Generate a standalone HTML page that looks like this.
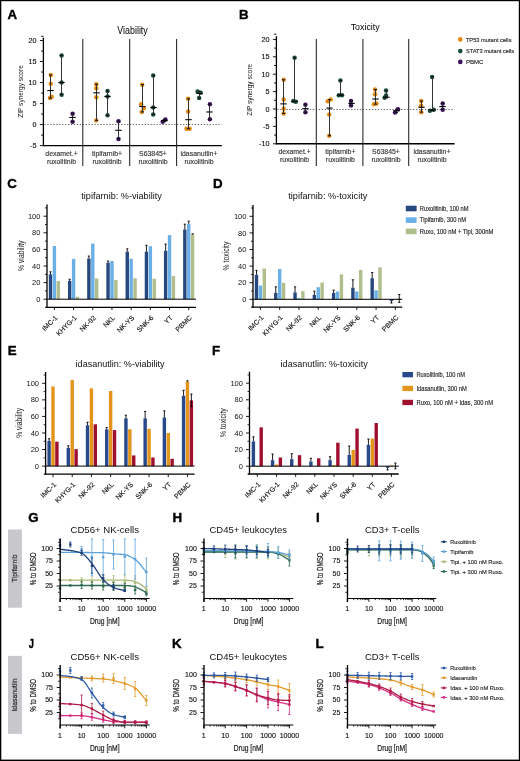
<!DOCTYPE html>
<html><head><meta charset="utf-8"><style>
html,body{margin:0;padding:0;background:#fff;}
svg{display:block;font-family:"Liberation Sans", sans-serif;will-change:transform;}
</style></head><body>
<svg width="520" height="761" viewBox="0 0 520 761">
<rect width="520" height="761" fill="#fff"/>
<rect x="0" y="0" width="520" height="1.2" fill="#000"/>
<rect x="0" y="0" width="1.3" height="761" fill="#000"/>
<rect x="518.8" y="0" width="1.2" height="761" fill="#000"/>
<rect x="0" y="759.6" width="520" height="1.4" fill="#000"/>
<text x="7.5" y="19" font-size="13.3" text-anchor="start" font-weight="bold" fill="#000" stroke="#000" stroke-width="0.4">A</text>
<text x="239.1" y="19" font-size="13.3" text-anchor="start" font-weight="bold" fill="#000" stroke="#000" stroke-width="0.4">B</text>
<text x="7.2" y="188" font-size="13.3" text-anchor="start" font-weight="bold" fill="#000" stroke="#000" stroke-width="0.4">C</text>
<text x="213" y="188.1" font-size="13.3" text-anchor="start" font-weight="bold" fill="#000" stroke="#000" stroke-width="0.4">D</text>
<text x="7.7" y="354.9" font-size="13.3" text-anchor="start" font-weight="bold" fill="#000" stroke="#000" stroke-width="0.4">E</text>
<text x="211.9" y="355.2" font-size="13.3" text-anchor="start" font-weight="bold" fill="#000" stroke="#000" stroke-width="0.4">F</text>
<text x="28.3" y="521.8" font-size="13.3" text-anchor="start" font-weight="bold" fill="#000" stroke="#000" stroke-width="0.4">G</text>
<text x="172.4" y="521.8" font-size="13.3" text-anchor="start" font-weight="bold" fill="#000" stroke="#000" stroke-width="0.4">H</text>
<text x="316" y="521.8" font-size="13.3" text-anchor="start" font-weight="bold" fill="#000" stroke="#000" stroke-width="0.4">I</text>
<text x="28.7" y="647.7" font-size="13.3" text-anchor="start" font-weight="bold" fill="#000" textLength="5.2" lengthAdjust="spacingAndGlyphs" stroke="#000" stroke-width="0.4">J</text>
<text x="171.9" y="647.7" font-size="13.3" text-anchor="start" font-weight="bold" fill="#000" stroke="#000" stroke-width="0.4">K</text>
<text x="315.4" y="647.7" font-size="13.3" text-anchor="start" font-weight="bold" fill="#000" stroke="#000" stroke-width="0.4">L</text>
<line x1="43.4" y1="37.7" x2="43.4" y2="146.32" stroke="#000" stroke-width="1.3" />
<line x1="39.9" y1="145.62" x2="43.4" y2="145.62" stroke="#000" stroke-width="0.9" />
<text x="36.4" y="148.12" font-size="7.2" text-anchor="end" font-weight="normal" fill="#111" stroke="#111" stroke-width="0.13">-5</text>
<line x1="39.9" y1="124.6" x2="43.4" y2="124.6" stroke="#000" stroke-width="0.9" />
<text x="36.4" y="127.1" font-size="7.2" text-anchor="end" font-weight="normal" fill="#111" stroke="#111" stroke-width="0.13">0</text>
<line x1="39.9" y1="103.57" x2="43.4" y2="103.57" stroke="#000" stroke-width="0.9" />
<text x="36.4" y="106.07" font-size="7.2" text-anchor="end" font-weight="normal" fill="#111" stroke="#111" stroke-width="0.13">5</text>
<line x1="39.9" y1="82.55" x2="43.4" y2="82.55" stroke="#000" stroke-width="0.9" />
<text x="36.4" y="85.05" font-size="7.2" text-anchor="end" font-weight="normal" fill="#111" stroke="#111" stroke-width="0.13">10</text>
<line x1="39.9" y1="61.52" x2="43.4" y2="61.52" stroke="#000" stroke-width="0.9" />
<text x="36.4" y="64.02" font-size="7.2" text-anchor="end" font-weight="normal" fill="#111" stroke="#111" stroke-width="0.13">15</text>
<line x1="39.9" y1="40.5" x2="43.4" y2="40.5" stroke="#000" stroke-width="0.9" />
<text x="36.4" y="43" font-size="7.2" text-anchor="end" font-weight="normal" fill="#111" stroke="#111" stroke-width="0.13">20</text>
<line x1="41.2" y1="135.11" x2="43.4" y2="135.11" stroke="#000" stroke-width="1" />
<line x1="41.2" y1="114.09" x2="43.4" y2="114.09" stroke="#000" stroke-width="1" />
<line x1="41.2" y1="93.06" x2="43.4" y2="93.06" stroke="#000" stroke-width="1" />
<line x1="41.2" y1="72.04" x2="43.4" y2="72.04" stroke="#000" stroke-width="1" />
<line x1="41.2" y1="51.01" x2="43.4" y2="51.01" stroke="#000" stroke-width="1" />
<line x1="41.2" y1="36.29" x2="43.4" y2="36.29" stroke="#000" stroke-width="1" />
<line x1="43.4" y1="145.62" x2="221.8" y2="145.62" stroke="#000" stroke-width="1.4" />
<line x1="44.4" y1="124.5" x2="221.8" y2="124.5" stroke="#666" stroke-width="1" stroke-dasharray="1.3 1.65"/>
<line x1="82.8" y1="39.1" x2="82.8" y2="166" stroke="#222" stroke-width="1.05" />
<line x1="129.7" y1="39.1" x2="129.7" y2="166" stroke="#222" stroke-width="1.05" />
<line x1="176.6" y1="39.1" x2="176.6" y2="166" stroke="#222" stroke-width="1.05" />
<text x="117.3" y="33.5" font-size="10.1" text-anchor="start" font-weight="normal" fill="#000" textLength="30.5" lengthAdjust="spacingAndGlyphs" >Viability</text>
<text x="22.6" y="91.5" font-size="7.4" text-anchor="middle" font-weight="normal" fill="#111" textLength="52.5" lengthAdjust="spacingAndGlyphs" transform="rotate(-90 22.6 91.5)" >ZIP synergy score</text>
<text x="61.5" y="155.53" font-size="6.9" text-anchor="middle" font-weight="normal" fill="#333" stroke="#333" stroke-width="0.13">dexamet.+</text>
<text x="61.5" y="163.82" font-size="6.9" text-anchor="middle" font-weight="normal" fill="#333" stroke="#333" stroke-width="0.13">ruxolitinib</text>
<text x="107" y="155.53" font-size="6.9" text-anchor="middle" font-weight="normal" fill="#333" stroke="#333" stroke-width="0.13">tipifarnib+</text>
<text x="107" y="163.82" font-size="6.9" text-anchor="middle" font-weight="normal" fill="#333" stroke="#333" stroke-width="0.13">ruxolitinib</text>
<text x="153" y="155.53" font-size="6.9" text-anchor="middle" font-weight="normal" fill="#333" stroke="#333" stroke-width="0.13">S63845+</text>
<text x="153" y="163.82" font-size="6.9" text-anchor="middle" font-weight="normal" fill="#333" stroke="#333" stroke-width="0.13">ruxolitinib</text>
<text x="199" y="155.53" font-size="6.9" text-anchor="middle" font-weight="normal" fill="#333" stroke="#333" stroke-width="0.13">idasanutlin+</text>
<text x="199" y="163.82" font-size="6.9" text-anchor="middle" font-weight="normal" fill="#333" stroke="#333" stroke-width="0.13">ruxolitinib</text>
<circle cx="50.8" cy="74.98" r="2.25" fill="#E38A0E"/>
<circle cx="50.8" cy="83.81" r="2.25" fill="#E38A0E"/>
<circle cx="51.6" cy="96.85" r="2.25" fill="#E38A0E"/>
<circle cx="50" cy="98.11" r="2.25" fill="#E38A0E"/>
<line x1="50.5" y1="74.98" x2="50.5" y2="98.11" stroke="#333" stroke-width="1.05" />
<line x1="49" y1="74.98" x2="52" y2="74.98" stroke="#111" stroke-width="1" />
<line x1="49" y1="98.11" x2="52" y2="98.11" stroke="#111" stroke-width="1" />
<line x1="47.3" y1="90.54" x2="53.7" y2="90.54" stroke="#000" stroke-width="1.1" />
<circle cx="61.6" cy="55.39" r="2.25" fill="#1B4D37"/>
<circle cx="61.6" cy="82.55" r="2.25" fill="#1B4D37"/>
<circle cx="61.6" cy="94.74" r="2.25" fill="#1B4D37"/>
<line x1="61.5" y1="55.39" x2="61.5" y2="94.74" stroke="#333" stroke-width="1.05" />
<line x1="60" y1="55.39" x2="63" y2="55.39" stroke="#111" stroke-width="1" />
<line x1="60" y1="94.74" x2="63" y2="94.74" stroke="#111" stroke-width="1" />
<line x1="58.3" y1="82.55" x2="64.7" y2="82.55" stroke="#000" stroke-width="1.1" />
<circle cx="72.6" cy="113.67" r="2.25" fill="#3D1160"/>
<circle cx="72.6" cy="121.66" r="2.25" fill="#3D1160"/>
<line x1="72.5" y1="113.67" x2="72.5" y2="121.66" stroke="#333" stroke-width="1.05" />
<line x1="71" y1="113.67" x2="74" y2="113.67" stroke="#111" stroke-width="1" />
<line x1="71" y1="121.66" x2="74" y2="121.66" stroke="#111" stroke-width="1" />
<line x1="69.3" y1="117.45" x2="75.7" y2="117.45" stroke="#000" stroke-width="1.1" />
<circle cx="96.25" cy="84.23" r="2.25" fill="#E38A0E"/>
<circle cx="96.25" cy="88.23" r="2.25" fill="#E38A0E"/>
<circle cx="96.25" cy="97.27" r="2.25" fill="#E38A0E"/>
<circle cx="96.25" cy="120.39" r="2.25" fill="#E38A0E"/>
<line x1="96.5" y1="84.23" x2="96.5" y2="120.39" stroke="#333" stroke-width="1.05" />
<line x1="95" y1="84.23" x2="98" y2="84.23" stroke="#111" stroke-width="1" />
<line x1="95" y1="120.39" x2="98" y2="120.39" stroke="#111" stroke-width="1" />
<line x1="93.3" y1="92.85" x2="99.7" y2="92.85" stroke="#000" stroke-width="1.1" />
<circle cx="107.55" cy="90.96" r="2.25" fill="#1B4D37"/>
<circle cx="107.55" cy="96.43" r="2.25" fill="#1B4D37"/>
<circle cx="107.55" cy="115.35" r="2.25" fill="#1B4D37"/>
<line x1="107.5" y1="90.96" x2="107.5" y2="115.35" stroke="#333" stroke-width="1.05" />
<line x1="106" y1="90.96" x2="109" y2="90.96" stroke="#111" stroke-width="1" />
<line x1="106" y1="115.35" x2="109" y2="115.35" stroke="#111" stroke-width="1" />
<line x1="104.3" y1="96.43" x2="110.7" y2="96.43" stroke="#000" stroke-width="1.1" />
<circle cx="118.5" cy="121.24" r="2.25" fill="#3D1160"/>
<circle cx="118.5" cy="138.9" r="2.25" fill="#3D1160"/>
<line x1="118.5" y1="121.24" x2="118.5" y2="138.9" stroke="#333" stroke-width="1.05" />
<line x1="117" y1="121.24" x2="120" y2="121.24" stroke="#111" stroke-width="1" />
<line x1="117" y1="138.9" x2="120" y2="138.9" stroke="#111" stroke-width="1" />
<line x1="115.3" y1="130.28" x2="121.7" y2="130.28" stroke="#000" stroke-width="1.1" />
<circle cx="142.2" cy="84.65" r="2.25" fill="#E38A0E"/>
<circle cx="141.2" cy="104.21" r="2.25" fill="#E38A0E"/>
<circle cx="143.7" cy="108.2" r="2.25" fill="#E38A0E"/>
<circle cx="141.7" cy="111.98" r="2.25" fill="#E38A0E"/>
<line x1="142.5" y1="84.65" x2="142.5" y2="111.98" stroke="#333" stroke-width="1.05" />
<line x1="141" y1="84.65" x2="144" y2="84.65" stroke="#111" stroke-width="1" />
<line x1="141" y1="111.98" x2="144" y2="111.98" stroke="#111" stroke-width="1" />
<line x1="139.3" y1="106.52" x2="145.7" y2="106.52" stroke="#000" stroke-width="1.1" />
<circle cx="153.2" cy="75.4" r="2.25" fill="#1B4D37"/>
<circle cx="153.2" cy="107.53" r="2.25" fill="#1B4D37"/>
<circle cx="153.2" cy="114.51" r="2.25" fill="#1B4D37"/>
<line x1="153.5" y1="75.4" x2="153.5" y2="114.51" stroke="#333" stroke-width="1.05" />
<line x1="152" y1="75.4" x2="155" y2="75.4" stroke="#111" stroke-width="1" />
<line x1="152" y1="114.51" x2="155" y2="114.51" stroke="#111" stroke-width="1" />
<line x1="150.3" y1="107.53" x2="156.7" y2="107.53" stroke="#000" stroke-width="1.1" />
<circle cx="162.7" cy="121.66" r="2.25" fill="#3D1160"/>
<circle cx="165.4" cy="119.55" r="2.25" fill="#3D1160"/>
<line x1="164.5" y1="119.55" x2="164.5" y2="121.66" stroke="#333" stroke-width="1.05" />
<line x1="163" y1="119.55" x2="166" y2="119.55" stroke="#111" stroke-width="1" />
<line x1="163" y1="121.66" x2="166" y2="121.66" stroke="#111" stroke-width="1" />
<line x1="161.3" y1="120.61" x2="167.7" y2="120.61" stroke="#000" stroke-width="1.1" />
<circle cx="188.1" cy="98.74" r="2.25" fill="#E38A0E"/>
<circle cx="188.1" cy="111.56" r="2.25" fill="#E38A0E"/>
<circle cx="186.6" cy="128.81" r="2.25" fill="#E38A0E"/>
<circle cx="189.6" cy="128.81" r="2.25" fill="#E38A0E"/>
<line x1="188.5" y1="98.74" x2="188.5" y2="128.81" stroke="#333" stroke-width="1.05" />
<line x1="187" y1="98.74" x2="190" y2="98.74" stroke="#111" stroke-width="1" />
<line x1="187" y1="128.81" x2="190" y2="128.81" stroke="#111" stroke-width="1" />
<line x1="185.3" y1="119.68" x2="191.7" y2="119.68" stroke="#000" stroke-width="1.1" />
<circle cx="197.6" cy="91.38" r="2.25" fill="#1B4D37"/>
<circle cx="200.6" cy="92.64" r="2.25" fill="#1B4D37"/>
<circle cx="199.1" cy="98.11" r="2.25" fill="#1B4D37"/>
<line x1="199.5" y1="91.38" x2="199.5" y2="98.11" stroke="#333" stroke-width="1.05" />
<line x1="198" y1="91.38" x2="201" y2="91.38" stroke="#111" stroke-width="1" />
<line x1="198" y1="98.11" x2="201" y2="98.11" stroke="#111" stroke-width="1" />
<line x1="196.3" y1="93.48" x2="202.7" y2="93.48" stroke="#000" stroke-width="1.1" />
<circle cx="209.9" cy="104.21" r="2.25" fill="#3D1160"/>
<circle cx="209.9" cy="119.13" r="2.25" fill="#3D1160"/>
<line x1="209.5" y1="104.21" x2="209.5" y2="119.13" stroke="#333" stroke-width="1.05" />
<line x1="208" y1="104.21" x2="211" y2="104.21" stroke="#111" stroke-width="1" />
<line x1="208" y1="119.13" x2="211" y2="119.13" stroke="#111" stroke-width="1" />
<line x1="206.3" y1="111.98" x2="212.7" y2="111.98" stroke="#000" stroke-width="1.1" />
<line x1="276.4" y1="36.2" x2="276.4" y2="144.5" stroke="#000" stroke-width="1.3" />
<line x1="272.9" y1="143.8" x2="276.4" y2="143.8" stroke="#000" stroke-width="0.9" />
<text x="269.4" y="146.3" font-size="7.2" text-anchor="end" font-weight="normal" fill="#111" stroke="#111" stroke-width="0.13">-10</text>
<line x1="272.9" y1="126.4" x2="276.4" y2="126.4" stroke="#000" stroke-width="0.9" />
<text x="269.4" y="128.9" font-size="7.2" text-anchor="end" font-weight="normal" fill="#111" stroke="#111" stroke-width="0.13">-5</text>
<line x1="272.9" y1="109" x2="276.4" y2="109" stroke="#000" stroke-width="0.9" />
<text x="269.4" y="111.5" font-size="7.2" text-anchor="end" font-weight="normal" fill="#111" stroke="#111" stroke-width="0.13">0</text>
<line x1="272.9" y1="91.6" x2="276.4" y2="91.6" stroke="#000" stroke-width="0.9" />
<text x="269.4" y="94.1" font-size="7.2" text-anchor="end" font-weight="normal" fill="#111" stroke="#111" stroke-width="0.13">5</text>
<line x1="272.9" y1="74.2" x2="276.4" y2="74.2" stroke="#000" stroke-width="0.9" />
<text x="269.4" y="76.7" font-size="7.2" text-anchor="end" font-weight="normal" fill="#111" stroke="#111" stroke-width="0.13">10</text>
<line x1="272.9" y1="56.8" x2="276.4" y2="56.8" stroke="#000" stroke-width="0.9" />
<text x="269.4" y="59.3" font-size="7.2" text-anchor="end" font-weight="normal" fill="#111" stroke="#111" stroke-width="0.13">15</text>
<line x1="272.9" y1="39.4" x2="276.4" y2="39.4" stroke="#000" stroke-width="0.9" />
<text x="269.4" y="41.9" font-size="7.2" text-anchor="end" font-weight="normal" fill="#111" stroke="#111" stroke-width="0.13">20</text>
<line x1="274.2" y1="135.1" x2="276.4" y2="135.1" stroke="#000" stroke-width="1" />
<line x1="274.2" y1="117.7" x2="276.4" y2="117.7" stroke="#000" stroke-width="1" />
<line x1="274.2" y1="100.3" x2="276.4" y2="100.3" stroke="#000" stroke-width="1" />
<line x1="274.2" y1="82.9" x2="276.4" y2="82.9" stroke="#000" stroke-width="1" />
<line x1="274.2" y1="65.5" x2="276.4" y2="65.5" stroke="#000" stroke-width="1" />
<line x1="274.2" y1="48.1" x2="276.4" y2="48.1" stroke="#000" stroke-width="1" />
<line x1="274.2" y1="34.18" x2="276.4" y2="34.18" stroke="#000" stroke-width="1" />
<line x1="276.4" y1="143.8" x2="454.6" y2="143.8" stroke="#000" stroke-width="1.4" />
<line x1="277.4" y1="109.5" x2="454.6" y2="109.5" stroke="#666" stroke-width="1" stroke-dasharray="1.3 1.65"/>
<line x1="316.3" y1="39.1" x2="316.3" y2="166" stroke="#222" stroke-width="1.05" />
<line x1="362.9" y1="39.1" x2="362.9" y2="166" stroke="#222" stroke-width="1.05" />
<line x1="408.7" y1="39.1" x2="408.7" y2="166" stroke="#222" stroke-width="1.05" />
<text x="350.7" y="29.9" font-size="9.4" text-anchor="start" font-weight="normal" fill="#000" textLength="29" lengthAdjust="spacingAndGlyphs" >Toxicity</text>
<text x="252.3" y="89.8" font-size="7.4" text-anchor="middle" font-weight="normal" fill="#111" textLength="52" lengthAdjust="spacingAndGlyphs" transform="rotate(-90 252.3 89.8)" >ZIP synergy score</text>
<text x="294.6" y="153.7" font-size="6.9" text-anchor="middle" font-weight="normal" fill="#333" stroke="#333" stroke-width="0.13">dexamet.+</text>
<text x="294.6" y="162" font-size="6.9" text-anchor="middle" font-weight="normal" fill="#333" stroke="#333" stroke-width="0.13">ruxolitinib</text>
<text x="340.4" y="153.7" font-size="6.9" text-anchor="middle" font-weight="normal" fill="#333" stroke="#333" stroke-width="0.13">tipifarnib+</text>
<text x="340.4" y="162" font-size="6.9" text-anchor="middle" font-weight="normal" fill="#333" stroke="#333" stroke-width="0.13">ruxolitinib</text>
<text x="386" y="153.7" font-size="6.9" text-anchor="middle" font-weight="normal" fill="#333" stroke="#333" stroke-width="0.13">S63845+</text>
<text x="386" y="162" font-size="6.9" text-anchor="middle" font-weight="normal" fill="#333" stroke="#333" stroke-width="0.13">ruxolitinib</text>
<text x="432" y="153.7" font-size="6.9" text-anchor="middle" font-weight="normal" fill="#333" stroke="#333" stroke-width="0.13">idasanutlin+</text>
<text x="432" y="162" font-size="6.9" text-anchor="middle" font-weight="normal" fill="#333" stroke="#333" stroke-width="0.13">ruxolitinib</text>
<circle cx="283.7" cy="79.77" r="2.25" fill="#E38A0E"/>
<circle cx="283.7" cy="99.4" r="2.25" fill="#E38A0E"/>
<circle cx="283.7" cy="108.65" r="2.25" fill="#E38A0E"/>
<circle cx="283.7" cy="113.52" r="2.25" fill="#E38A0E"/>
<line x1="283.5" y1="79.77" x2="283.5" y2="113.52" stroke="#333" stroke-width="1.05" />
<line x1="282" y1="79.77" x2="285" y2="79.77" stroke="#111" stroke-width="1" />
<line x1="282" y1="113.52" x2="285" y2="113.52" stroke="#111" stroke-width="1" />
<line x1="280.3" y1="103.88" x2="286.7" y2="103.88" stroke="#000" stroke-width="1.1" />
<circle cx="294.6" cy="57.84" r="2.25" fill="#1B4D37"/>
<circle cx="293.4" cy="101" r="2.25" fill="#1B4D37"/>
<circle cx="295.8" cy="101.69" r="2.25" fill="#1B4D37"/>
<line x1="294.5" y1="57.84" x2="294.5" y2="101.69" stroke="#333" stroke-width="1.05" />
<line x1="293" y1="57.84" x2="296" y2="57.84" stroke="#111" stroke-width="1" />
<line x1="293" y1="101.69" x2="296" y2="101.69" stroke="#111" stroke-width="1" />
<line x1="291.3" y1="101.34" x2="297.7" y2="101.34" stroke="#000" stroke-width="1.1" />
<circle cx="305.4" cy="104.82" r="2.25" fill="#3D1160"/>
<circle cx="305.4" cy="112.31" r="2.25" fill="#3D1160"/>
<line x1="305.5" y1="104.82" x2="305.5" y2="112.31" stroke="#333" stroke-width="1.05" />
<line x1="304" y1="104.82" x2="307" y2="104.82" stroke="#111" stroke-width="1" />
<line x1="304" y1="112.31" x2="307" y2="112.31" stroke="#111" stroke-width="1" />
<line x1="302.3" y1="108.65" x2="308.7" y2="108.65" stroke="#000" stroke-width="1.1" />
<circle cx="330.7" cy="99.6" r="2.25" fill="#E38A0E"/>
<circle cx="327.7" cy="101.34" r="2.25" fill="#E38A0E"/>
<circle cx="329.2" cy="114.57" r="2.25" fill="#E38A0E"/>
<circle cx="329.2" cy="135.8" r="2.25" fill="#E38A0E"/>
<line x1="329.5" y1="99.6" x2="329.5" y2="135.8" stroke="#333" stroke-width="1.05" />
<line x1="328" y1="99.6" x2="331" y2="99.6" stroke="#111" stroke-width="1" />
<line x1="328" y1="135.8" x2="331" y2="135.8" stroke="#111" stroke-width="1" />
<line x1="326.3" y1="108.1" x2="332.7" y2="108.1" stroke="#000" stroke-width="1.1" />
<circle cx="340.4" cy="80.46" r="2.25" fill="#1B4D37"/>
<circle cx="338.8" cy="95.18" r="2.25" fill="#1B4D37"/>
<circle cx="342" cy="95.18" r="2.25" fill="#1B4D37"/>
<line x1="340.5" y1="80.46" x2="340.5" y2="95.18" stroke="#333" stroke-width="1.05" />
<line x1="339" y1="80.46" x2="342" y2="80.46" stroke="#111" stroke-width="1" />
<line x1="339" y1="95.18" x2="342" y2="95.18" stroke="#111" stroke-width="1" />
<line x1="337.3" y1="95.08" x2="343.7" y2="95.08" stroke="#000" stroke-width="1.1" />
<circle cx="351" cy="101" r="2.25" fill="#3D1160"/>
<circle cx="351" cy="105.42" r="2.25" fill="#3D1160"/>
<line x1="351.5" y1="101" x2="351.5" y2="105.42" stroke="#333" stroke-width="1.05" />
<line x1="350" y1="101" x2="353" y2="101" stroke="#111" stroke-width="1" />
<line x1="350" y1="105.42" x2="353" y2="105.42" stroke="#111" stroke-width="1" />
<line x1="348.3" y1="103.43" x2="354.7" y2="103.43" stroke="#000" stroke-width="1.1" />
<circle cx="375" cy="89.51" r="2.25" fill="#E38A0E"/>
<circle cx="375" cy="94.21" r="2.25" fill="#E38A0E"/>
<circle cx="374" cy="104.13" r="2.25" fill="#E38A0E"/>
<circle cx="376.5" cy="103.43" r="2.25" fill="#E38A0E"/>
<line x1="375.5" y1="89.51" x2="375.5" y2="104.13" stroke="#333" stroke-width="1.05" />
<line x1="374" y1="89.51" x2="377" y2="89.51" stroke="#111" stroke-width="1" />
<line x1="374" y1="104.13" x2="377" y2="104.13" stroke="#111" stroke-width="1" />
<line x1="372.3" y1="99.01" x2="378.7" y2="99.01" stroke="#000" stroke-width="1.1" />
<circle cx="386" cy="90.56" r="2.25" fill="#1B4D37"/>
<circle cx="386" cy="95.6" r="2.25" fill="#1B4D37"/>
<circle cx="384.6" cy="97.86" r="2.25" fill="#1B4D37"/>
<line x1="386.5" y1="90.56" x2="386.5" y2="97.86" stroke="#333" stroke-width="1.05" />
<line x1="385" y1="90.56" x2="388" y2="90.56" stroke="#111" stroke-width="1" />
<line x1="385" y1="97.86" x2="388" y2="97.86" stroke="#111" stroke-width="1" />
<line x1="383.3" y1="97.17" x2="389.7" y2="97.17" stroke="#000" stroke-width="1.1" />
<circle cx="398" cy="109.21" r="2.25" fill="#3D1160"/>
<circle cx="395" cy="112.48" r="2.25" fill="#3D1160"/>
<line x1="396.5" y1="109.21" x2="396.5" y2="112.48" stroke="#333" stroke-width="1.05" />
<line x1="395" y1="109.21" x2="398" y2="109.21" stroke="#111" stroke-width="1" />
<line x1="395" y1="112.48" x2="398" y2="112.48" stroke="#111" stroke-width="1" />
<line x1="393.3" y1="110.74" x2="399.7" y2="110.74" stroke="#000" stroke-width="1.1" />
<circle cx="421.2" cy="101" r="2.25" fill="#E38A0E"/>
<circle cx="421.2" cy="105.87" r="2.25" fill="#E38A0E"/>
<circle cx="421.2" cy="112.13" r="2.25" fill="#E38A0E"/>
<line x1="421.5" y1="101" x2="421.5" y2="112.13" stroke="#333" stroke-width="1.05" />
<line x1="420" y1="101" x2="423" y2="101" stroke="#111" stroke-width="1" />
<line x1="420" y1="112.13" x2="423" y2="112.13" stroke="#111" stroke-width="1" />
<line x1="418.3" y1="107.26" x2="424.7" y2="107.26" stroke="#000" stroke-width="1.1" />
<circle cx="432.1" cy="76.98" r="2.25" fill="#1B4D37"/>
<circle cx="429.9" cy="110.74" r="2.25" fill="#1B4D37"/>
<circle cx="433.7" cy="109.7" r="2.25" fill="#1B4D37"/>
<line x1="432.5" y1="76.98" x2="432.5" y2="110.74" stroke="#333" stroke-width="1.05" />
<line x1="431" y1="76.98" x2="434" y2="76.98" stroke="#111" stroke-width="1" />
<line x1="431" y1="110.74" x2="434" y2="110.74" stroke="#111" stroke-width="1" />
<line x1="429.3" y1="110.04" x2="435.7" y2="110.04" stroke="#000" stroke-width="1.1" />
<circle cx="442.7" cy="103.43" r="2.25" fill="#3D1160"/>
<circle cx="442.7" cy="109.7" r="2.25" fill="#3D1160"/>
<line x1="442.5" y1="103.43" x2="442.5" y2="109.7" stroke="#333" stroke-width="1.05" />
<line x1="441" y1="103.43" x2="444" y2="103.43" stroke="#111" stroke-width="1" />
<line x1="441" y1="109.7" x2="444" y2="109.7" stroke="#111" stroke-width="1" />
<line x1="439.3" y1="106.56" x2="445.7" y2="106.56" stroke="#000" stroke-width="1.1" />
<circle cx="460.3" cy="39.4" r="2.3" fill="#E38A0E"/>
<text x="465.9" y="41.5" font-size="6" text-anchor="start" font-weight="normal" fill="#222" textLength="45.6" lengthAdjust="spacingAndGlyphs" stroke="#222" stroke-width="0.13">TP53 mutant cells</text>
<circle cx="460.3" cy="51.1" r="2.3" fill="#1B4D37"/>
<text x="465.9" y="53.2" font-size="6" text-anchor="start" font-weight="normal" fill="#222" textLength="48.3" lengthAdjust="spacingAndGlyphs" stroke="#222" stroke-width="0.13">STAT3 mutant cells</text>
<circle cx="460.3" cy="61.9" r="2.3" fill="#3D1160"/>
<text x="465.9" y="64" font-size="6" text-anchor="start" font-weight="normal" fill="#222" textLength="17.6" lengthAdjust="spacingAndGlyphs" stroke="#222" stroke-width="0.13">PBMC</text>
<line x1="47" y1="204.6" x2="47" y2="307.9" stroke="#000" stroke-width="1.3" />
<line x1="43.5" y1="299.2" x2="47" y2="299.2" stroke="#000" stroke-width="0.9" />
<text x="40.4" y="301.8" font-size="7.5" text-anchor="end" font-weight="normal" fill="#111" >0</text>
<line x1="43.5" y1="282.6" x2="47" y2="282.6" stroke="#000" stroke-width="0.9" />
<text x="40.4" y="285.2" font-size="7.5" text-anchor="end" font-weight="normal" fill="#111" >20</text>
<line x1="43.5" y1="266" x2="47" y2="266" stroke="#000" stroke-width="0.9" />
<text x="40.4" y="268.6" font-size="7.5" text-anchor="end" font-weight="normal" fill="#111" >40</text>
<line x1="43.5" y1="249.4" x2="47" y2="249.4" stroke="#000" stroke-width="0.9" />
<text x="40.4" y="252" font-size="7.5" text-anchor="end" font-weight="normal" fill="#111" >60</text>
<line x1="43.5" y1="232.8" x2="47" y2="232.8" stroke="#000" stroke-width="0.9" />
<text x="40.4" y="235.4" font-size="7.5" text-anchor="end" font-weight="normal" fill="#111" >80</text>
<line x1="43.5" y1="216.2" x2="47" y2="216.2" stroke="#000" stroke-width="0.9" />
<text x="40.4" y="218.8" font-size="7.5" text-anchor="end" font-weight="normal" fill="#111" >100</text>
<line x1="45" y1="290.9" x2="47" y2="290.9" stroke="#000" stroke-width="0.8" />
<line x1="45" y1="274.3" x2="47" y2="274.3" stroke="#000" stroke-width="0.8" />
<line x1="45" y1="257.7" x2="47" y2="257.7" stroke="#000" stroke-width="0.8" />
<line x1="45" y1="241.1" x2="47" y2="241.1" stroke="#000" stroke-width="0.8" />
<line x1="45" y1="224.5" x2="47" y2="224.5" stroke="#000" stroke-width="0.8" />
<line x1="45" y1="207.9" x2="47" y2="207.9" stroke="#000" stroke-width="0.8" />
<rect x="48.8" y="274.3" width="3.4" height="24.9" fill="#27477F"/>
<rect x="52.7" y="246.08" width="3.4" height="53.12" fill="#6AAFE6"/>
<rect x="56.6" y="280.94" width="3.4" height="18.26" fill="#B0BE8C"/>
<line x1="50.5" y1="274.3" x2="50.5" y2="271.81" stroke="#000" stroke-width="0.9" />
<line x1="49.4" y1="271.81" x2="51.6" y2="271.81" stroke="#000" stroke-width="0.9" />
<rect x="67.99" y="280.94" width="3.4" height="18.26" fill="#27477F"/>
<rect x="71.89" y="258.94" width="3.4" height="40.25" fill="#6AAFE6"/>
<rect x="75.79" y="296.71" width="3.4" height="2.49" fill="#B0BE8C"/>
<line x1="69.69" y1="280.94" x2="69.69" y2="279.28" stroke="#000" stroke-width="0.9" />
<line x1="68.59" y1="279.28" x2="70.79" y2="279.28" stroke="#000" stroke-width="0.9" />
<rect x="87.18" y="258.53" width="3.4" height="40.67" fill="#27477F"/>
<rect x="91.08" y="243.59" width="3.4" height="55.61" fill="#6AAFE6"/>
<rect x="94.98" y="278.45" width="3.4" height="20.75" fill="#B0BE8C"/>
<line x1="88.88" y1="258.53" x2="88.88" y2="256.04" stroke="#000" stroke-width="0.9" />
<line x1="87.78" y1="256.04" x2="89.98" y2="256.04" stroke="#000" stroke-width="0.9" />
<rect x="106.37" y="262.68" width="3.4" height="36.52" fill="#27477F"/>
<rect x="110.27" y="261.02" width="3.4" height="38.18" fill="#6AAFE6"/>
<rect x="114.17" y="280.11" width="3.4" height="19.09" fill="#B0BE8C"/>
<line x1="108.07" y1="262.68" x2="108.07" y2="261.02" stroke="#000" stroke-width="0.9" />
<line x1="106.97" y1="261.02" x2="109.17" y2="261.02" stroke="#000" stroke-width="0.9" />
<rect x="125.56" y="251.64" width="3.4" height="47.56" fill="#27477F"/>
<rect x="129.46" y="258.78" width="3.4" height="40.42" fill="#6AAFE6"/>
<rect x="133.36" y="278.2" width="3.4" height="21" fill="#B0BE8C"/>
<line x1="127.26" y1="251.64" x2="127.26" y2="248.82" stroke="#000" stroke-width="0.9" />
<line x1="126.16" y1="248.82" x2="128.36" y2="248.82" stroke="#000" stroke-width="0.9" />
<rect x="144.75" y="251.64" width="3.4" height="47.56" fill="#27477F"/>
<rect x="148.65" y="246.25" width="3.4" height="52.95" fill="#6AAFE6"/>
<rect x="152.55" y="278.7" width="3.4" height="20.5" fill="#B0BE8C"/>
<line x1="146.45" y1="251.64" x2="146.45" y2="245.25" stroke="#000" stroke-width="0.9" />
<line x1="145.35" y1="245.25" x2="147.55" y2="245.25" stroke="#000" stroke-width="0.9" />
<rect x="163.94" y="250.73" width="3.4" height="48.47" fill="#27477F"/>
<rect x="167.84" y="235.12" width="3.4" height="64.08" fill="#6AAFE6"/>
<rect x="171.74" y="276.13" width="3.4" height="23.07" fill="#B0BE8C"/>
<line x1="165.64" y1="250.73" x2="165.64" y2="244.09" stroke="#000" stroke-width="0.9" />
<line x1="164.54" y1="244.09" x2="166.74" y2="244.09" stroke="#000" stroke-width="0.9" />
<rect x="183.13" y="229.48" width="3.4" height="69.72" fill="#27477F"/>
<rect x="187.03" y="223.92" width="3.4" height="75.28" fill="#6AAFE6"/>
<rect x="190.93" y="234.63" width="3.4" height="64.57" fill="#B0BE8C"/>
<line x1="184.83" y1="229.48" x2="184.83" y2="224.17" stroke="#000" stroke-width="0.9" />
<line x1="183.73" y1="224.17" x2="185.93" y2="224.17" stroke="#000" stroke-width="0.9" />
<line x1="188.73" y1="223.92" x2="188.73" y2="221.18" stroke="#000" stroke-width="0.9" />
<line x1="187.63" y1="221.18" x2="189.83" y2="221.18" stroke="#000" stroke-width="0.9" />
<line x1="192.63" y1="234.63" x2="192.63" y2="233.8" stroke="#000" stroke-width="0.9" />
<line x1="191.53" y1="233.8" x2="193.73" y2="233.8" stroke="#000" stroke-width="0.9" />
<line x1="47" y1="299.2" x2="196" y2="299.2" stroke="#000" stroke-width="1" />
<line x1="45.2" y1="307.3" x2="196" y2="307.3" stroke="#000" stroke-width="1.3" />
<line x1="54.4" y1="307.3" x2="54.4" y2="310.1" stroke="#000" stroke-width="0.9" />
<text x="58" y="318.2" font-size="6.9" text-anchor="end" font-weight="normal" fill="#111" transform="rotate(-45 58 318.2)" stroke="#111" stroke-width="0.13">IMC-1</text>
<line x1="73.59" y1="307.3" x2="73.59" y2="310.1" stroke="#000" stroke-width="0.9" />
<text x="77.19" y="318.2" font-size="6.9" text-anchor="end" font-weight="normal" fill="#111" transform="rotate(-45 77.19 318.2)" stroke="#111" stroke-width="0.13">KHYG-1</text>
<line x1="92.78" y1="307.3" x2="92.78" y2="310.1" stroke="#000" stroke-width="0.9" />
<text x="96.38" y="318.2" font-size="6.9" text-anchor="end" font-weight="normal" fill="#111" transform="rotate(-45 96.38 318.2)" stroke="#111" stroke-width="0.13">NK-92</text>
<line x1="111.97" y1="307.3" x2="111.97" y2="310.1" stroke="#000" stroke-width="0.9" />
<text x="115.57" y="318.2" font-size="6.9" text-anchor="end" font-weight="normal" fill="#111" transform="rotate(-45 115.57 318.2)" stroke="#111" stroke-width="0.13">NKL</text>
<line x1="131.16" y1="307.3" x2="131.16" y2="310.1" stroke="#000" stroke-width="0.9" />
<text x="134.76" y="318.2" font-size="6.9" text-anchor="end" font-weight="normal" fill="#111" transform="rotate(-45 134.76 318.2)" stroke="#111" stroke-width="0.13">NK-YS</text>
<line x1="150.35" y1="307.3" x2="150.35" y2="310.1" stroke="#000" stroke-width="0.9" />
<text x="153.95" y="318.2" font-size="6.9" text-anchor="end" font-weight="normal" fill="#111" transform="rotate(-45 153.95 318.2)" stroke="#111" stroke-width="0.13">SNK-6</text>
<line x1="169.54" y1="307.3" x2="169.54" y2="310.1" stroke="#000" stroke-width="0.9" />
<text x="173.14" y="318.2" font-size="6.9" text-anchor="end" font-weight="normal" fill="#111" transform="rotate(-45 173.14 318.2)" stroke="#111" stroke-width="0.13">YT</text>
<line x1="188.73" y1="307.3" x2="188.73" y2="310.1" stroke="#000" stroke-width="0.9" />
<text x="192.33" y="318.2" font-size="6.9" text-anchor="end" font-weight="normal" fill="#111" transform="rotate(-45 192.33 318.2)" stroke="#111" stroke-width="0.13">PBMC</text>
<text x="81.3" y="199" font-size="8.7" text-anchor="start" font-weight="normal" fill="#111" textLength="80.5" lengthAdjust="spacingAndGlyphs" >tipifarnib: %-viability</text>
<text x="23.6" y="255.8" font-size="8.2" text-anchor="middle" font-weight="normal" fill="#111" textLength="30.6" lengthAdjust="spacingAndGlyphs" transform="rotate(-90 23.6 255.8)" >% viability</text>
<line x1="253" y1="205.1" x2="253" y2="307.7" stroke="#000" stroke-width="1.3" />
<line x1="249.5" y1="299.3" x2="253" y2="299.3" stroke="#000" stroke-width="0.9" />
<text x="246.4" y="301.9" font-size="7.5" text-anchor="end" font-weight="normal" fill="#111" >0</text>
<line x1="249.5" y1="282.7" x2="253" y2="282.7" stroke="#000" stroke-width="0.9" />
<text x="246.4" y="285.3" font-size="7.5" text-anchor="end" font-weight="normal" fill="#111" >20</text>
<line x1="249.5" y1="266.1" x2="253" y2="266.1" stroke="#000" stroke-width="0.9" />
<text x="246.4" y="268.7" font-size="7.5" text-anchor="end" font-weight="normal" fill="#111" >40</text>
<line x1="249.5" y1="249.5" x2="253" y2="249.5" stroke="#000" stroke-width="0.9" />
<text x="246.4" y="252.1" font-size="7.5" text-anchor="end" font-weight="normal" fill="#111" >60</text>
<line x1="249.5" y1="232.9" x2="253" y2="232.9" stroke="#000" stroke-width="0.9" />
<text x="246.4" y="235.5" font-size="7.5" text-anchor="end" font-weight="normal" fill="#111" >80</text>
<line x1="249.5" y1="216.3" x2="253" y2="216.3" stroke="#000" stroke-width="0.9" />
<text x="246.4" y="218.9" font-size="7.5" text-anchor="end" font-weight="normal" fill="#111" >100</text>
<line x1="251" y1="291" x2="253" y2="291" stroke="#000" stroke-width="0.8" />
<line x1="251" y1="274.4" x2="253" y2="274.4" stroke="#000" stroke-width="0.8" />
<line x1="251" y1="257.8" x2="253" y2="257.8" stroke="#000" stroke-width="0.8" />
<line x1="251" y1="241.2" x2="253" y2="241.2" stroke="#000" stroke-width="0.8" />
<line x1="251" y1="224.6" x2="253" y2="224.6" stroke="#000" stroke-width="0.8" />
<line x1="251" y1="208" x2="253" y2="208" stroke="#000" stroke-width="0.8" />
<rect x="254.8" y="274.73" width="3.4" height="24.57" fill="#27477F"/>
<rect x="258.7" y="285.52" width="3.4" height="13.78" fill="#6AAFE6"/>
<rect x="262.6" y="268.51" width="3.4" height="30.79" fill="#B0BE8C"/>
<line x1="256.5" y1="274.73" x2="256.5" y2="270.42" stroke="#000" stroke-width="0.9" />
<line x1="255.4" y1="270.42" x2="257.6" y2="270.42" stroke="#000" stroke-width="0.9" />
<rect x="274.08" y="292.91" width="3.4" height="6.39" fill="#27477F"/>
<rect x="277.98" y="269" width="3.4" height="30.29" fill="#6AAFE6"/>
<rect x="281.88" y="282.87" width="3.4" height="16.43" fill="#B0BE8C"/>
<line x1="275.78" y1="292.91" x2="275.78" y2="286.85" stroke="#000" stroke-width="0.9" />
<line x1="274.68" y1="286.85" x2="276.88" y2="286.85" stroke="#000" stroke-width="0.9" />
<rect x="293.36" y="292.41" width="3.4" height="6.89" fill="#27477F"/>
<rect x="297.26" y="298.06" width="3.4" height="1.24" fill="#6AAFE6"/>
<rect x="301.16" y="291.17" width="3.4" height="8.13" fill="#B0BE8C"/>
<line x1="295.06" y1="292.41" x2="295.06" y2="286.85" stroke="#000" stroke-width="0.9" />
<line x1="293.96" y1="286.85" x2="296.16" y2="286.85" stroke="#000" stroke-width="0.9" />
<rect x="312.64" y="294.98" width="3.4" height="4.32" fill="#27477F"/>
<rect x="316.54" y="287.18" width="3.4" height="12.12" fill="#6AAFE6"/>
<rect x="320.44" y="282.53" width="3.4" height="16.77" fill="#B0BE8C"/>
<line x1="314.34" y1="294.98" x2="314.34" y2="291.17" stroke="#000" stroke-width="0.9" />
<line x1="313.24" y1="291.17" x2="315.44" y2="291.17" stroke="#000" stroke-width="0.9" />
<rect x="331.92" y="292.91" width="3.4" height="6.39" fill="#27477F"/>
<rect x="335.82" y="291.5" width="3.4" height="7.8" fill="#6AAFE6"/>
<rect x="339.72" y="274.4" width="3.4" height="24.9" fill="#B0BE8C"/>
<line x1="333.62" y1="292.91" x2="333.62" y2="290.17" stroke="#000" stroke-width="0.9" />
<line x1="332.52" y1="290.17" x2="334.72" y2="290.17" stroke="#000" stroke-width="0.9" />
<rect x="351.2" y="287.68" width="3.4" height="11.62" fill="#27477F"/>
<rect x="355.1" y="291.5" width="3.4" height="7.8" fill="#6AAFE6"/>
<rect x="359" y="269.92" width="3.4" height="29.38" fill="#B0BE8C"/>
<line x1="352.9" y1="287.68" x2="352.9" y2="279.8" stroke="#000" stroke-width="0.9" />
<line x1="351.8" y1="279.8" x2="354" y2="279.8" stroke="#000" stroke-width="0.9" />
<rect x="370.48" y="278.22" width="3.4" height="21.08" fill="#27477F"/>
<rect x="374.38" y="290.34" width="3.4" height="8.96" fill="#6AAFE6"/>
<rect x="378.28" y="267.35" width="3.4" height="31.95" fill="#B0BE8C"/>
<line x1="372.18" y1="278.22" x2="372.18" y2="272.49" stroke="#000" stroke-width="0.9" />
<line x1="371.08" y1="272.49" x2="373.28" y2="272.49" stroke="#000" stroke-width="0.9" />
<rect x="389.76" y="299.3" width="3.4" height="1.66" fill="#27477F"/>
<rect x="393.66" y="299.3" width="3.4" height="0.58" fill="#6AAFE6"/>
<rect x="397.56" y="298.47" width="3.4" height="0.83" fill="#B0BE8C"/>
<line x1="391.46" y1="300.96" x2="391.46" y2="303.04" stroke="#000" stroke-width="0.9" />
<line x1="390.36" y1="303.04" x2="392.56" y2="303.04" stroke="#000" stroke-width="0.9" />
<line x1="399.26" y1="294.49" x2="399.26" y2="302.45" stroke="#000" stroke-width="0.9" />
<line x1="398.16" y1="294.49" x2="400.36" y2="294.49" stroke="#000" stroke-width="0.9" />
<line x1="398.16" y1="302.45" x2="400.36" y2="302.45" stroke="#000" stroke-width="0.9" />
<line x1="253" y1="299.3" x2="402.2" y2="299.3" stroke="#000" stroke-width="1" />
<line x1="251.2" y1="307.1" x2="402.2" y2="307.1" stroke="#000" stroke-width="1.3" />
<line x1="260.4" y1="307.1" x2="260.4" y2="309.9" stroke="#000" stroke-width="0.9" />
<text x="264" y="318" font-size="6.9" text-anchor="end" font-weight="normal" fill="#111" transform="rotate(-45 264 318)" stroke="#111" stroke-width="0.13">IMC-1</text>
<line x1="279.68" y1="307.1" x2="279.68" y2="309.9" stroke="#000" stroke-width="0.9" />
<text x="283.28" y="318" font-size="6.9" text-anchor="end" font-weight="normal" fill="#111" transform="rotate(-45 283.28 318)" stroke="#111" stroke-width="0.13">KHYG-1</text>
<line x1="298.96" y1="307.1" x2="298.96" y2="309.9" stroke="#000" stroke-width="0.9" />
<text x="302.56" y="318" font-size="6.9" text-anchor="end" font-weight="normal" fill="#111" transform="rotate(-45 302.56 318)" stroke="#111" stroke-width="0.13">NK-92</text>
<line x1="318.24" y1="307.1" x2="318.24" y2="309.9" stroke="#000" stroke-width="0.9" />
<text x="321.84" y="318" font-size="6.9" text-anchor="end" font-weight="normal" fill="#111" transform="rotate(-45 321.84 318)" stroke="#111" stroke-width="0.13">NKL</text>
<line x1="337.52" y1="307.1" x2="337.52" y2="309.9" stroke="#000" stroke-width="0.9" />
<text x="341.12" y="318" font-size="6.9" text-anchor="end" font-weight="normal" fill="#111" transform="rotate(-45 341.12 318)" stroke="#111" stroke-width="0.13">NK-YS</text>
<line x1="356.8" y1="307.1" x2="356.8" y2="309.9" stroke="#000" stroke-width="0.9" />
<text x="360.4" y="318" font-size="6.9" text-anchor="end" font-weight="normal" fill="#111" transform="rotate(-45 360.4 318)" stroke="#111" stroke-width="0.13">SNK-6</text>
<line x1="376.08" y1="307.1" x2="376.08" y2="309.9" stroke="#000" stroke-width="0.9" />
<text x="379.68" y="318" font-size="6.9" text-anchor="end" font-weight="normal" fill="#111" transform="rotate(-45 379.68 318)" stroke="#111" stroke-width="0.13">YT</text>
<line x1="395.36" y1="307.1" x2="395.36" y2="309.9" stroke="#000" stroke-width="0.9" />
<text x="398.96" y="318" font-size="6.9" text-anchor="end" font-weight="normal" fill="#111" transform="rotate(-45 398.96 318)" stroke="#111" stroke-width="0.13">PBMC</text>
<text x="288.2" y="198.9" font-size="8.7" text-anchor="start" font-weight="normal" fill="#111" textLength="79.2" lengthAdjust="spacingAndGlyphs" >tipifarnib: %-toxicity</text>
<text x="229" y="256" font-size="8.2" text-anchor="middle" font-weight="normal" fill="#111" textLength="28.9" lengthAdjust="spacingAndGlyphs" transform="rotate(-90 229 256)" >% toxicity</text>
<rect x="405.8" y="205.7" width="10.8" height="5.6" fill="#27477F"/>
<text x="419.8" y="210.7" font-size="6.3" text-anchor="start" font-weight="normal" fill="#222" textLength="48.8" lengthAdjust="spacingAndGlyphs" stroke="#222" stroke-width="0.13">Ruxolitinib, 100 nM</text>
<rect x="405.8" y="217.3" width="10.8" height="5.6" fill="#6AAFE6"/>
<text x="419.8" y="222.3" font-size="6.3" text-anchor="start" font-weight="normal" fill="#222" textLength="46.3" lengthAdjust="spacingAndGlyphs" stroke="#222" stroke-width="0.13">Tipifarnib, 300 nM</text>
<rect x="405.8" y="228.6" width="10.8" height="5.6" fill="#B0BE8C"/>
<text x="419.8" y="233.6" font-size="6.3" text-anchor="start" font-weight="normal" fill="#222" textLength="73.5" lengthAdjust="spacingAndGlyphs" stroke="#222" stroke-width="0.13">Ruxo, 100 nM + Tipi, 300nM</text>
<line x1="45.6" y1="372" x2="45.6" y2="474.8" stroke="#000" stroke-width="1.3" />
<line x1="42.1" y1="466.1" x2="45.6" y2="466.1" stroke="#000" stroke-width="0.9" />
<text x="39" y="468.7" font-size="7.5" text-anchor="end" font-weight="normal" fill="#111" >0</text>
<line x1="42.1" y1="449.54" x2="45.6" y2="449.54" stroke="#000" stroke-width="0.9" />
<text x="39" y="452.14" font-size="7.5" text-anchor="end" font-weight="normal" fill="#111" >20</text>
<line x1="42.1" y1="432.98" x2="45.6" y2="432.98" stroke="#000" stroke-width="0.9" />
<text x="39" y="435.58" font-size="7.5" text-anchor="end" font-weight="normal" fill="#111" >40</text>
<line x1="42.1" y1="416.42" x2="45.6" y2="416.42" stroke="#000" stroke-width="0.9" />
<text x="39" y="419.02" font-size="7.5" text-anchor="end" font-weight="normal" fill="#111" >60</text>
<line x1="42.1" y1="399.86" x2="45.6" y2="399.86" stroke="#000" stroke-width="0.9" />
<text x="39" y="402.46" font-size="7.5" text-anchor="end" font-weight="normal" fill="#111" >80</text>
<line x1="42.1" y1="383.3" x2="45.6" y2="383.3" stroke="#000" stroke-width="0.9" />
<text x="39" y="385.9" font-size="7.5" text-anchor="end" font-weight="normal" fill="#111" >100</text>
<line x1="43.6" y1="457.82" x2="45.6" y2="457.82" stroke="#000" stroke-width="0.8" />
<line x1="43.6" y1="441.26" x2="45.6" y2="441.26" stroke="#000" stroke-width="0.8" />
<line x1="43.6" y1="424.7" x2="45.6" y2="424.7" stroke="#000" stroke-width="0.8" />
<line x1="43.6" y1="408.14" x2="45.6" y2="408.14" stroke="#000" stroke-width="0.8" />
<line x1="43.6" y1="391.58" x2="45.6" y2="391.58" stroke="#000" stroke-width="0.8" />
<line x1="43.6" y1="375.02" x2="45.6" y2="375.02" stroke="#000" stroke-width="0.8" />
<rect x="47.4" y="440.93" width="3.4" height="25.17" fill="#28498C"/>
<rect x="51.3" y="386.45" width="3.4" height="79.65" fill="#E3941A"/>
<rect x="55.2" y="441.67" width="3.4" height="24.43" fill="#A0102E"/>
<line x1="49.1" y1="440.93" x2="49.1" y2="438.78" stroke="#000" stroke-width="0.9" />
<line x1="48" y1="438.78" x2="50.2" y2="438.78" stroke="#000" stroke-width="0.9" />
<rect x="66.61" y="447.88" width="3.4" height="18.22" fill="#28498C"/>
<rect x="70.51" y="379.99" width="3.4" height="86.11" fill="#E3941A"/>
<rect x="74.41" y="449.13" width="3.4" height="16.97" fill="#A0102E"/>
<line x1="68.31" y1="447.88" x2="68.31" y2="445.81" stroke="#000" stroke-width="0.9" />
<line x1="67.21" y1="445.81" x2="69.41" y2="445.81" stroke="#000" stroke-width="0.9" />
<rect x="85.82" y="425.2" width="3.4" height="40.9" fill="#28498C"/>
<rect x="89.72" y="388.35" width="3.4" height="77.75" fill="#E3941A"/>
<rect x="93.62" y="424.29" width="3.4" height="41.81" fill="#A0102E"/>
<line x1="87.52" y1="425.2" x2="87.52" y2="422.22" stroke="#000" stroke-width="0.9" />
<line x1="86.42" y1="422.22" x2="88.62" y2="422.22" stroke="#000" stroke-width="0.9" />
<rect x="105.03" y="429.42" width="3.4" height="36.68" fill="#28498C"/>
<rect x="108.93" y="391" width="3.4" height="75.1" fill="#E3941A"/>
<rect x="112.83" y="430.08" width="3.4" height="36.02" fill="#A0102E"/>
<line x1="106.73" y1="429.42" x2="106.73" y2="427.6" stroke="#000" stroke-width="0.9" />
<line x1="105.63" y1="427.6" x2="107.83" y2="427.6" stroke="#000" stroke-width="0.9" />
<rect x="124.24" y="418.32" width="3.4" height="47.78" fill="#28498C"/>
<rect x="128.14" y="429.25" width="3.4" height="36.85" fill="#E3941A"/>
<rect x="132.04" y="455.42" width="3.4" height="10.68" fill="#A0102E"/>
<line x1="125.94" y1="418.32" x2="125.94" y2="415.18" stroke="#000" stroke-width="0.9" />
<line x1="124.84" y1="415.18" x2="127.04" y2="415.18" stroke="#000" stroke-width="0.9" />
<rect x="143.45" y="418.32" width="3.4" height="47.78" fill="#28498C"/>
<rect x="147.35" y="428.84" width="3.4" height="37.26" fill="#E3941A"/>
<rect x="151.25" y="457.49" width="3.4" height="8.61" fill="#A0102E"/>
<line x1="145.15" y1="418.32" x2="145.15" y2="411.45" stroke="#000" stroke-width="0.9" />
<line x1="144.05" y1="411.45" x2="146.25" y2="411.45" stroke="#000" stroke-width="0.9" />
<rect x="162.66" y="417.5" width="3.4" height="48.6" fill="#28498C"/>
<rect x="166.56" y="432.98" width="3.4" height="33.12" fill="#E3941A"/>
<rect x="170.46" y="458.81" width="3.4" height="7.29" fill="#A0102E"/>
<line x1="164.36" y1="417.5" x2="164.36" y2="410.87" stroke="#000" stroke-width="0.9" />
<line x1="163.26" y1="410.87" x2="165.46" y2="410.87" stroke="#000" stroke-width="0.9" />
<rect x="181.87" y="395.72" width="3.4" height="70.38" fill="#28498C"/>
<rect x="185.77" y="381.64" width="3.4" height="84.46" fill="#E3941A"/>
<rect x="189.67" y="400.36" width="3.4" height="65.74" fill="#A0102E"/>
<line x1="183.57" y1="395.72" x2="183.57" y2="390.34" stroke="#000" stroke-width="0.9" />
<line x1="182.47" y1="390.34" x2="184.67" y2="390.34" stroke="#000" stroke-width="0.9" />
<line x1="187.47" y1="381.64" x2="187.47" y2="380.82" stroke="#000" stroke-width="0.9" />
<line x1="186.37" y1="380.82" x2="188.57" y2="380.82" stroke="#000" stroke-width="0.9" />
<line x1="191.37" y1="394.06" x2="191.37" y2="406.65" stroke="#000" stroke-width="0.9" />
<line x1="190.27" y1="394.06" x2="192.47" y2="394.06" stroke="#000" stroke-width="0.9" />
<line x1="190.27" y1="406.65" x2="192.47" y2="406.65" stroke="#000" stroke-width="0.9" />
<line x1="45.6" y1="466.1" x2="194.6" y2="466.1" stroke="#000" stroke-width="1" />
<line x1="43.8" y1="474.2" x2="194.6" y2="474.2" stroke="#000" stroke-width="1.3" />
<line x1="53" y1="474.2" x2="53" y2="477" stroke="#000" stroke-width="0.9" />
<text x="56.6" y="485.1" font-size="6.9" text-anchor="end" font-weight="normal" fill="#111" transform="rotate(-45 56.6 485.1)" stroke="#111" stroke-width="0.13">IMC-1</text>
<line x1="72.21" y1="474.2" x2="72.21" y2="477" stroke="#000" stroke-width="0.9" />
<text x="75.81" y="485.1" font-size="6.9" text-anchor="end" font-weight="normal" fill="#111" transform="rotate(-45 75.81 485.1)" stroke="#111" stroke-width="0.13">KHYG-1</text>
<line x1="91.42" y1="474.2" x2="91.42" y2="477" stroke="#000" stroke-width="0.9" />
<text x="95.02" y="485.1" font-size="6.9" text-anchor="end" font-weight="normal" fill="#111" transform="rotate(-45 95.02 485.1)" stroke="#111" stroke-width="0.13">NK-92</text>
<line x1="110.63" y1="474.2" x2="110.63" y2="477" stroke="#000" stroke-width="0.9" />
<text x="114.23" y="485.1" font-size="6.9" text-anchor="end" font-weight="normal" fill="#111" transform="rotate(-45 114.23 485.1)" stroke="#111" stroke-width="0.13">NKL</text>
<line x1="129.84" y1="474.2" x2="129.84" y2="477" stroke="#000" stroke-width="0.9" />
<text x="133.44" y="485.1" font-size="6.9" text-anchor="end" font-weight="normal" fill="#111" transform="rotate(-45 133.44 485.1)" stroke="#111" stroke-width="0.13">NK-YS</text>
<line x1="149.05" y1="474.2" x2="149.05" y2="477" stroke="#000" stroke-width="0.9" />
<text x="152.65" y="485.1" font-size="6.9" text-anchor="end" font-weight="normal" fill="#111" transform="rotate(-45 152.65 485.1)" stroke="#111" stroke-width="0.13">SNK-6</text>
<line x1="168.26" y1="474.2" x2="168.26" y2="477" stroke="#000" stroke-width="0.9" />
<text x="171.86" y="485.1" font-size="6.9" text-anchor="end" font-weight="normal" fill="#111" transform="rotate(-45 171.86 485.1)" stroke="#111" stroke-width="0.13">YT</text>
<line x1="187.47" y1="474.2" x2="187.47" y2="477" stroke="#000" stroke-width="0.9" />
<text x="191.07" y="485.1" font-size="6.9" text-anchor="end" font-weight="normal" fill="#111" transform="rotate(-45 191.07 485.1)" stroke="#111" stroke-width="0.13">PBMC</text>
<text x="75.6" y="366.6" font-size="8.7" text-anchor="start" font-weight="normal" fill="#111" textLength="89" lengthAdjust="spacingAndGlyphs" >idasanutlin: %-viability</text>
<text x="21.9" y="422.9" font-size="8.2" text-anchor="middle" font-weight="normal" fill="#111" textLength="29.8" lengthAdjust="spacingAndGlyphs" transform="rotate(-90 21.9 422.9)" >% viability</text>
<line x1="249.5" y1="371.7" x2="249.5" y2="474.6" stroke="#000" stroke-width="1.3" />
<line x1="246" y1="466.2" x2="249.5" y2="466.2" stroke="#000" stroke-width="0.9" />
<text x="242.9" y="468.8" font-size="7.5" text-anchor="end" font-weight="normal" fill="#111" >0</text>
<line x1="246" y1="449.6" x2="249.5" y2="449.6" stroke="#000" stroke-width="0.9" />
<text x="242.9" y="452.2" font-size="7.5" text-anchor="end" font-weight="normal" fill="#111" >20</text>
<line x1="246" y1="433" x2="249.5" y2="433" stroke="#000" stroke-width="0.9" />
<text x="242.9" y="435.6" font-size="7.5" text-anchor="end" font-weight="normal" fill="#111" >40</text>
<line x1="246" y1="416.4" x2="249.5" y2="416.4" stroke="#000" stroke-width="0.9" />
<text x="242.9" y="419" font-size="7.5" text-anchor="end" font-weight="normal" fill="#111" >60</text>
<line x1="246" y1="399.8" x2="249.5" y2="399.8" stroke="#000" stroke-width="0.9" />
<text x="242.9" y="402.4" font-size="7.5" text-anchor="end" font-weight="normal" fill="#111" >80</text>
<line x1="246" y1="383.2" x2="249.5" y2="383.2" stroke="#000" stroke-width="0.9" />
<text x="242.9" y="385.8" font-size="7.5" text-anchor="end" font-weight="normal" fill="#111" >100</text>
<line x1="247.5" y1="457.9" x2="249.5" y2="457.9" stroke="#000" stroke-width="0.8" />
<line x1="247.5" y1="441.3" x2="249.5" y2="441.3" stroke="#000" stroke-width="0.8" />
<line x1="247.5" y1="424.7" x2="249.5" y2="424.7" stroke="#000" stroke-width="0.8" />
<line x1="247.5" y1="408.1" x2="249.5" y2="408.1" stroke="#000" stroke-width="0.8" />
<line x1="247.5" y1="391.5" x2="249.5" y2="391.5" stroke="#000" stroke-width="0.8" />
<line x1="247.5" y1="374.9" x2="249.5" y2="374.9" stroke="#000" stroke-width="0.8" />
<rect x="251.7" y="441.38" width="3.4" height="24.82" fill="#28498C"/>
<rect x="255.6" y="466.2" width="3.4" height="0.83" fill="#E3941A"/>
<rect x="259.5" y="427.36" width="3.4" height="38.84" fill="#A0102E"/>
<line x1="253.4" y1="441.38" x2="253.4" y2="436.82" stroke="#000" stroke-width="0.9" />
<line x1="252.3" y1="436.82" x2="254.5" y2="436.82" stroke="#000" stroke-width="0.9" />
<rect x="270.87" y="460.14" width="3.4" height="6.06" fill="#28498C"/>
<rect x="274.77" y="464.54" width="3.4" height="1.66" fill="#E3941A"/>
<rect x="278.67" y="457.49" width="3.4" height="8.71" fill="#A0102E"/>
<line x1="272.57" y1="460.14" x2="272.57" y2="454" stroke="#000" stroke-width="0.9" />
<line x1="271.47" y1="454" x2="273.67" y2="454" stroke="#000" stroke-width="0.9" />
<rect x="290.04" y="459.23" width="3.4" height="6.97" fill="#28498C"/>
<rect x="293.94" y="465.78" width="3.4" height="0.41" fill="#E3941A"/>
<rect x="297.84" y="455.16" width="3.4" height="11.04" fill="#A0102E"/>
<line x1="291.74" y1="459.23" x2="291.74" y2="453.75" stroke="#000" stroke-width="0.9" />
<line x1="290.64" y1="453.75" x2="292.84" y2="453.75" stroke="#000" stroke-width="0.9" />
<rect x="309.21" y="461.55" width="3.4" height="4.65" fill="#28498C"/>
<rect x="313.11" y="466.03" width="3.4" height="0.17" fill="#E3941A"/>
<rect x="317.01" y="458.31" width="3.4" height="7.88" fill="#A0102E"/>
<line x1="310.91" y1="461.55" x2="310.91" y2="458.31" stroke="#000" stroke-width="0.9" />
<line x1="309.81" y1="458.31" x2="312.01" y2="458.31" stroke="#000" stroke-width="0.9" />
<rect x="328.38" y="460.14" width="3.4" height="6.06" fill="#28498C"/>
<rect x="332.28" y="464.95" width="3.4" height="1.24" fill="#E3941A"/>
<rect x="336.18" y="442.71" width="3.4" height="23.49" fill="#A0102E"/>
<line x1="330.08" y1="460.14" x2="330.08" y2="456.65" stroke="#000" stroke-width="0.9" />
<line x1="328.98" y1="456.65" x2="331.18" y2="456.65" stroke="#000" stroke-width="0.9" />
<rect x="347.55" y="454.91" width="3.4" height="11.29" fill="#28498C"/>
<rect x="351.45" y="450.01" width="3.4" height="16.18" fill="#E3941A"/>
<rect x="355.35" y="428.6" width="3.4" height="37.6" fill="#A0102E"/>
<line x1="349.25" y1="454.91" x2="349.25" y2="446.03" stroke="#000" stroke-width="0.9" />
<line x1="348.15" y1="446.03" x2="350.35" y2="446.03" stroke="#000" stroke-width="0.9" />
<rect x="366.72" y="444.87" width="3.4" height="21.33" fill="#28498C"/>
<rect x="370.62" y="438.56" width="3.4" height="27.64" fill="#E3941A"/>
<rect x="374.52" y="423.04" width="3.4" height="43.16" fill="#A0102E"/>
<line x1="368.42" y1="444.87" x2="368.42" y2="439.06" stroke="#000" stroke-width="0.9" />
<line x1="367.32" y1="439.06" x2="369.52" y2="439.06" stroke="#000" stroke-width="0.9" />
<rect x="385.89" y="466.2" width="3.4" height="1.66" fill="#28498C"/>
<rect x="389.79" y="465.37" width="3.4" height="0.83" fill="#E3941A"/>
<rect x="393.69" y="465.95" width="3.4" height="0.25" fill="#A0102E"/>
<line x1="387.59" y1="467.86" x2="387.59" y2="469.94" stroke="#000" stroke-width="0.9" />
<line x1="386.49" y1="469.94" x2="388.69" y2="469.94" stroke="#000" stroke-width="0.9" />
<line x1="395.39" y1="463.05" x2="395.39" y2="468.86" stroke="#000" stroke-width="0.9" />
<line x1="394.29" y1="463.05" x2="396.49" y2="463.05" stroke="#000" stroke-width="0.9" />
<line x1="394.29" y1="468.86" x2="396.49" y2="468.86" stroke="#000" stroke-width="0.9" />
<line x1="249.5" y1="466.2" x2="398.7" y2="466.2" stroke="#000" stroke-width="1" />
<line x1="247.7" y1="474" x2="398.7" y2="474" stroke="#000" stroke-width="1.3" />
<line x1="257.3" y1="474" x2="257.3" y2="476.8" stroke="#000" stroke-width="0.9" />
<text x="260.9" y="484.9" font-size="6.9" text-anchor="end" font-weight="normal" fill="#111" transform="rotate(-45 260.9 484.9)" stroke="#111" stroke-width="0.13">IMC-1</text>
<line x1="276.47" y1="474" x2="276.47" y2="476.8" stroke="#000" stroke-width="0.9" />
<text x="280.07" y="484.9" font-size="6.9" text-anchor="end" font-weight="normal" fill="#111" transform="rotate(-45 280.07 484.9)" stroke="#111" stroke-width="0.13">KHYG-1</text>
<line x1="295.64" y1="474" x2="295.64" y2="476.8" stroke="#000" stroke-width="0.9" />
<text x="299.24" y="484.9" font-size="6.9" text-anchor="end" font-weight="normal" fill="#111" transform="rotate(-45 299.24 484.9)" stroke="#111" stroke-width="0.13">NK-92</text>
<line x1="314.81" y1="474" x2="314.81" y2="476.8" stroke="#000" stroke-width="0.9" />
<text x="318.41" y="484.9" font-size="6.9" text-anchor="end" font-weight="normal" fill="#111" transform="rotate(-45 318.41 484.9)" stroke="#111" stroke-width="0.13">NKL</text>
<line x1="333.98" y1="474" x2="333.98" y2="476.8" stroke="#000" stroke-width="0.9" />
<text x="337.58" y="484.9" font-size="6.9" text-anchor="end" font-weight="normal" fill="#111" transform="rotate(-45 337.58 484.9)" stroke="#111" stroke-width="0.13">NK-YS</text>
<line x1="353.15" y1="474" x2="353.15" y2="476.8" stroke="#000" stroke-width="0.9" />
<text x="356.75" y="484.9" font-size="6.9" text-anchor="end" font-weight="normal" fill="#111" transform="rotate(-45 356.75 484.9)" stroke="#111" stroke-width="0.13">SNK-6</text>
<line x1="372.32" y1="474" x2="372.32" y2="476.8" stroke="#000" stroke-width="0.9" />
<text x="375.92" y="484.9" font-size="6.9" text-anchor="end" font-weight="normal" fill="#111" transform="rotate(-45 375.92 484.9)" stroke="#111" stroke-width="0.13">YT</text>
<line x1="391.49" y1="474" x2="391.49" y2="476.8" stroke="#000" stroke-width="0.9" />
<text x="395.09" y="484.9" font-size="6.9" text-anchor="end" font-weight="normal" fill="#111" transform="rotate(-45 395.09 484.9)" stroke="#111" stroke-width="0.13">PBMC</text>
<text x="280.6" y="366.6" font-size="8.7" text-anchor="start" font-weight="normal" fill="#111" textLength="87.2" lengthAdjust="spacingAndGlyphs" >idasanutlin: %-toxicity</text>
<text x="226" y="422.6" font-size="8.2" text-anchor="middle" font-weight="normal" fill="#111" textLength="28.7" lengthAdjust="spacingAndGlyphs" transform="rotate(-90 226 422.6)" >% toxicity</text>
<rect x="402.4" y="372" width="10.6" height="5.3" fill="#28498C"/>
<text x="416.5" y="376.9" font-size="6.3" text-anchor="start" font-weight="normal" fill="#222" textLength="48.4" lengthAdjust="spacingAndGlyphs" stroke="#222" stroke-width="0.13">Ruxolitinib, 100 nM</text>
<rect x="402.4" y="385.8" width="10.6" height="5.3" fill="#E3941A"/>
<text x="416.5" y="390.7" font-size="6.3" text-anchor="start" font-weight="normal" fill="#222" textLength="50.2" lengthAdjust="spacingAndGlyphs" stroke="#222" stroke-width="0.13">Idasanutlin, 300 nM</text>
<rect x="402.4" y="399.8" width="10.6" height="5.3" fill="#A0102E"/>
<text x="416.5" y="404.7" font-size="6.3" text-anchor="start" font-weight="normal" fill="#222" textLength="76.6" lengthAdjust="spacingAndGlyphs" stroke="#222" stroke-width="0.13">Ruxo, 100 nM + Idas, 300 nM</text>
<path d="M60 580.2 L61.44 580.2 L62.88 580.2 L64.32 580.2 L65.76 580.2 L67.2 580.2 L68.64 580.2 L70.08 580.2 L71.52 580.2 L72.96 580.2 L74.4 580.2 L75.84 580.2 L77.28 580.2 L78.72 580.2 L80.16 580.2 L81.6 580.2 L83.04 580.2 L84.48 580.2 L85.92 580.2 L87.36 580.2 L88.8 580.2 L90.24 580.2 L91.68 580.2 L93.12 580.2 L94.56 580.2 L96 580.2 L97.44 580.2 L98.88 580.2 L100.32 580.2 L101.76 580.2 L103.2 580.2 L104.64 580.2 L106.08 580.2 L107.52 580.2 L108.96 580.2 L110.4 580.2 L111.84 580.2 L113.28 580.2 L114.72 580.2 L116.16 580.2 L117.6 580.2 L119.04 580.2 L120.48 580.2 L121.92 580.2 L123.36 580.2 L124.8 580.2 L126.24 580.24 L127.68 580.33 L129.12 580.48 L130.56 580.65 L132 580.86 L133.44 581.21 L134.88 581.69 L136.32 582.28 L137.76 582.94 L139.2 583.65 L140.64 584.41 L142.08 585.39 L143.52 586.51 L144.96 587.68 L146.4 588.8" fill="none" stroke="#A9BC7A" stroke-width="1.3"/>
<rect x="58.8" y="579" width="2.4" height="2.4" fill="#A9BC7A"/>
<rect x="69.11" y="579" width="2.4" height="2.4" fill="#A9BC7A"/>
<line x1="81.6" y1="577.7" x2="81.6" y2="582.7" stroke="#A9BC7A" stroke-width="0.8" />
<line x1="80.5" y1="577.7" x2="82.7" y2="577.7" stroke="#A9BC7A" stroke-width="0.8" />
<line x1="80.5" y1="582.7" x2="82.7" y2="582.7" stroke="#A9BC7A" stroke-width="0.8" />
<rect x="80.4" y="579" width="2.4" height="2.4" fill="#A9BC7A"/>
<line x1="91.91" y1="576.2" x2="91.91" y2="586.2" stroke="#A9BC7A" stroke-width="0.8" />
<line x1="90.81" y1="576.2" x2="93.01" y2="576.2" stroke="#A9BC7A" stroke-width="0.8" />
<line x1="90.81" y1="586.2" x2="93.01" y2="586.2" stroke="#A9BC7A" stroke-width="0.8" />
<rect x="90.71" y="580" width="2.4" height="2.4" fill="#A9BC7A"/>
<line x1="103.2" y1="575.7" x2="103.2" y2="587.7" stroke="#A9BC7A" stroke-width="0.8" />
<line x1="102.1" y1="575.7" x2="104.3" y2="575.7" stroke="#A9BC7A" stroke-width="0.8" />
<line x1="102.1" y1="587.7" x2="104.3" y2="587.7" stroke="#A9BC7A" stroke-width="0.8" />
<rect x="102" y="580.5" width="2.4" height="2.4" fill="#A9BC7A"/>
<line x1="113.51" y1="575.7" x2="113.51" y2="588.7" stroke="#A9BC7A" stroke-width="0.8" />
<line x1="112.41" y1="575.7" x2="114.61" y2="575.7" stroke="#A9BC7A" stroke-width="0.8" />
<line x1="112.41" y1="588.7" x2="114.61" y2="588.7" stroke="#A9BC7A" stroke-width="0.8" />
<rect x="112.31" y="581" width="2.4" height="2.4" fill="#A9BC7A"/>
<line x1="124.8" y1="575.7" x2="124.8" y2="587.7" stroke="#A9BC7A" stroke-width="0.8" />
<line x1="123.7" y1="575.7" x2="125.9" y2="575.7" stroke="#A9BC7A" stroke-width="0.8" />
<line x1="123.7" y1="587.7" x2="125.9" y2="587.7" stroke="#A9BC7A" stroke-width="0.8" />
<rect x="123.6" y="580.5" width="2.4" height="2.4" fill="#A9BC7A"/>
<line x1="135.11" y1="575.78" x2="135.11" y2="589.78" stroke="#A9BC7A" stroke-width="0.8" />
<line x1="134.01" y1="575.78" x2="136.21" y2="575.78" stroke="#A9BC7A" stroke-width="0.8" />
<line x1="134.01" y1="589.78" x2="136.21" y2="589.78" stroke="#A9BC7A" stroke-width="0.8" />
<rect x="133.91" y="581.58" width="2.4" height="2.4" fill="#A9BC7A"/>
<line x1="146.4" y1="586.8" x2="146.4" y2="592.8" stroke="#A9BC7A" stroke-width="0.8" />
<line x1="145.3" y1="586.8" x2="147.5" y2="586.8" stroke="#A9BC7A" stroke-width="0.8" />
<line x1="145.3" y1="592.8" x2="147.5" y2="592.8" stroke="#A9BC7A" stroke-width="0.8" />
<rect x="145.2" y="588.6" width="2.4" height="2.4" fill="#A9BC7A"/>
<path d="M60 585.5 L61.44 585.5 L62.88 585.5 L64.32 585.5 L65.76 585.5 L67.2 585.5 L68.64 585.5 L70.08 585.5 L71.52 585.5 L72.96 585.5 L74.4 585.5 L75.84 585.5 L77.28 585.5 L78.72 585.5 L80.16 585.5 L81.6 585.5 L83.04 585.5 L84.48 585.5 L85.92 585.5 L87.36 585.5 L88.8 585.5 L90.24 585.5 L91.68 585.5 L93.12 585.5 L94.56 585.5 L96 585.5 L97.44 585.5 L98.88 585.5 L100.32 585.5 L101.76 585.5 L103.2 585.5 L104.64 585.5 L106.08 585.5 L107.52 585.5 L108.96 585.5 L110.4 585.5 L111.84 585.5 L113.28 585.5 L114.72 585.5 L116.16 585.5 L117.6 585.5 L119.04 585.5 L120.48 585.5 L121.92 585.5 L123.36 585.5 L124.8 585.5 L126.24 585.53 L127.68 585.62 L129.12 585.75 L130.56 585.91 L132 586.11 L133.44 586.44 L134.88 586.9 L136.32 587.45 L137.76 588.06 L139.2 588.69 L140.64 589.35 L142.08 590.12 L143.52 590.97 L144.96 591.85 L146.4 592.7" fill="none" stroke="#2D6A4F" stroke-width="1.3"/>
<rect x="58.8" y="587.3" width="2.4" height="2.4" fill="#2D6A4F"/>
<rect x="69.11" y="584.3" width="2.4" height="2.4" fill="#2D6A4F"/>
<line x1="81.6" y1="581.5" x2="81.6" y2="588.5" stroke="#2D6A4F" stroke-width="0.8" />
<line x1="80.5" y1="581.5" x2="82.7" y2="581.5" stroke="#2D6A4F" stroke-width="0.8" />
<line x1="80.5" y1="588.5" x2="82.7" y2="588.5" stroke="#2D6A4F" stroke-width="0.8" />
<rect x="80.4" y="583.8" width="2.4" height="2.4" fill="#2D6A4F"/>
<line x1="91.91" y1="582" x2="91.91" y2="589" stroke="#2D6A4F" stroke-width="0.8" />
<line x1="90.81" y1="582" x2="93.01" y2="582" stroke="#2D6A4F" stroke-width="0.8" />
<line x1="90.81" y1="589" x2="93.01" y2="589" stroke="#2D6A4F" stroke-width="0.8" />
<rect x="90.71" y="584.3" width="2.4" height="2.4" fill="#2D6A4F"/>
<line x1="103.2" y1="582" x2="103.2" y2="590" stroke="#2D6A4F" stroke-width="0.8" />
<line x1="102.1" y1="582" x2="104.3" y2="582" stroke="#2D6A4F" stroke-width="0.8" />
<line x1="102.1" y1="590" x2="104.3" y2="590" stroke="#2D6A4F" stroke-width="0.8" />
<rect x="102" y="584.8" width="2.4" height="2.4" fill="#2D6A4F"/>
<line x1="113.51" y1="582.5" x2="113.51" y2="590.5" stroke="#2D6A4F" stroke-width="0.8" />
<line x1="112.41" y1="582.5" x2="114.61" y2="582.5" stroke="#2D6A4F" stroke-width="0.8" />
<line x1="112.41" y1="590.5" x2="114.61" y2="590.5" stroke="#2D6A4F" stroke-width="0.8" />
<rect x="112.31" y="585.3" width="2.4" height="2.4" fill="#2D6A4F"/>
<line x1="124.8" y1="583.5" x2="124.8" y2="591.5" stroke="#2D6A4F" stroke-width="0.8" />
<line x1="123.7" y1="583.5" x2="125.9" y2="583.5" stroke="#2D6A4F" stroke-width="0.8" />
<line x1="123.7" y1="591.5" x2="125.9" y2="591.5" stroke="#2D6A4F" stroke-width="0.8" />
<rect x="123.6" y="586.3" width="2.4" height="2.4" fill="#2D6A4F"/>
<line x1="135.11" y1="585.98" x2="135.11" y2="593.98" stroke="#2D6A4F" stroke-width="0.8" />
<line x1="134.01" y1="585.98" x2="136.21" y2="585.98" stroke="#2D6A4F" stroke-width="0.8" />
<line x1="134.01" y1="593.98" x2="136.21" y2="593.98" stroke="#2D6A4F" stroke-width="0.8" />
<rect x="133.91" y="588.78" width="2.4" height="2.4" fill="#2D6A4F"/>
<line x1="146.4" y1="591.7" x2="146.4" y2="595.7" stroke="#2D6A4F" stroke-width="0.8" />
<line x1="145.3" y1="591.7" x2="147.5" y2="591.7" stroke="#2D6A4F" stroke-width="0.8" />
<line x1="145.3" y1="595.7" x2="147.5" y2="595.7" stroke="#2D6A4F" stroke-width="0.8" />
<rect x="145.2" y="592.5" width="2.4" height="2.4" fill="#2D6A4F"/>
<path d="M60 552.3 L61.44 552.31 L62.88 552.33 L64.32 552.34 L65.76 552.35 L67.2 552.36 L68.64 552.37 L70.08 552.38 L71.52 552.39 L72.96 552.4 L74.4 552.41 L75.84 552.42 L77.28 552.43 L78.72 552.44 L80.16 552.45 L81.6 552.46 L83.04 552.47 L84.48 552.48 L85.92 552.49 L87.36 552.51 L88.8 552.52 L90.24 552.54 L91.68 552.55 L93.12 552.57 L94.56 552.59 L96 552.61 L97.44 552.64 L98.88 552.66 L100.32 552.69 L101.76 552.72 L103.2 552.75 L104.64 552.81 L106.08 552.92 L107.52 553.07 L108.96 553.24 L110.4 553.41 L111.84 553.58 L113.28 553.73 L114.72 553.85 L116.16 553.95 L117.6 554.05 L119.04 554.14 L120.48 554.24 L121.92 554.37 L123.36 554.51 L124.8 554.7 L126.24 555 L127.68 555.45 L129.12 556.05 L130.56 556.76 L132 557.56 L133.44 558.43 L134.88 559.35 L136.32 560.4 L137.76 561.73 L139.2 563.27 L140.64 564.97 L142.08 566.75 L143.52 568.56 L144.96 570.33 L146.4 572" fill="none" stroke="#5BA3DC" stroke-width="1.3"/>
<line x1="81.6" y1="546.5" x2="81.6" y2="552.5" stroke="#5BA3DC" stroke-width="0.8" />
<line x1="80.5" y1="546.5" x2="82.7" y2="546.5" stroke="#5BA3DC" stroke-width="0.8" />
<line x1="80.5" y1="552.5" x2="82.7" y2="552.5" stroke="#5BA3DC" stroke-width="0.8" />
<rect x="80.4" y="548.3" width="2.4" height="2.4" fill="#5BA3DC"/>
<line x1="91.91" y1="538.75" x2="91.91" y2="575.25" stroke="#5BA3DC" stroke-width="0.8" />
<line x1="90.81" y1="538.75" x2="93.01" y2="538.75" stroke="#5BA3DC" stroke-width="0.8" />
<line x1="90.81" y1="575.25" x2="93.01" y2="575.25" stroke="#5BA3DC" stroke-width="0.8" />
<rect x="90.71" y="555.8" width="2.4" height="2.4" fill="#5BA3DC"/>
<line x1="103.2" y1="539.65" x2="103.2" y2="574.65" stroke="#5BA3DC" stroke-width="0.8" />
<line x1="102.1" y1="539.65" x2="104.3" y2="539.65" stroke="#5BA3DC" stroke-width="0.8" />
<line x1="102.1" y1="574.65" x2="104.3" y2="574.65" stroke="#5BA3DC" stroke-width="0.8" />
<rect x="102" y="555.95" width="2.4" height="2.4" fill="#5BA3DC"/>
<line x1="113.51" y1="540" x2="113.51" y2="569" stroke="#5BA3DC" stroke-width="0.8" />
<line x1="112.41" y1="540" x2="114.61" y2="540" stroke="#5BA3DC" stroke-width="0.8" />
<line x1="112.41" y1="569" x2="114.61" y2="569" stroke="#5BA3DC" stroke-width="0.8" />
<rect x="112.31" y="553.3" width="2.4" height="2.4" fill="#5BA3DC"/>
<line x1="124.8" y1="538.8" x2="124.8" y2="574.5" stroke="#5BA3DC" stroke-width="0.8" />
<line x1="123.7" y1="538.8" x2="125.9" y2="538.8" stroke="#5BA3DC" stroke-width="0.8" />
<line x1="123.7" y1="574.5" x2="125.9" y2="574.5" stroke="#5BA3DC" stroke-width="0.8" />
<rect x="123.6" y="555.45" width="2.4" height="2.4" fill="#5BA3DC"/>
<line x1="135.11" y1="539" x2="135.11" y2="579" stroke="#5BA3DC" stroke-width="0.8" />
<line x1="134.01" y1="539" x2="136.21" y2="539" stroke="#5BA3DC" stroke-width="0.8" />
<line x1="134.01" y1="579" x2="136.21" y2="579" stroke="#5BA3DC" stroke-width="0.8" />
<rect x="133.91" y="557.8" width="2.4" height="2.4" fill="#5BA3DC"/>
<line x1="146.4" y1="558" x2="146.4" y2="586" stroke="#5BA3DC" stroke-width="0.8" />
<line x1="145.3" y1="558" x2="147.5" y2="558" stroke="#5BA3DC" stroke-width="0.8" />
<line x1="145.3" y1="586" x2="147.5" y2="586" stroke="#5BA3DC" stroke-width="0.8" />
<rect x="145.2" y="570.8" width="2.4" height="2.4" fill="#5BA3DC"/>
<path d="M60 549.25 L61.08 549.38 L62.16 549.5 L63.24 549.62 L64.32 549.73 L65.4 549.85 L66.48 549.98 L67.56 550.11 L68.64 550.25 L69.72 550.41 L70.8 550.58 L71.88 550.76 L72.96 550.95 L74.04 551.15 L75.12 551.36 L76.2 551.6 L77.28 551.86 L78.36 552.16 L79.44 552.48 L80.52 552.85 L81.6 553.25 L82.68 553.79 L83.76 554.53 L84.84 555.44 L85.92 556.49 L87 557.65 L88.08 558.89 L89.16 560.19 L90.24 561.5 L91.32 562.81 L92.4 564.1 L93.48 565.54 L94.56 567.11 L95.64 568.79 L96.72 570.52 L97.8 572.26 L98.88 573.97 L99.96 575.62 L101.04 577.15 L102.12 578.52 L103.2 579.7 L104.28 580.75 L105.36 581.76 L106.44 582.74 L107.52 583.66 L108.6 584.52 L109.68 585.32 L110.76 586.04 L111.84 586.69 L112.92 587.24 L114 587.7 L115.08 588.11 L116.16 588.47 L117.24 588.8 L118.32 589.09 L119.4 589.37 L120.48 589.64 L121.56 589.91 L122.64 590.17 L123.72 590.45 L124.8 590.75" fill="none" stroke="#1D3F7E" stroke-width="1.3"/>
<line x1="60" y1="539.5" x2="60" y2="551.5" stroke="#1D3F7E" stroke-width="0.8" />
<line x1="58.9" y1="539.5" x2="61.1" y2="539.5" stroke="#1D3F7E" stroke-width="0.8" />
<line x1="58.9" y1="551.5" x2="61.1" y2="551.5" stroke="#1D3F7E" stroke-width="0.8" />
<rect x="58.8" y="544.3" width="2.4" height="2.4" fill="#1D3F7E"/>
<line x1="70.31" y1="542" x2="70.31" y2="547" stroke="#1D3F7E" stroke-width="0.8" />
<line x1="69.21" y1="542" x2="71.41" y2="542" stroke="#1D3F7E" stroke-width="0.8" />
<line x1="69.21" y1="547" x2="71.41" y2="547" stroke="#1D3F7E" stroke-width="0.8" />
<rect x="69.11" y="543.3" width="2.4" height="2.4" fill="#1D3F7E"/>
<line x1="81.6" y1="550.25" x2="81.6" y2="555.25" stroke="#1D3F7E" stroke-width="0.8" />
<line x1="80.5" y1="550.25" x2="82.7" y2="550.25" stroke="#1D3F7E" stroke-width="0.8" />
<line x1="80.5" y1="555.25" x2="82.7" y2="555.25" stroke="#1D3F7E" stroke-width="0.8" />
<rect x="80.4" y="551.55" width="2.4" height="2.4" fill="#1D3F7E"/>
<line x1="91.91" y1="558.25" x2="91.91" y2="573.25" stroke="#1D3F7E" stroke-width="0.8" />
<line x1="90.81" y1="558.25" x2="93.01" y2="558.25" stroke="#1D3F7E" stroke-width="0.8" />
<line x1="90.81" y1="573.25" x2="93.01" y2="573.25" stroke="#1D3F7E" stroke-width="0.8" />
<rect x="90.71" y="564.55" width="2.4" height="2.4" fill="#1D3F7E"/>
<line x1="103.2" y1="574.75" x2="103.2" y2="581.75" stroke="#1D3F7E" stroke-width="0.8" />
<line x1="102.1" y1="574.75" x2="104.3" y2="574.75" stroke="#1D3F7E" stroke-width="0.8" />
<line x1="102.1" y1="581.75" x2="104.3" y2="581.75" stroke="#1D3F7E" stroke-width="0.8" />
<rect x="102" y="577.05" width="2.4" height="2.4" fill="#1D3F7E"/>
<line x1="113.51" y1="584.5" x2="113.51" y2="589.5" stroke="#1D3F7E" stroke-width="0.8" />
<line x1="112.41" y1="584.5" x2="114.61" y2="584.5" stroke="#1D3F7E" stroke-width="0.8" />
<line x1="112.41" y1="589.5" x2="114.61" y2="589.5" stroke="#1D3F7E" stroke-width="0.8" />
<rect x="112.31" y="585.8" width="2.4" height="2.4" fill="#1D3F7E"/>
<line x1="124.8" y1="589.6" x2="124.8" y2="591.6" stroke="#1D3F7E" stroke-width="0.8" />
<line x1="123.7" y1="589.6" x2="125.9" y2="589.6" stroke="#1D3F7E" stroke-width="0.8" />
<line x1="123.7" y1="591.6" x2="125.9" y2="591.6" stroke="#1D3F7E" stroke-width="0.8" />
<rect x="123.6" y="589.4" width="2.4" height="2.4" fill="#1D3F7E"/>
<line x1="60.2" y1="538.5" x2="60.2" y2="602" stroke="#000" stroke-width="1.35" />
<line x1="56.7" y1="586" x2="60" y2="586" stroke="#000" stroke-width="0.9" />
<text x="53" y="588" font-size="7" text-anchor="end" font-weight="normal" fill="#111" stroke="#111" stroke-width="0.13">25</text>
<line x1="56.7" y1="573.5" x2="60" y2="573.5" stroke="#000" stroke-width="0.9" />
<text x="53" y="575.5" font-size="7" text-anchor="end" font-weight="normal" fill="#111" stroke="#111" stroke-width="0.13">50</text>
<line x1="56.7" y1="561" x2="60" y2="561" stroke="#000" stroke-width="0.9" />
<text x="53" y="563" font-size="7" text-anchor="end" font-weight="normal" fill="#111" stroke="#111" stroke-width="0.13">75</text>
<line x1="56.7" y1="548.5" x2="60" y2="548.5" stroke="#000" stroke-width="0.9" />
<text x="53" y="550.5" font-size="7" text-anchor="end" font-weight="normal" fill="#111" stroke="#111" stroke-width="0.13">100</text>
<line x1="58" y1="592.25" x2="60" y2="592.25" stroke="#000" stroke-width="0.8" />
<line x1="58" y1="579.75" x2="60" y2="579.75" stroke="#000" stroke-width="0.8" />
<line x1="58" y1="567.25" x2="60" y2="567.25" stroke="#000" stroke-width="0.8" />
<line x1="58" y1="554.75" x2="60" y2="554.75" stroke="#000" stroke-width="0.8" />
<line x1="58" y1="542.25" x2="60" y2="542.25" stroke="#000" stroke-width="0.8" />
<line x1="60" y1="598.5" x2="149.6" y2="598.5" stroke="#000" stroke-width="1.1" />
<line x1="60" y1="598.5" x2="60" y2="601.8" stroke="#000" stroke-width="0.9" />
<text x="60" y="611.3" font-size="7" text-anchor="middle" font-weight="normal" fill="#111" stroke="#111" stroke-width="0.13">1</text>
<line x1="66.5" y1="598.5" x2="66.5" y2="600.1" stroke="#000" stroke-width="0.8" />
<line x1="70.31" y1="598.5" x2="70.31" y2="600.1" stroke="#000" stroke-width="0.8" />
<line x1="73" y1="598.5" x2="73" y2="600.1" stroke="#000" stroke-width="0.8" />
<line x1="75.1" y1="598.5" x2="75.1" y2="600.1" stroke="#000" stroke-width="0.8" />
<line x1="76.81" y1="598.5" x2="76.81" y2="600.1" stroke="#000" stroke-width="0.8" />
<line x1="78.25" y1="598.5" x2="78.25" y2="600.1" stroke="#000" stroke-width="0.8" />
<line x1="79.51" y1="598.5" x2="79.51" y2="600.1" stroke="#000" stroke-width="0.8" />
<line x1="80.61" y1="598.5" x2="80.61" y2="600.1" stroke="#000" stroke-width="0.8" />
<line x1="81.6" y1="598.5" x2="81.6" y2="601.8" stroke="#000" stroke-width="0.9" />
<text x="81.6" y="611.3" font-size="7" text-anchor="middle" font-weight="normal" fill="#111" stroke="#111" stroke-width="0.13">10</text>
<line x1="88.1" y1="598.5" x2="88.1" y2="600.1" stroke="#000" stroke-width="0.8" />
<line x1="91.91" y1="598.5" x2="91.91" y2="600.1" stroke="#000" stroke-width="0.8" />
<line x1="94.6" y1="598.5" x2="94.6" y2="600.1" stroke="#000" stroke-width="0.8" />
<line x1="96.7" y1="598.5" x2="96.7" y2="600.1" stroke="#000" stroke-width="0.8" />
<line x1="98.41" y1="598.5" x2="98.41" y2="600.1" stroke="#000" stroke-width="0.8" />
<line x1="99.85" y1="598.5" x2="99.85" y2="600.1" stroke="#000" stroke-width="0.8" />
<line x1="101.11" y1="598.5" x2="101.11" y2="600.1" stroke="#000" stroke-width="0.8" />
<line x1="102.21" y1="598.5" x2="102.21" y2="600.1" stroke="#000" stroke-width="0.8" />
<line x1="103.2" y1="598.5" x2="103.2" y2="601.8" stroke="#000" stroke-width="0.9" />
<text x="103.2" y="611.3" font-size="7" text-anchor="middle" font-weight="normal" fill="#111" stroke="#111" stroke-width="0.13">100</text>
<line x1="109.7" y1="598.5" x2="109.7" y2="600.1" stroke="#000" stroke-width="0.8" />
<line x1="113.51" y1="598.5" x2="113.51" y2="600.1" stroke="#000" stroke-width="0.8" />
<line x1="116.2" y1="598.5" x2="116.2" y2="600.1" stroke="#000" stroke-width="0.8" />
<line x1="118.3" y1="598.5" x2="118.3" y2="600.1" stroke="#000" stroke-width="0.8" />
<line x1="120.01" y1="598.5" x2="120.01" y2="600.1" stroke="#000" stroke-width="0.8" />
<line x1="121.45" y1="598.5" x2="121.45" y2="600.1" stroke="#000" stroke-width="0.8" />
<line x1="122.71" y1="598.5" x2="122.71" y2="600.1" stroke="#000" stroke-width="0.8" />
<line x1="123.81" y1="598.5" x2="123.81" y2="600.1" stroke="#000" stroke-width="0.8" />
<line x1="124.8" y1="598.5" x2="124.8" y2="601.8" stroke="#000" stroke-width="0.9" />
<text x="124.8" y="611.3" font-size="7" text-anchor="middle" font-weight="normal" fill="#111" stroke="#111" stroke-width="0.13">1000</text>
<line x1="131.3" y1="598.5" x2="131.3" y2="600.1" stroke="#000" stroke-width="0.8" />
<line x1="135.11" y1="598.5" x2="135.11" y2="600.1" stroke="#000" stroke-width="0.8" />
<line x1="137.8" y1="598.5" x2="137.8" y2="600.1" stroke="#000" stroke-width="0.8" />
<line x1="139.9" y1="598.5" x2="139.9" y2="600.1" stroke="#000" stroke-width="0.8" />
<line x1="141.61" y1="598.5" x2="141.61" y2="600.1" stroke="#000" stroke-width="0.8" />
<line x1="143.05" y1="598.5" x2="143.05" y2="600.1" stroke="#000" stroke-width="0.8" />
<line x1="144.31" y1="598.5" x2="144.31" y2="600.1" stroke="#000" stroke-width="0.8" />
<line x1="145.41" y1="598.5" x2="145.41" y2="600.1" stroke="#000" stroke-width="0.8" />
<line x1="146.4" y1="598.5" x2="146.4" y2="601.8" stroke="#000" stroke-width="0.9" />
<text x="146.4" y="611.3" font-size="7" text-anchor="middle" font-weight="normal" fill="#111" stroke="#111" stroke-width="0.13">10000</text>
<text x="104.8" y="624.3" font-size="9.6" text-anchor="middle" font-weight="normal" fill="#222" textLength="29.6" lengthAdjust="spacingAndGlyphs" stroke="#222" stroke-width="0.22">Drug [nM]</text>
<text x="35.8" y="568.8" font-size="9.6" text-anchor="middle" font-weight="normal" fill="#222" textLength="33" lengthAdjust="spacingAndGlyphs" transform="rotate(-90 35.8 568.8)" stroke="#222" stroke-width="0.22">% to DMSO</text>
<text x="70.5" y="533.2" font-size="9.3" text-anchor="start" font-weight="normal" fill="#111" textLength="68.5" lengthAdjust="spacingAndGlyphs" >CD56+ NK-cells</text>
<path d="M203.8 551.5 L205.23 551.5 L206.65 551.5 L208.08 551.5 L209.51 551.5 L210.93 551.5 L212.36 551.5 L213.79 551.5 L215.21 551.5 L216.64 551.5 L218.07 551.5 L219.49 551.5 L220.92 551.5 L222.35 551.5 L223.77 551.5 L225.2 551.5 L226.63 551.5 L228.05 551.5 L229.48 551.5 L230.91 551.5 L232.33 551.5 L233.76 551.5 L235.19 551.5 L236.61 551.5 L238.04 551.5 L239.47 551.5 L240.89 551.5 L242.32 551.5 L243.75 551.5 L245.17 551.5 L246.6 551.5 L248.03 551.5 L249.45 551.5 L250.88 551.5 L252.31 551.5 L253.73 551.5 L255.16 551.5 L256.59 551.5 L258.01 551.5 L259.44 551.5 L260.87 551.5 L262.29 551.5 L263.72 551.5 L265.15 551.5 L266.57 551.5 L268 551.5 L269.43 551.54 L270.85 551.67 L272.28 551.85 L273.71 552.09 L275.13 552.36 L276.56 552.66 L277.99 552.95 L279.41 553.29 L280.84 553.71 L282.27 554.2 L283.69 554.75 L285.12 555.32 L286.55 555.9 L287.97 556.47 L289.4 557" fill="none" stroke="#A9BC7A" stroke-width="1.3"/>
<rect x="202.6" y="550.3" width="2.4" height="2.4" fill="#A9BC7A"/>
<rect x="212.81" y="550.3" width="2.4" height="2.4" fill="#A9BC7A"/>
<line x1="225.2" y1="549.5" x2="225.2" y2="557.5" stroke="#A9BC7A" stroke-width="0.8" />
<line x1="224.1" y1="549.5" x2="226.3" y2="549.5" stroke="#A9BC7A" stroke-width="0.8" />
<line x1="224.1" y1="557.5" x2="226.3" y2="557.5" stroke="#A9BC7A" stroke-width="0.8" />
<rect x="224" y="552.3" width="2.4" height="2.4" fill="#A9BC7A"/>
<line x1="235.41" y1="547" x2="235.41" y2="559" stroke="#A9BC7A" stroke-width="0.8" />
<line x1="234.31" y1="547" x2="236.51" y2="547" stroke="#A9BC7A" stroke-width="0.8" />
<line x1="234.31" y1="559" x2="236.51" y2="559" stroke="#A9BC7A" stroke-width="0.8" />
<rect x="234.21" y="551.8" width="2.4" height="2.4" fill="#A9BC7A"/>
<line x1="246.6" y1="545.5" x2="246.6" y2="557.5" stroke="#A9BC7A" stroke-width="0.8" />
<line x1="245.5" y1="545.5" x2="247.7" y2="545.5" stroke="#A9BC7A" stroke-width="0.8" />
<line x1="245.5" y1="557.5" x2="247.7" y2="557.5" stroke="#A9BC7A" stroke-width="0.8" />
<rect x="245.4" y="550.3" width="2.4" height="2.4" fill="#A9BC7A"/>
<line x1="256.81" y1="544.5" x2="256.81" y2="558.5" stroke="#A9BC7A" stroke-width="0.8" />
<line x1="255.71" y1="544.5" x2="257.91" y2="544.5" stroke="#A9BC7A" stroke-width="0.8" />
<line x1="255.71" y1="558.5" x2="257.91" y2="558.5" stroke="#A9BC7A" stroke-width="0.8" />
<rect x="255.61" y="550.3" width="2.4" height="2.4" fill="#A9BC7A"/>
<line x1="268" y1="547" x2="268" y2="559" stroke="#A9BC7A" stroke-width="0.8" />
<line x1="266.9" y1="547" x2="269.1" y2="547" stroke="#A9BC7A" stroke-width="0.8" />
<line x1="266.9" y1="559" x2="269.1" y2="559" stroke="#A9BC7A" stroke-width="0.8" />
<rect x="266.8" y="551.8" width="2.4" height="2.4" fill="#A9BC7A"/>
<line x1="278.21" y1="548" x2="278.21" y2="558" stroke="#A9BC7A" stroke-width="0.8" />
<line x1="277.11" y1="548" x2="279.31" y2="548" stroke="#A9BC7A" stroke-width="0.8" />
<line x1="277.11" y1="558" x2="279.31" y2="558" stroke="#A9BC7A" stroke-width="0.8" />
<rect x="277.01" y="551.8" width="2.4" height="2.4" fill="#A9BC7A"/>
<line x1="289.4" y1="552" x2="289.4" y2="562" stroke="#A9BC7A" stroke-width="0.8" />
<line x1="288.3" y1="552" x2="290.5" y2="552" stroke="#A9BC7A" stroke-width="0.8" />
<line x1="288.3" y1="562" x2="290.5" y2="562" stroke="#A9BC7A" stroke-width="0.8" />
<rect x="288.2" y="555.8" width="2.4" height="2.4" fill="#A9BC7A"/>
<path d="M203.8 552 L205.23 552 L206.65 552 L208.08 552 L209.51 552 L210.93 552 L212.36 552 L213.79 552 L215.21 552 L216.64 552 L218.07 552 L219.49 552 L220.92 552 L222.35 552 L223.77 552 L225.2 552 L226.63 552 L228.05 552 L229.48 552 L230.91 552 L232.33 552 L233.76 552 L235.19 552 L236.61 552 L238.04 552 L239.47 552 L240.89 552 L242.32 552 L243.75 552 L245.17 552 L246.6 552 L248.03 552 L249.45 552 L250.88 552 L252.31 552 L253.73 552 L255.16 552 L256.59 552 L258.01 552 L259.44 552 L260.87 552 L262.29 552 L263.72 552 L265.15 552 L266.57 552 L268 552 L269.43 552.06 L270.85 552.22 L272.28 552.46 L273.71 552.78 L275.13 553.14 L276.56 553.53 L277.99 553.94 L279.41 554.4 L280.84 555.02 L282.27 555.76 L283.69 556.58 L285.12 557.45 L286.55 558.33 L287.97 559.2 L289.4 560" fill="none" stroke="#2D6A4F" stroke-width="1.3"/>
<rect x="202.6" y="552.3" width="2.4" height="2.4" fill="#2D6A4F"/>
<rect x="212.81" y="550.8" width="2.4" height="2.4" fill="#2D6A4F"/>
<rect x="224" y="550.8" width="2.4" height="2.4" fill="#2D6A4F"/>
<line x1="235.41" y1="546" x2="235.41" y2="558" stroke="#2D6A4F" stroke-width="0.8" />
<line x1="234.31" y1="546" x2="236.51" y2="546" stroke="#2D6A4F" stroke-width="0.8" />
<line x1="234.31" y1="558" x2="236.51" y2="558" stroke="#2D6A4F" stroke-width="0.8" />
<rect x="234.21" y="550.8" width="2.4" height="2.4" fill="#2D6A4F"/>
<line x1="246.6" y1="546" x2="246.6" y2="558" stroke="#2D6A4F" stroke-width="0.8" />
<line x1="245.5" y1="546" x2="247.7" y2="546" stroke="#2D6A4F" stroke-width="0.8" />
<line x1="245.5" y1="558" x2="247.7" y2="558" stroke="#2D6A4F" stroke-width="0.8" />
<rect x="245.4" y="550.8" width="2.4" height="2.4" fill="#2D6A4F"/>
<line x1="256.81" y1="546.5" x2="256.81" y2="557.5" stroke="#2D6A4F" stroke-width="0.8" />
<line x1="255.71" y1="546.5" x2="257.91" y2="546.5" stroke="#2D6A4F" stroke-width="0.8" />
<line x1="255.71" y1="557.5" x2="257.91" y2="557.5" stroke="#2D6A4F" stroke-width="0.8" />
<rect x="255.61" y="550.8" width="2.4" height="2.4" fill="#2D6A4F"/>
<line x1="268" y1="547" x2="268" y2="557" stroke="#2D6A4F" stroke-width="0.8" />
<line x1="266.9" y1="547" x2="269.1" y2="547" stroke="#2D6A4F" stroke-width="0.8" />
<line x1="266.9" y1="557" x2="269.1" y2="557" stroke="#2D6A4F" stroke-width="0.8" />
<rect x="266.8" y="550.8" width="2.4" height="2.4" fill="#2D6A4F"/>
<rect x="277.01" y="552.8" width="2.4" height="2.4" fill="#2D6A4F"/>
<line x1="289.4" y1="554" x2="289.4" y2="566" stroke="#2D6A4F" stroke-width="0.8" />
<line x1="288.3" y1="554" x2="290.5" y2="554" stroke="#2D6A4F" stroke-width="0.8" />
<line x1="288.3" y1="566" x2="290.5" y2="566" stroke="#2D6A4F" stroke-width="0.8" />
<rect x="288.2" y="558.8" width="2.4" height="2.4" fill="#2D6A4F"/>
<path d="M203.8 550.5 L205.23 550.52 L206.65 550.54 L208.08 550.56 L209.51 550.58 L210.93 550.6 L212.36 550.62 L213.79 550.63 L215.21 550.65 L216.64 550.67 L218.07 550.68 L219.49 550.7 L220.92 550.71 L222.35 550.72 L223.77 550.74 L225.2 550.75 L226.63 550.77 L228.05 550.78 L229.48 550.8 L230.91 550.81 L232.33 550.82 L233.76 550.84 L235.19 550.86 L236.61 550.87 L238.04 550.89 L239.47 550.91 L240.89 550.92 L242.32 550.94 L243.75 550.96 L245.17 550.98 L246.6 551 L248.03 551.03 L249.45 551.05 L250.88 551.08 L252.31 551.1 L253.73 551.13 L255.16 551.16 L256.59 551.19 L258.01 551.22 L259.44 551.26 L260.87 551.29 L262.29 551.33 L263.72 551.37 L265.15 551.41 L266.57 551.45 L268 551.5 L269.43 551.56 L270.85 551.66 L272.28 551.79 L273.71 551.93 L275.13 552.1 L276.56 552.28 L277.99 552.47 L279.41 552.68 L280.84 552.95 L282.27 553.26 L283.69 553.6 L285.12 553.95 L286.55 554.31 L287.97 554.67 L289.4 555" fill="none" stroke="#5BA3DC" stroke-width="1.3"/>
<rect x="202.6" y="549.3" width="2.4" height="2.4" fill="#5BA3DC"/>
<rect x="212.81" y="549.44" width="2.4" height="2.4" fill="#5BA3DC"/>
<rect x="224" y="549.55" width="2.4" height="2.4" fill="#5BA3DC"/>
<rect x="234.21" y="549.66" width="2.4" height="2.4" fill="#5BA3DC"/>
<line x1="246.6" y1="546" x2="246.6" y2="556" stroke="#5BA3DC" stroke-width="0.8" />
<line x1="245.5" y1="546" x2="247.7" y2="546" stroke="#5BA3DC" stroke-width="0.8" />
<line x1="245.5" y1="556" x2="247.7" y2="556" stroke="#5BA3DC" stroke-width="0.8" />
<rect x="245.4" y="549.8" width="2.4" height="2.4" fill="#5BA3DC"/>
<line x1="256.81" y1="545.2" x2="256.81" y2="557.2" stroke="#5BA3DC" stroke-width="0.8" />
<line x1="255.71" y1="545.2" x2="257.91" y2="545.2" stroke="#5BA3DC" stroke-width="0.8" />
<line x1="255.71" y1="557.2" x2="257.91" y2="557.2" stroke="#5BA3DC" stroke-width="0.8" />
<rect x="255.61" y="550" width="2.4" height="2.4" fill="#5BA3DC"/>
<line x1="268" y1="543.5" x2="268" y2="557.5" stroke="#5BA3DC" stroke-width="0.8" />
<line x1="266.9" y1="543.5" x2="269.1" y2="543.5" stroke="#5BA3DC" stroke-width="0.8" />
<line x1="266.9" y1="557.5" x2="269.1" y2="557.5" stroke="#5BA3DC" stroke-width="0.8" />
<rect x="266.8" y="549.3" width="2.4" height="2.4" fill="#5BA3DC"/>
<line x1="278.21" y1="546.5" x2="278.21" y2="558.5" stroke="#5BA3DC" stroke-width="0.8" />
<line x1="277.11" y1="546.5" x2="279.31" y2="546.5" stroke="#5BA3DC" stroke-width="0.8" />
<line x1="277.11" y1="558.5" x2="279.31" y2="558.5" stroke="#5BA3DC" stroke-width="0.8" />
<rect x="277.01" y="551.3" width="2.4" height="2.4" fill="#5BA3DC"/>
<line x1="289.4" y1="550" x2="289.4" y2="560" stroke="#5BA3DC" stroke-width="0.8" />
<line x1="288.3" y1="550" x2="290.5" y2="550" stroke="#5BA3DC" stroke-width="0.8" />
<line x1="288.3" y1="560" x2="290.5" y2="560" stroke="#5BA3DC" stroke-width="0.8" />
<rect x="288.2" y="553.8" width="2.4" height="2.4" fill="#5BA3DC"/>
<path d="M203.8 548.5 L204.87 548.54 L205.94 548.57 L207.01 548.61 L208.08 548.64 L209.15 548.67 L210.22 548.71 L211.29 548.74 L212.36 548.77 L213.43 548.8 L214.5 548.83 L215.57 548.86 L216.64 548.89 L217.71 548.92 L218.78 548.95 L219.85 548.98 L220.92 549.01 L221.99 549.04 L223.06 549.07 L224.13 549.1 L225.2 549.13 L226.27 549.16 L227.34 549.2 L228.41 549.23 L229.48 549.26 L230.55 549.3 L231.62 549.34 L232.69 549.37 L233.76 549.41 L234.83 549.45 L235.9 549.49 L236.97 549.53 L238.04 549.58 L239.11 549.62 L240.18 549.67 L241.25 549.72 L242.32 549.77 L243.39 549.83 L244.46 549.88 L245.53 549.94 L246.6 550 L247.67 550.07 L248.74 550.15 L249.81 550.24 L250.88 550.34 L251.95 550.45 L253.02 550.57 L254.09 550.69 L255.16 550.81 L256.23 550.93 L257.3 551.06 L258.37 551.18 L259.44 551.32 L260.51 551.46 L261.58 551.61 L262.65 551.75 L263.72 551.9 L264.79 552.06 L265.86 552.21 L266.93 552.35 L268 552.5" fill="none" stroke="#1D3F7E" stroke-width="1.3"/>
<line x1="203.8" y1="542.5" x2="203.8" y2="554.5" stroke="#1D3F7E" stroke-width="0.8" />
<line x1="202.7" y1="542.5" x2="204.9" y2="542.5" stroke="#1D3F7E" stroke-width="0.8" />
<line x1="202.7" y1="554.5" x2="204.9" y2="554.5" stroke="#1D3F7E" stroke-width="0.8" />
<rect x="202.6" y="547.3" width="2.4" height="2.4" fill="#1D3F7E"/>
<line x1="214.01" y1="545.82" x2="214.01" y2="551.82" stroke="#1D3F7E" stroke-width="0.8" />
<line x1="212.91" y1="545.82" x2="215.11" y2="545.82" stroke="#1D3F7E" stroke-width="0.8" />
<line x1="212.91" y1="551.82" x2="215.11" y2="551.82" stroke="#1D3F7E" stroke-width="0.8" />
<rect x="212.81" y="547.62" width="2.4" height="2.4" fill="#1D3F7E"/>
<line x1="225.2" y1="545.13" x2="225.2" y2="553.13" stroke="#1D3F7E" stroke-width="0.8" />
<line x1="224.1" y1="545.13" x2="226.3" y2="545.13" stroke="#1D3F7E" stroke-width="0.8" />
<line x1="224.1" y1="553.13" x2="226.3" y2="553.13" stroke="#1D3F7E" stroke-width="0.8" />
<rect x="224" y="547.93" width="2.4" height="2.4" fill="#1D3F7E"/>
<line x1="235.41" y1="544.97" x2="235.41" y2="553.97" stroke="#1D3F7E" stroke-width="0.8" />
<line x1="234.31" y1="544.97" x2="236.51" y2="544.97" stroke="#1D3F7E" stroke-width="0.8" />
<line x1="234.31" y1="553.97" x2="236.51" y2="553.97" stroke="#1D3F7E" stroke-width="0.8" />
<rect x="234.21" y="548.27" width="2.4" height="2.4" fill="#1D3F7E"/>
<line x1="246.6" y1="546" x2="246.6" y2="554" stroke="#1D3F7E" stroke-width="0.8" />
<line x1="245.5" y1="546" x2="247.7" y2="546" stroke="#1D3F7E" stroke-width="0.8" />
<line x1="245.5" y1="554" x2="247.7" y2="554" stroke="#1D3F7E" stroke-width="0.8" />
<rect x="245.4" y="548.8" width="2.4" height="2.4" fill="#1D3F7E"/>
<line x1="256.81" y1="547.5" x2="256.81" y2="554.5" stroke="#1D3F7E" stroke-width="0.8" />
<line x1="255.71" y1="547.5" x2="257.91" y2="547.5" stroke="#1D3F7E" stroke-width="0.8" />
<line x1="255.71" y1="554.5" x2="257.91" y2="554.5" stroke="#1D3F7E" stroke-width="0.8" />
<rect x="255.61" y="549.8" width="2.4" height="2.4" fill="#1D3F7E"/>
<line x1="268" y1="549.5" x2="268" y2="555.5" stroke="#1D3F7E" stroke-width="0.8" />
<line x1="266.9" y1="549.5" x2="269.1" y2="549.5" stroke="#1D3F7E" stroke-width="0.8" />
<line x1="266.9" y1="555.5" x2="269.1" y2="555.5" stroke="#1D3F7E" stroke-width="0.8" />
<rect x="266.8" y="551.3" width="2.4" height="2.4" fill="#1D3F7E"/>
<line x1="204" y1="538.5" x2="204" y2="602" stroke="#000" stroke-width="1.35" />
<line x1="200.5" y1="586" x2="203.8" y2="586" stroke="#000" stroke-width="0.9" />
<text x="196.8" y="588" font-size="7" text-anchor="end" font-weight="normal" fill="#111" stroke="#111" stroke-width="0.13">25</text>
<line x1="200.5" y1="573.5" x2="203.8" y2="573.5" stroke="#000" stroke-width="0.9" />
<text x="196.8" y="575.5" font-size="7" text-anchor="end" font-weight="normal" fill="#111" stroke="#111" stroke-width="0.13">50</text>
<line x1="200.5" y1="561" x2="203.8" y2="561" stroke="#000" stroke-width="0.9" />
<text x="196.8" y="563" font-size="7" text-anchor="end" font-weight="normal" fill="#111" stroke="#111" stroke-width="0.13">75</text>
<line x1="200.5" y1="548.5" x2="203.8" y2="548.5" stroke="#000" stroke-width="0.9" />
<text x="196.8" y="550.5" font-size="7" text-anchor="end" font-weight="normal" fill="#111" stroke="#111" stroke-width="0.13">100</text>
<line x1="201.8" y1="592.25" x2="203.8" y2="592.25" stroke="#000" stroke-width="0.8" />
<line x1="201.8" y1="579.75" x2="203.8" y2="579.75" stroke="#000" stroke-width="0.8" />
<line x1="201.8" y1="567.25" x2="203.8" y2="567.25" stroke="#000" stroke-width="0.8" />
<line x1="201.8" y1="554.75" x2="203.8" y2="554.75" stroke="#000" stroke-width="0.8" />
<line x1="201.8" y1="542.25" x2="203.8" y2="542.25" stroke="#000" stroke-width="0.8" />
<line x1="203.8" y1="598.5" x2="293.3" y2="598.5" stroke="#000" stroke-width="1.1" />
<line x1="203.8" y1="598.5" x2="203.8" y2="601.8" stroke="#000" stroke-width="0.9" />
<text x="203.8" y="611.3" font-size="7" text-anchor="middle" font-weight="normal" fill="#111" stroke="#111" stroke-width="0.13">1</text>
<line x1="210.24" y1="598.5" x2="210.24" y2="600.1" stroke="#000" stroke-width="0.8" />
<line x1="214.01" y1="598.5" x2="214.01" y2="600.1" stroke="#000" stroke-width="0.8" />
<line x1="216.68" y1="598.5" x2="216.68" y2="600.1" stroke="#000" stroke-width="0.8" />
<line x1="218.76" y1="598.5" x2="218.76" y2="600.1" stroke="#000" stroke-width="0.8" />
<line x1="220.45" y1="598.5" x2="220.45" y2="600.1" stroke="#000" stroke-width="0.8" />
<line x1="221.89" y1="598.5" x2="221.89" y2="600.1" stroke="#000" stroke-width="0.8" />
<line x1="223.13" y1="598.5" x2="223.13" y2="600.1" stroke="#000" stroke-width="0.8" />
<line x1="224.22" y1="598.5" x2="224.22" y2="600.1" stroke="#000" stroke-width="0.8" />
<line x1="225.2" y1="598.5" x2="225.2" y2="601.8" stroke="#000" stroke-width="0.9" />
<text x="225.2" y="611.3" font-size="7" text-anchor="middle" font-weight="normal" fill="#111" stroke="#111" stroke-width="0.13">10</text>
<line x1="231.64" y1="598.5" x2="231.64" y2="600.1" stroke="#000" stroke-width="0.8" />
<line x1="235.41" y1="598.5" x2="235.41" y2="600.1" stroke="#000" stroke-width="0.8" />
<line x1="238.08" y1="598.5" x2="238.08" y2="600.1" stroke="#000" stroke-width="0.8" />
<line x1="240.16" y1="598.5" x2="240.16" y2="600.1" stroke="#000" stroke-width="0.8" />
<line x1="241.85" y1="598.5" x2="241.85" y2="600.1" stroke="#000" stroke-width="0.8" />
<line x1="243.29" y1="598.5" x2="243.29" y2="600.1" stroke="#000" stroke-width="0.8" />
<line x1="244.53" y1="598.5" x2="244.53" y2="600.1" stroke="#000" stroke-width="0.8" />
<line x1="245.62" y1="598.5" x2="245.62" y2="600.1" stroke="#000" stroke-width="0.8" />
<line x1="246.6" y1="598.5" x2="246.6" y2="601.8" stroke="#000" stroke-width="0.9" />
<text x="246.6" y="611.3" font-size="7" text-anchor="middle" font-weight="normal" fill="#111" stroke="#111" stroke-width="0.13">100</text>
<line x1="253.04" y1="598.5" x2="253.04" y2="600.1" stroke="#000" stroke-width="0.8" />
<line x1="256.81" y1="598.5" x2="256.81" y2="600.1" stroke="#000" stroke-width="0.8" />
<line x1="259.48" y1="598.5" x2="259.48" y2="600.1" stroke="#000" stroke-width="0.8" />
<line x1="261.56" y1="598.5" x2="261.56" y2="600.1" stroke="#000" stroke-width="0.8" />
<line x1="263.25" y1="598.5" x2="263.25" y2="600.1" stroke="#000" stroke-width="0.8" />
<line x1="264.69" y1="598.5" x2="264.69" y2="600.1" stroke="#000" stroke-width="0.8" />
<line x1="265.93" y1="598.5" x2="265.93" y2="600.1" stroke="#000" stroke-width="0.8" />
<line x1="267.02" y1="598.5" x2="267.02" y2="600.1" stroke="#000" stroke-width="0.8" />
<line x1="268" y1="598.5" x2="268" y2="601.8" stroke="#000" stroke-width="0.9" />
<text x="268" y="611.3" font-size="7" text-anchor="middle" font-weight="normal" fill="#111" stroke="#111" stroke-width="0.13">1000</text>
<line x1="274.44" y1="598.5" x2="274.44" y2="600.1" stroke="#000" stroke-width="0.8" />
<line x1="278.21" y1="598.5" x2="278.21" y2="600.1" stroke="#000" stroke-width="0.8" />
<line x1="280.88" y1="598.5" x2="280.88" y2="600.1" stroke="#000" stroke-width="0.8" />
<line x1="282.96" y1="598.5" x2="282.96" y2="600.1" stroke="#000" stroke-width="0.8" />
<line x1="284.65" y1="598.5" x2="284.65" y2="600.1" stroke="#000" stroke-width="0.8" />
<line x1="286.09" y1="598.5" x2="286.09" y2="600.1" stroke="#000" stroke-width="0.8" />
<line x1="287.33" y1="598.5" x2="287.33" y2="600.1" stroke="#000" stroke-width="0.8" />
<line x1="288.42" y1="598.5" x2="288.42" y2="600.1" stroke="#000" stroke-width="0.8" />
<line x1="289.4" y1="598.5" x2="289.4" y2="601.8" stroke="#000" stroke-width="0.9" />
<text x="289.4" y="611.3" font-size="7" text-anchor="middle" font-weight="normal" fill="#111" stroke="#111" stroke-width="0.13">10000</text>
<text x="248.6" y="624.3" font-size="9.6" text-anchor="middle" font-weight="normal" fill="#222" textLength="29.6" lengthAdjust="spacingAndGlyphs" stroke="#222" stroke-width="0.22">Drug [nM]</text>
<text x="179.3" y="568.8" font-size="9.6" text-anchor="middle" font-weight="normal" fill="#222" textLength="33" lengthAdjust="spacingAndGlyphs" transform="rotate(-90 179.3 568.8)" stroke="#222" stroke-width="0.22">% to DMSO</text>
<text x="209.5" y="533.2" font-size="9.3" text-anchor="start" font-weight="normal" fill="#111" textLength="77.5" lengthAdjust="spacingAndGlyphs" >CD45+ leukocytes</text>
<path d="M347.3 549.5 L348.74 549.5 L350.18 549.5 L351.62 549.5 L353.06 549.5 L354.5 549.5 L355.94 549.5 L357.38 549.5 L358.82 549.5 L360.26 549.5 L361.7 549.5 L363.14 549.5 L364.58 549.5 L366.02 549.5 L367.46 549.5 L368.9 549.5 L370.34 549.5 L371.78 549.5 L373.22 549.5 L374.66 549.5 L376.1 549.5 L377.54 549.5 L378.98 549.5 L380.42 549.5 L381.86 549.5 L383.3 549.5 L384.74 549.5 L386.18 549.5 L387.62 549.5 L389.06 549.5 L390.5 549.5 L391.94 549.5 L393.38 549.5 L394.82 549.5 L396.26 549.5 L397.7 549.5 L399.14 549.5 L400.58 549.5 L402.02 549.5 L403.46 549.5 L404.9 549.5 L406.34 549.5 L407.78 549.5 L409.22 549.5 L410.66 549.5 L412.1 549.5 L413.54 549.57 L414.98 549.75 L416.42 550.01 L417.86 550.33 L419.3 550.69 L420.74 551.25 L422.18 551.98 L423.62 552.87 L425.06 553.87 L426.5 554.96 L427.94 556.14 L429.38 557.66 L430.82 559.42 L432.26 561.25 L433.7 563" fill="none" stroke="#A9BC7A" stroke-width="1.3"/>
<rect x="346.1" y="551.3" width="2.4" height="2.4" fill="#A9BC7A"/>
<rect x="356.41" y="548.3" width="2.4" height="2.4" fill="#A9BC7A"/>
<line x1="368.9" y1="546" x2="368.9" y2="556" stroke="#A9BC7A" stroke-width="0.8" />
<line x1="367.8" y1="546" x2="370" y2="546" stroke="#A9BC7A" stroke-width="0.8" />
<line x1="367.8" y1="556" x2="370" y2="556" stroke="#A9BC7A" stroke-width="0.8" />
<rect x="367.7" y="549.8" width="2.4" height="2.4" fill="#A9BC7A"/>
<line x1="379.21" y1="546" x2="379.21" y2="556" stroke="#A9BC7A" stroke-width="0.8" />
<line x1="378.11" y1="546" x2="380.31" y2="546" stroke="#A9BC7A" stroke-width="0.8" />
<line x1="378.11" y1="556" x2="380.31" y2="556" stroke="#A9BC7A" stroke-width="0.8" />
<rect x="378.01" y="549.8" width="2.4" height="2.4" fill="#A9BC7A"/>
<line x1="390.5" y1="546" x2="390.5" y2="556" stroke="#A9BC7A" stroke-width="0.8" />
<line x1="389.4" y1="546" x2="391.6" y2="546" stroke="#A9BC7A" stroke-width="0.8" />
<line x1="389.4" y1="556" x2="391.6" y2="556" stroke="#A9BC7A" stroke-width="0.8" />
<rect x="389.3" y="549.8" width="2.4" height="2.4" fill="#A9BC7A"/>
<line x1="400.81" y1="546" x2="400.81" y2="558" stroke="#A9BC7A" stroke-width="0.8" />
<line x1="399.71" y1="546" x2="401.91" y2="546" stroke="#A9BC7A" stroke-width="0.8" />
<line x1="399.71" y1="558" x2="401.91" y2="558" stroke="#A9BC7A" stroke-width="0.8" />
<rect x="399.61" y="550.8" width="2.4" height="2.4" fill="#A9BC7A"/>
<line x1="412.1" y1="546" x2="412.1" y2="558" stroke="#A9BC7A" stroke-width="0.8" />
<line x1="411" y1="546" x2="413.2" y2="546" stroke="#A9BC7A" stroke-width="0.8" />
<line x1="411" y1="558" x2="413.2" y2="558" stroke="#A9BC7A" stroke-width="0.8" />
<rect x="410.9" y="550.8" width="2.4" height="2.4" fill="#A9BC7A"/>
<rect x="421.21" y="550.91" width="2.4" height="2.4" fill="#A9BC7A"/>
<line x1="433.7" y1="561" x2="433.7" y2="567" stroke="#A9BC7A" stroke-width="0.8" />
<line x1="432.6" y1="561" x2="434.8" y2="561" stroke="#A9BC7A" stroke-width="0.8" />
<line x1="432.6" y1="567" x2="434.8" y2="567" stroke="#A9BC7A" stroke-width="0.8" />
<rect x="432.5" y="562.8" width="2.4" height="2.4" fill="#A9BC7A"/>
<path d="M347.3 549.75 L348.74 549.75 L350.18 549.75 L351.62 549.75 L353.06 549.75 L354.5 549.75 L355.94 549.75 L357.38 549.75 L358.82 549.75 L360.26 549.75 L361.7 549.75 L363.14 549.75 L364.58 549.75 L366.02 549.75 L367.46 549.75 L368.9 549.75 L370.34 549.75 L371.78 549.75 L373.22 549.75 L374.66 549.75 L376.1 549.75 L377.54 549.75 L378.98 549.75 L380.42 549.75 L381.86 549.75 L383.3 549.75 L384.74 549.75 L386.18 549.75 L387.62 549.75 L389.06 549.75 L390.5 549.75 L391.94 549.75 L393.38 549.75 L394.82 549.75 L396.26 549.75 L397.7 549.75 L399.14 549.75 L400.58 549.75 L402.02 549.75 L403.46 549.75 L404.9 549.75 L406.34 549.75 L407.78 549.75 L409.22 549.75 L410.66 549.75 L412.1 549.75 L413.54 549.82 L414.98 549.99 L416.42 550.26 L417.86 550.57 L419.3 550.94 L420.74 551.51 L422.18 552.28 L423.62 553.2 L425.06 554.26 L426.5 555.42 L427.94 556.7 L429.38 558.41 L430.82 560.41 L432.26 562.5 L433.7 564.5" fill="none" stroke="#2D6A4F" stroke-width="1.3"/>
<rect x="346.1" y="550.55" width="2.4" height="2.4" fill="#2D6A4F"/>
<rect x="356.41" y="548.55" width="2.4" height="2.4" fill="#2D6A4F"/>
<rect x="367.7" y="548.55" width="2.4" height="2.4" fill="#2D6A4F"/>
<line x1="379.21" y1="544.75" x2="379.21" y2="554.75" stroke="#2D6A4F" stroke-width="0.8" />
<line x1="378.11" y1="544.75" x2="380.31" y2="544.75" stroke="#2D6A4F" stroke-width="0.8" />
<line x1="378.11" y1="554.75" x2="380.31" y2="554.75" stroke="#2D6A4F" stroke-width="0.8" />
<rect x="378.01" y="548.55" width="2.4" height="2.4" fill="#2D6A4F"/>
<line x1="390.5" y1="544.75" x2="390.5" y2="554.75" stroke="#2D6A4F" stroke-width="0.8" />
<line x1="389.4" y1="544.75" x2="391.6" y2="544.75" stroke="#2D6A4F" stroke-width="0.8" />
<line x1="389.4" y1="554.75" x2="391.6" y2="554.75" stroke="#2D6A4F" stroke-width="0.8" />
<rect x="389.3" y="548.55" width="2.4" height="2.4" fill="#2D6A4F"/>
<line x1="400.81" y1="544.75" x2="400.81" y2="554.75" stroke="#2D6A4F" stroke-width="0.8" />
<line x1="399.71" y1="544.75" x2="401.91" y2="544.75" stroke="#2D6A4F" stroke-width="0.8" />
<line x1="399.71" y1="554.75" x2="401.91" y2="554.75" stroke="#2D6A4F" stroke-width="0.8" />
<rect x="399.61" y="548.55" width="2.4" height="2.4" fill="#2D6A4F"/>
<line x1="412.1" y1="544.75" x2="412.1" y2="554.75" stroke="#2D6A4F" stroke-width="0.8" />
<line x1="411" y1="544.75" x2="413.2" y2="544.75" stroke="#2D6A4F" stroke-width="0.8" />
<line x1="411" y1="554.75" x2="413.2" y2="554.75" stroke="#2D6A4F" stroke-width="0.8" />
<rect x="410.9" y="548.55" width="2.4" height="2.4" fill="#2D6A4F"/>
<rect x="421.21" y="551.21" width="2.4" height="2.4" fill="#2D6A4F"/>
<line x1="433.7" y1="562.5" x2="433.7" y2="568.5" stroke="#2D6A4F" stroke-width="0.8" />
<line x1="432.6" y1="562.5" x2="434.8" y2="562.5" stroke="#2D6A4F" stroke-width="0.8" />
<line x1="432.6" y1="568.5" x2="434.8" y2="568.5" stroke="#2D6A4F" stroke-width="0.8" />
<rect x="432.5" y="564.3" width="2.4" height="2.4" fill="#2D6A4F"/>
<path d="M347.3 549.25 L348.74 549.25 L350.18 549.25 L351.62 549.25 L353.06 549.25 L354.5 549.25 L355.94 549.25 L357.38 549.25 L358.82 549.25 L360.26 549.25 L361.7 549.25 L363.14 549.25 L364.58 549.25 L366.02 549.25 L367.46 549.25 L368.9 549.25 L370.34 549.25 L371.78 549.25 L373.22 549.25 L374.66 549.25 L376.1 549.25 L377.54 549.25 L378.98 549.25 L380.42 549.25 L381.86 549.25 L383.3 549.25 L384.74 549.25 L386.18 549.25 L387.62 549.25 L389.06 549.25 L390.5 549.25 L391.94 549.25 L393.38 549.25 L394.82 549.25 L396.26 549.25 L397.7 549.25 L399.14 549.25 L400.58 549.25 L402.02 549.25 L403.46 549.25 L404.9 549.25 L406.34 549.25 L407.78 549.25 L409.22 549.25 L410.66 549.25 L412.1 549.25 L413.54 549.3 L414.98 549.43 L416.42 549.63 L417.86 549.87 L419.3 550.16 L420.74 550.64 L422.18 551.31 L423.62 552.12 L425.06 553.04 L426.5 554.01 L427.94 555.07 L429.38 556.39 L430.82 557.91 L432.26 559.49 L433.7 561" fill="none" stroke="#5BA3DC" stroke-width="1.3"/>
<rect x="346.1" y="548.05" width="2.4" height="2.4" fill="#5BA3DC"/>
<rect x="356.41" y="548.05" width="2.4" height="2.4" fill="#5BA3DC"/>
<rect x="367.7" y="548.05" width="2.4" height="2.4" fill="#5BA3DC"/>
<line x1="379.21" y1="540.75" x2="379.21" y2="560.75" stroke="#5BA3DC" stroke-width="0.8" />
<line x1="378.11" y1="540.75" x2="380.31" y2="540.75" stroke="#5BA3DC" stroke-width="0.8" />
<line x1="378.11" y1="560.75" x2="380.31" y2="560.75" stroke="#5BA3DC" stroke-width="0.8" />
<rect x="378.01" y="549.55" width="2.4" height="2.4" fill="#5BA3DC"/>
<line x1="390.5" y1="540.75" x2="390.5" y2="560.75" stroke="#5BA3DC" stroke-width="0.8" />
<line x1="389.4" y1="540.75" x2="391.6" y2="540.75" stroke="#5BA3DC" stroke-width="0.8" />
<line x1="389.4" y1="560.75" x2="391.6" y2="560.75" stroke="#5BA3DC" stroke-width="0.8" />
<rect x="389.3" y="549.55" width="2.4" height="2.4" fill="#5BA3DC"/>
<line x1="400.81" y1="541.25" x2="400.81" y2="559.25" stroke="#5BA3DC" stroke-width="0.8" />
<line x1="399.71" y1="541.25" x2="401.91" y2="541.25" stroke="#5BA3DC" stroke-width="0.8" />
<line x1="399.71" y1="559.25" x2="401.91" y2="559.25" stroke="#5BA3DC" stroke-width="0.8" />
<rect x="399.61" y="549.05" width="2.4" height="2.4" fill="#5BA3DC"/>
<line x1="412.1" y1="542.25" x2="412.1" y2="558.25" stroke="#5BA3DC" stroke-width="0.8" />
<line x1="411" y1="542.25" x2="413.2" y2="542.25" stroke="#5BA3DC" stroke-width="0.8" />
<line x1="411" y1="558.25" x2="413.2" y2="558.25" stroke="#5BA3DC" stroke-width="0.8" />
<rect x="410.9" y="549.05" width="2.4" height="2.4" fill="#5BA3DC"/>
<line x1="422.41" y1="545.43" x2="422.41" y2="561.43" stroke="#5BA3DC" stroke-width="0.8" />
<line x1="421.31" y1="545.43" x2="423.51" y2="545.43" stroke="#5BA3DC" stroke-width="0.8" />
<line x1="421.31" y1="561.43" x2="423.51" y2="561.43" stroke="#5BA3DC" stroke-width="0.8" />
<rect x="421.21" y="552.23" width="2.4" height="2.4" fill="#5BA3DC"/>
<line x1="433.7" y1="557" x2="433.7" y2="565" stroke="#5BA3DC" stroke-width="0.8" />
<line x1="432.6" y1="557" x2="434.8" y2="557" stroke="#5BA3DC" stroke-width="0.8" />
<line x1="432.6" y1="565" x2="434.8" y2="565" stroke="#5BA3DC" stroke-width="0.8" />
<rect x="432.5" y="559.8" width="2.4" height="2.4" fill="#5BA3DC"/>
<path d="M347.3 549 L348.38 549 L349.46 549 L350.54 549 L351.62 549 L352.7 549 L353.78 549 L354.86 549 L355.94 549 L357.02 549 L358.1 549 L359.18 549 L360.26 549 L361.34 549 L362.42 549 L363.5 549 L364.58 549 L365.66 549 L366.74 549 L367.82 549 L368.9 549 L369.98 549 L371.06 549 L372.14 549 L373.22 549 L374.3 549 L375.38 549 L376.46 549 L377.54 549 L378.62 549 L379.7 549 L380.78 549 L381.86 549 L382.94 549 L384.02 549 L385.1 549 L386.18 549 L387.26 549 L388.34 549 L389.42 549 L390.5 549 L391.58 549 L392.66 549 L393.74 549 L394.82 549 L395.9 549 L396.98 549 L398.06 549 L399.14 549 L400.22 549 L401.3 549 L402.38 549 L403.46 549 L404.54 549 L405.62 549 L406.7 549 L407.78 549 L408.86 549 L409.94 549 L411.02 549 L412.1 549" fill="none" stroke="#1D3F7E" stroke-width="1.3"/>
<line x1="347.3" y1="544.5" x2="347.3" y2="553.5" stroke="#1D3F7E" stroke-width="0.8" />
<line x1="346.2" y1="544.5" x2="348.4" y2="544.5" stroke="#1D3F7E" stroke-width="0.8" />
<line x1="346.2" y1="553.5" x2="348.4" y2="553.5" stroke="#1D3F7E" stroke-width="0.8" />
<rect x="346.1" y="547.8" width="2.4" height="2.4" fill="#1D3F7E"/>
<line x1="357.61" y1="546" x2="357.61" y2="552" stroke="#1D3F7E" stroke-width="0.8" />
<line x1="356.51" y1="546" x2="358.71" y2="546" stroke="#1D3F7E" stroke-width="0.8" />
<line x1="356.51" y1="552" x2="358.71" y2="552" stroke="#1D3F7E" stroke-width="0.8" />
<rect x="356.41" y="547.8" width="2.4" height="2.4" fill="#1D3F7E"/>
<line x1="368.9" y1="545.5" x2="368.9" y2="552.5" stroke="#1D3F7E" stroke-width="0.8" />
<line x1="367.8" y1="545.5" x2="370" y2="545.5" stroke="#1D3F7E" stroke-width="0.8" />
<line x1="367.8" y1="552.5" x2="370" y2="552.5" stroke="#1D3F7E" stroke-width="0.8" />
<rect x="367.7" y="547.8" width="2.4" height="2.4" fill="#1D3F7E"/>
<line x1="379.21" y1="545" x2="379.21" y2="553" stroke="#1D3F7E" stroke-width="0.8" />
<line x1="378.11" y1="545" x2="380.31" y2="545" stroke="#1D3F7E" stroke-width="0.8" />
<line x1="378.11" y1="553" x2="380.31" y2="553" stroke="#1D3F7E" stroke-width="0.8" />
<rect x="378.01" y="547.8" width="2.4" height="2.4" fill="#1D3F7E"/>
<line x1="390.5" y1="545" x2="390.5" y2="553" stroke="#1D3F7E" stroke-width="0.8" />
<line x1="389.4" y1="545" x2="391.6" y2="545" stroke="#1D3F7E" stroke-width="0.8" />
<line x1="389.4" y1="553" x2="391.6" y2="553" stroke="#1D3F7E" stroke-width="0.8" />
<rect x="389.3" y="547.8" width="2.4" height="2.4" fill="#1D3F7E"/>
<line x1="400.81" y1="545" x2="400.81" y2="553" stroke="#1D3F7E" stroke-width="0.8" />
<line x1="399.71" y1="545" x2="401.91" y2="545" stroke="#1D3F7E" stroke-width="0.8" />
<line x1="399.71" y1="553" x2="401.91" y2="553" stroke="#1D3F7E" stroke-width="0.8" />
<rect x="399.61" y="547.8" width="2.4" height="2.4" fill="#1D3F7E"/>
<line x1="412.1" y1="545" x2="412.1" y2="553" stroke="#1D3F7E" stroke-width="0.8" />
<line x1="411" y1="545" x2="413.2" y2="545" stroke="#1D3F7E" stroke-width="0.8" />
<line x1="411" y1="553" x2="413.2" y2="553" stroke="#1D3F7E" stroke-width="0.8" />
<rect x="410.9" y="547.8" width="2.4" height="2.4" fill="#1D3F7E"/>
<line x1="347.5" y1="538.5" x2="347.5" y2="602" stroke="#000" stroke-width="1.35" />
<line x1="344" y1="586" x2="347.3" y2="586" stroke="#000" stroke-width="0.9" />
<text x="340.3" y="588" font-size="7" text-anchor="end" font-weight="normal" fill="#111" stroke="#111" stroke-width="0.13">25</text>
<line x1="344" y1="573.5" x2="347.3" y2="573.5" stroke="#000" stroke-width="0.9" />
<text x="340.3" y="575.5" font-size="7" text-anchor="end" font-weight="normal" fill="#111" stroke="#111" stroke-width="0.13">50</text>
<line x1="344" y1="561" x2="347.3" y2="561" stroke="#000" stroke-width="0.9" />
<text x="340.3" y="563" font-size="7" text-anchor="end" font-weight="normal" fill="#111" stroke="#111" stroke-width="0.13">75</text>
<line x1="344" y1="548.5" x2="347.3" y2="548.5" stroke="#000" stroke-width="0.9" />
<text x="340.3" y="550.5" font-size="7" text-anchor="end" font-weight="normal" fill="#111" stroke="#111" stroke-width="0.13">100</text>
<line x1="345.3" y1="592.25" x2="347.3" y2="592.25" stroke="#000" stroke-width="0.8" />
<line x1="345.3" y1="579.75" x2="347.3" y2="579.75" stroke="#000" stroke-width="0.8" />
<line x1="345.3" y1="567.25" x2="347.3" y2="567.25" stroke="#000" stroke-width="0.8" />
<line x1="345.3" y1="554.75" x2="347.3" y2="554.75" stroke="#000" stroke-width="0.8" />
<line x1="345.3" y1="542.25" x2="347.3" y2="542.25" stroke="#000" stroke-width="0.8" />
<line x1="347.3" y1="598.5" x2="436.2" y2="598.5" stroke="#000" stroke-width="1.1" />
<line x1="347.3" y1="598.5" x2="347.3" y2="601.8" stroke="#000" stroke-width="0.9" />
<text x="347.3" y="611.3" font-size="7" text-anchor="middle" font-weight="normal" fill="#111" stroke="#111" stroke-width="0.13">1</text>
<line x1="353.8" y1="598.5" x2="353.8" y2="600.1" stroke="#000" stroke-width="0.8" />
<line x1="357.61" y1="598.5" x2="357.61" y2="600.1" stroke="#000" stroke-width="0.8" />
<line x1="360.3" y1="598.5" x2="360.3" y2="600.1" stroke="#000" stroke-width="0.8" />
<line x1="362.4" y1="598.5" x2="362.4" y2="600.1" stroke="#000" stroke-width="0.8" />
<line x1="364.11" y1="598.5" x2="364.11" y2="600.1" stroke="#000" stroke-width="0.8" />
<line x1="365.55" y1="598.5" x2="365.55" y2="600.1" stroke="#000" stroke-width="0.8" />
<line x1="366.81" y1="598.5" x2="366.81" y2="600.1" stroke="#000" stroke-width="0.8" />
<line x1="367.91" y1="598.5" x2="367.91" y2="600.1" stroke="#000" stroke-width="0.8" />
<line x1="368.9" y1="598.5" x2="368.9" y2="601.8" stroke="#000" stroke-width="0.9" />
<text x="368.9" y="611.3" font-size="7" text-anchor="middle" font-weight="normal" fill="#111" stroke="#111" stroke-width="0.13">10</text>
<line x1="375.4" y1="598.5" x2="375.4" y2="600.1" stroke="#000" stroke-width="0.8" />
<line x1="379.21" y1="598.5" x2="379.21" y2="600.1" stroke="#000" stroke-width="0.8" />
<line x1="381.9" y1="598.5" x2="381.9" y2="600.1" stroke="#000" stroke-width="0.8" />
<line x1="384" y1="598.5" x2="384" y2="600.1" stroke="#000" stroke-width="0.8" />
<line x1="385.71" y1="598.5" x2="385.71" y2="600.1" stroke="#000" stroke-width="0.8" />
<line x1="387.15" y1="598.5" x2="387.15" y2="600.1" stroke="#000" stroke-width="0.8" />
<line x1="388.41" y1="598.5" x2="388.41" y2="600.1" stroke="#000" stroke-width="0.8" />
<line x1="389.51" y1="598.5" x2="389.51" y2="600.1" stroke="#000" stroke-width="0.8" />
<line x1="390.5" y1="598.5" x2="390.5" y2="601.8" stroke="#000" stroke-width="0.9" />
<text x="390.5" y="611.3" font-size="7" text-anchor="middle" font-weight="normal" fill="#111" stroke="#111" stroke-width="0.13">100</text>
<line x1="397" y1="598.5" x2="397" y2="600.1" stroke="#000" stroke-width="0.8" />
<line x1="400.81" y1="598.5" x2="400.81" y2="600.1" stroke="#000" stroke-width="0.8" />
<line x1="403.5" y1="598.5" x2="403.5" y2="600.1" stroke="#000" stroke-width="0.8" />
<line x1="405.6" y1="598.5" x2="405.6" y2="600.1" stroke="#000" stroke-width="0.8" />
<line x1="407.31" y1="598.5" x2="407.31" y2="600.1" stroke="#000" stroke-width="0.8" />
<line x1="408.75" y1="598.5" x2="408.75" y2="600.1" stroke="#000" stroke-width="0.8" />
<line x1="410.01" y1="598.5" x2="410.01" y2="600.1" stroke="#000" stroke-width="0.8" />
<line x1="411.11" y1="598.5" x2="411.11" y2="600.1" stroke="#000" stroke-width="0.8" />
<line x1="412.1" y1="598.5" x2="412.1" y2="601.8" stroke="#000" stroke-width="0.9" />
<text x="412.1" y="611.3" font-size="7" text-anchor="middle" font-weight="normal" fill="#111" stroke="#111" stroke-width="0.13">1000</text>
<line x1="418.6" y1="598.5" x2="418.6" y2="600.1" stroke="#000" stroke-width="0.8" />
<line x1="422.41" y1="598.5" x2="422.41" y2="600.1" stroke="#000" stroke-width="0.8" />
<line x1="425.1" y1="598.5" x2="425.1" y2="600.1" stroke="#000" stroke-width="0.8" />
<line x1="427.2" y1="598.5" x2="427.2" y2="600.1" stroke="#000" stroke-width="0.8" />
<line x1="428.91" y1="598.5" x2="428.91" y2="600.1" stroke="#000" stroke-width="0.8" />
<line x1="430.35" y1="598.5" x2="430.35" y2="600.1" stroke="#000" stroke-width="0.8" />
<line x1="431.61" y1="598.5" x2="431.61" y2="600.1" stroke="#000" stroke-width="0.8" />
<line x1="432.71" y1="598.5" x2="432.71" y2="600.1" stroke="#000" stroke-width="0.8" />
<line x1="433.7" y1="598.5" x2="433.7" y2="601.8" stroke="#000" stroke-width="0.9" />
<text x="433.7" y="611.3" font-size="7" text-anchor="middle" font-weight="normal" fill="#111" stroke="#111" stroke-width="0.13">10000</text>
<text x="392.1" y="624.3" font-size="9.6" text-anchor="middle" font-weight="normal" fill="#222" textLength="29.6" lengthAdjust="spacingAndGlyphs" stroke="#222" stroke-width="0.22">Drug [nM]</text>
<text x="323.1" y="568.8" font-size="9.6" text-anchor="middle" font-weight="normal" fill="#222" textLength="33" lengthAdjust="spacingAndGlyphs" transform="rotate(-90 323.1 568.8)" stroke="#222" stroke-width="0.22">% to DMSO</text>
<text x="365" y="533.2" font-size="9.3" text-anchor="start" font-weight="normal" fill="#111" textLength="54.5" lengthAdjust="spacingAndGlyphs" >CD3+ T-cells</text>
<line x1="440.7" y1="541.8" x2="447" y2="541.8" stroke="#1D3F7E" stroke-width="1" />
<rect x="442.6" y="540.6" width="2.4" height="2.4" fill="#1D3F7E"/>
<text x="450.3" y="543.9" font-size="6" text-anchor="start" font-weight="normal" fill="#222" textLength="25.4" lengthAdjust="spacingAndGlyphs" stroke="#222" stroke-width="0.13">Ruxolitinib</text>
<line x1="440.7" y1="551.6" x2="447" y2="551.6" stroke="#5BA3DC" stroke-width="1" />
<rect x="442.6" y="550.4" width="2.4" height="2.4" fill="#5BA3DC"/>
<text x="450.3" y="553.7" font-size="6" text-anchor="start" font-weight="normal" fill="#222" textLength="23.2" lengthAdjust="spacingAndGlyphs" stroke="#222" stroke-width="0.13">Tipifarnib</text>
<line x1="440.7" y1="561.7" x2="447" y2="561.7" stroke="#A9BC7A" stroke-width="1" />
<rect x="442.6" y="560.5" width="2.4" height="2.4" fill="#A9BC7A"/>
<text x="450.3" y="563.8" font-size="6" text-anchor="start" font-weight="normal" fill="#222" textLength="53.1" lengthAdjust="spacingAndGlyphs" stroke="#222" stroke-width="0.13">Tipi. + 100 nM Ruxo.</text>
<line x1="440.7" y1="571.5" x2="447" y2="571.5" stroke="#2D6A4F" stroke-width="1" />
<rect x="442.6" y="570.3" width="2.4" height="2.4" fill="#2D6A4F"/>
<text x="450.3" y="573.6" font-size="6" text-anchor="start" font-weight="normal" fill="#222" textLength="53.1" lengthAdjust="spacingAndGlyphs" stroke="#222" stroke-width="0.13">Tipi. + 300 nM Ruxo.</text>
<path d="M60 677 L61.44 677.07 L62.88 677.13 L64.32 677.2 L65.76 677.27 L67.2 677.33 L68.64 677.4 L70.08 677.47 L71.52 677.53 L72.96 677.6 L74.4 677.67 L75.84 677.73 L77.28 677.8 L78.72 677.87 L80.16 677.93 L81.6 678 L83.04 678.06 L84.48 678.12 L85.92 678.18 L87.36 678.23 L88.8 678.29 L90.24 678.34 L91.68 678.39 L93.12 678.45 L94.56 678.51 L96 678.57 L97.44 678.64 L98.88 678.72 L100.32 678.8 L101.76 678.9 L103.2 679 L104.64 679.13 L106.08 679.28 L107.52 679.47 L108.96 679.69 L110.4 679.94 L111.84 680.21 L113.28 680.5 L114.72 680.82 L116.16 681.16 L117.6 681.51 L119.04 681.88 L120.48 682.27 L121.92 682.67 L123.36 683.08 L124.8 683.5 L126.24 683.95 L127.68 684.44 L129.12 684.98 L130.56 685.59 L132 686.27 L133.44 687.02 L134.88 687.86 L136.32 688.88 L137.76 690.18 L139.2 691.72 L140.64 693.43 L142.08 695.22 L143.52 697.05 L144.96 698.83 L146.4 700.5" fill="none" stroke="#E59A2C" stroke-width="1.3"/>
<rect x="58.8" y="675.8" width="2.4" height="2.4" fill="#E59A2C"/>
<rect x="69.11" y="676.28" width="2.4" height="2.4" fill="#E59A2C"/>
<line x1="81.6" y1="676.5" x2="81.6" y2="679.5" stroke="#E59A2C" stroke-width="0.8" />
<line x1="80.5" y1="676.5" x2="82.7" y2="676.5" stroke="#E59A2C" stroke-width="0.8" />
<line x1="80.5" y1="679.5" x2="82.7" y2="679.5" stroke="#E59A2C" stroke-width="0.8" />
<rect x="80.4" y="676.8" width="2.4" height="2.4" fill="#E59A2C"/>
<line x1="91.91" y1="675.9" x2="91.91" y2="680.9" stroke="#E59A2C" stroke-width="0.8" />
<line x1="90.81" y1="675.9" x2="93.01" y2="675.9" stroke="#E59A2C" stroke-width="0.8" />
<line x1="90.81" y1="680.9" x2="93.01" y2="680.9" stroke="#E59A2C" stroke-width="0.8" />
<rect x="90.71" y="677.2" width="2.4" height="2.4" fill="#E59A2C"/>
<line x1="103.2" y1="674" x2="103.2" y2="682" stroke="#E59A2C" stroke-width="0.8" />
<line x1="102.1" y1="674" x2="104.3" y2="674" stroke="#E59A2C" stroke-width="0.8" />
<line x1="102.1" y1="682" x2="104.3" y2="682" stroke="#E59A2C" stroke-width="0.8" />
<rect x="102" y="676.8" width="2.4" height="2.4" fill="#E59A2C"/>
<line x1="113.51" y1="673.55" x2="113.51" y2="683.55" stroke="#E59A2C" stroke-width="0.8" />
<line x1="112.41" y1="673.55" x2="114.61" y2="673.55" stroke="#E59A2C" stroke-width="0.8" />
<line x1="112.41" y1="683.55" x2="114.61" y2="683.55" stroke="#E59A2C" stroke-width="0.8" />
<rect x="112.31" y="677.35" width="2.4" height="2.4" fill="#E59A2C"/>
<line x1="124.8" y1="677.5" x2="124.8" y2="689.5" stroke="#E59A2C" stroke-width="0.8" />
<line x1="123.7" y1="677.5" x2="125.9" y2="677.5" stroke="#E59A2C" stroke-width="0.8" />
<line x1="123.7" y1="689.5" x2="125.9" y2="689.5" stroke="#E59A2C" stroke-width="0.8" />
<rect x="123.6" y="682.3" width="2.4" height="2.4" fill="#E59A2C"/>
<line x1="135.11" y1="681.5" x2="135.11" y2="696.5" stroke="#E59A2C" stroke-width="0.8" />
<line x1="134.01" y1="681.5" x2="136.21" y2="681.5" stroke="#E59A2C" stroke-width="0.8" />
<line x1="134.01" y1="696.5" x2="136.21" y2="696.5" stroke="#E59A2C" stroke-width="0.8" />
<rect x="133.91" y="687.8" width="2.4" height="2.4" fill="#E59A2C"/>
<line x1="146.4" y1="695.5" x2="146.4" y2="705.5" stroke="#E59A2C" stroke-width="0.8" />
<line x1="145.3" y1="695.5" x2="147.5" y2="695.5" stroke="#E59A2C" stroke-width="0.8" />
<line x1="145.3" y1="705.5" x2="147.5" y2="705.5" stroke="#E59A2C" stroke-width="0.8" />
<rect x="145.2" y="699.3" width="2.4" height="2.4" fill="#E59A2C"/>
<path d="M60 715.5 L61.44 715.52 L62.88 715.53 L64.32 715.54 L65.76 715.55 L67.2 715.56 L68.64 715.57 L70.08 715.59 L71.52 715.6 L72.96 715.61 L74.4 715.63 L75.84 715.65 L77.28 715.67 L78.72 715.69 L80.16 715.72 L81.6 715.75 L83.04 715.82 L84.48 715.97 L85.92 716.17 L87.36 716.41 L88.8 716.67 L90.24 716.95 L91.68 717.21 L93.12 717.48 L94.56 717.78 L96 718.11 L97.44 718.45 L98.88 718.8 L100.32 719.13 L101.76 719.46 L103.2 719.75 L104.64 720.03 L106.08 720.31 L107.52 720.59 L108.96 720.86 L110.4 721.1 L111.84 721.31 L113.28 721.48 L114.72 721.61 L116.16 721.74 L117.6 721.86 L119.04 721.97 L120.48 722.07 L121.92 722.15 L123.36 722.21 L124.8 722.25 L126.24 722.28 L127.68 722.3 L129.12 722.33 L130.56 722.35 L132 722.36 L133.44 722.38 L134.88 722.39 L136.32 722.41 L137.76 722.42 L139.2 722.43 L140.64 722.44 L142.08 722.46 L143.52 722.47 L144.96 722.48 L146.4 722.5" fill="none" stroke="#D62B84" stroke-width="1.3"/>
<line x1="60" y1="713" x2="60" y2="718" stroke="#D62B84" stroke-width="0.8" />
<line x1="58.9" y1="713" x2="61.1" y2="713" stroke="#D62B84" stroke-width="0.8" />
<line x1="58.9" y1="718" x2="61.1" y2="718" stroke="#D62B84" stroke-width="0.8" />
<rect x="58.8" y="714.3" width="2.4" height="2.4" fill="#D62B84"/>
<rect x="69.11" y="714.39" width="2.4" height="2.4" fill="#D62B84"/>
<line x1="81.6" y1="712.75" x2="81.6" y2="718.75" stroke="#D62B84" stroke-width="0.8" />
<line x1="80.5" y1="712.75" x2="82.7" y2="712.75" stroke="#D62B84" stroke-width="0.8" />
<line x1="80.5" y1="718.75" x2="82.7" y2="718.75" stroke="#D62B84" stroke-width="0.8" />
<rect x="80.4" y="714.55" width="2.4" height="2.4" fill="#D62B84"/>
<line x1="91.91" y1="714.25" x2="91.91" y2="720.25" stroke="#D62B84" stroke-width="0.8" />
<line x1="90.81" y1="714.25" x2="93.01" y2="714.25" stroke="#D62B84" stroke-width="0.8" />
<line x1="90.81" y1="720.25" x2="93.01" y2="720.25" stroke="#D62B84" stroke-width="0.8" />
<rect x="90.71" y="716.05" width="2.4" height="2.4" fill="#D62B84"/>
<line x1="103.2" y1="717.25" x2="103.2" y2="722.25" stroke="#D62B84" stroke-width="0.8" />
<line x1="102.1" y1="717.25" x2="104.3" y2="717.25" stroke="#D62B84" stroke-width="0.8" />
<line x1="102.1" y1="722.25" x2="104.3" y2="722.25" stroke="#D62B84" stroke-width="0.8" />
<rect x="102" y="718.55" width="2.4" height="2.4" fill="#D62B84"/>
<line x1="113.51" y1="719.5" x2="113.51" y2="723.5" stroke="#D62B84" stroke-width="0.8" />
<line x1="112.41" y1="719.5" x2="114.61" y2="719.5" stroke="#D62B84" stroke-width="0.8" />
<line x1="112.41" y1="723.5" x2="114.61" y2="723.5" stroke="#D62B84" stroke-width="0.8" />
<rect x="112.31" y="720.3" width="2.4" height="2.4" fill="#D62B84"/>
<line x1="124.8" y1="720.75" x2="124.8" y2="723.75" stroke="#D62B84" stroke-width="0.8" />
<line x1="123.7" y1="720.75" x2="125.9" y2="720.75" stroke="#D62B84" stroke-width="0.8" />
<line x1="123.7" y1="723.75" x2="125.9" y2="723.75" stroke="#D62B84" stroke-width="0.8" />
<rect x="123.6" y="721.05" width="2.4" height="2.4" fill="#D62B84"/>
<line x1="135.11" y1="721.4" x2="135.11" y2="723.4" stroke="#D62B84" stroke-width="0.8" />
<line x1="134.01" y1="721.4" x2="136.21" y2="721.4" stroke="#D62B84" stroke-width="0.8" />
<line x1="134.01" y1="723.4" x2="136.21" y2="723.4" stroke="#D62B84" stroke-width="0.8" />
<rect x="133.91" y="721.2" width="2.4" height="2.4" fill="#D62B84"/>
<line x1="146.4" y1="721.5" x2="146.4" y2="723.5" stroke="#D62B84" stroke-width="0.8" />
<line x1="145.3" y1="721.5" x2="147.5" y2="721.5" stroke="#D62B84" stroke-width="0.8" />
<line x1="145.3" y1="723.5" x2="147.5" y2="723.5" stroke="#D62B84" stroke-width="0.8" />
<rect x="145.2" y="721.3" width="2.4" height="2.4" fill="#D62B84"/>
<path d="M60 703.5 L61.44 703.59 L62.88 703.68 L64.32 703.76 L65.76 703.83 L67.2 703.91 L68.64 703.98 L70.08 704.05 L71.52 704.13 L72.96 704.22 L74.4 704.31 L75.84 704.42 L77.28 704.54 L78.72 704.67 L80.16 704.83 L81.6 705 L83.04 705.27 L84.48 705.69 L85.92 706.24 L87.36 706.86 L88.8 707.53 L90.24 708.23 L91.68 708.9 L93.12 709.57 L94.56 710.29 L96 711.06 L97.44 711.85 L98.88 712.66 L100.32 713.46 L101.76 714.25 L103.2 715 L104.64 715.76 L106.08 716.56 L107.52 717.36 L108.96 718.14 L110.4 718.85 L111.84 719.46 L113.28 719.94 L114.72 720.31 L116.16 720.67 L117.6 721.01 L119.04 721.31 L120.48 721.57 L121.92 721.78 L123.36 721.93 L124.8 722 L126.24 722.03 L127.68 722.06 L129.12 722.08 L130.56 722.1 L132 722.12 L133.44 722.14 L134.88 722.15 L136.32 722.16 L137.76 722.18 L139.2 722.19 L140.64 722.2 L142.08 722.21 L143.52 722.22 L144.96 722.23 L146.4 722.25" fill="none" stroke="#B01E48" stroke-width="1.3"/>
<line x1="60" y1="697.5" x2="60" y2="709.5" stroke="#B01E48" stroke-width="0.8" />
<line x1="58.9" y1="697.5" x2="61.1" y2="697.5" stroke="#B01E48" stroke-width="0.8" />
<line x1="58.9" y1="709.5" x2="61.1" y2="709.5" stroke="#B01E48" stroke-width="0.8" />
<rect x="58.8" y="702.3" width="2.4" height="2.4" fill="#B01E48"/>
<rect x="69.11" y="702.86" width="2.4" height="2.4" fill="#B01E48"/>
<line x1="81.6" y1="695" x2="81.6" y2="715" stroke="#B01E48" stroke-width="0.8" />
<line x1="80.5" y1="695" x2="82.7" y2="695" stroke="#B01E48" stroke-width="0.8" />
<line x1="80.5" y1="715" x2="82.7" y2="715" stroke="#B01E48" stroke-width="0.8" />
<rect x="80.4" y="703.8" width="2.4" height="2.4" fill="#B01E48"/>
<line x1="91.91" y1="703.5" x2="91.91" y2="713.5" stroke="#B01E48" stroke-width="0.8" />
<line x1="90.81" y1="703.5" x2="93.01" y2="703.5" stroke="#B01E48" stroke-width="0.8" />
<line x1="90.81" y1="713.5" x2="93.01" y2="713.5" stroke="#B01E48" stroke-width="0.8" />
<rect x="90.71" y="707.3" width="2.4" height="2.4" fill="#B01E48"/>
<line x1="103.2" y1="711" x2="103.2" y2="719" stroke="#B01E48" stroke-width="0.8" />
<line x1="102.1" y1="711" x2="104.3" y2="711" stroke="#B01E48" stroke-width="0.8" />
<line x1="102.1" y1="719" x2="104.3" y2="719" stroke="#B01E48" stroke-width="0.8" />
<rect x="102" y="713.8" width="2.4" height="2.4" fill="#B01E48"/>
<line x1="113.51" y1="718" x2="113.51" y2="723" stroke="#B01E48" stroke-width="0.8" />
<line x1="112.41" y1="718" x2="114.61" y2="718" stroke="#B01E48" stroke-width="0.8" />
<line x1="112.41" y1="723" x2="114.61" y2="723" stroke="#B01E48" stroke-width="0.8" />
<rect x="112.31" y="719.3" width="2.4" height="2.4" fill="#B01E48"/>
<line x1="124.8" y1="720.5" x2="124.8" y2="723.5" stroke="#B01E48" stroke-width="0.8" />
<line x1="123.7" y1="720.5" x2="125.9" y2="720.5" stroke="#B01E48" stroke-width="0.8" />
<line x1="123.7" y1="723.5" x2="125.9" y2="723.5" stroke="#B01E48" stroke-width="0.8" />
<rect x="123.6" y="720.8" width="2.4" height="2.4" fill="#B01E48"/>
<line x1="135.11" y1="720.65" x2="135.11" y2="723.65" stroke="#B01E48" stroke-width="0.8" />
<line x1="134.01" y1="720.65" x2="136.21" y2="720.65" stroke="#B01E48" stroke-width="0.8" />
<line x1="134.01" y1="723.65" x2="136.21" y2="723.65" stroke="#B01E48" stroke-width="0.8" />
<rect x="133.91" y="720.95" width="2.4" height="2.4" fill="#B01E48"/>
<line x1="146.4" y1="720.75" x2="146.4" y2="723.75" stroke="#B01E48" stroke-width="0.8" />
<line x1="145.3" y1="720.75" x2="147.5" y2="720.75" stroke="#B01E48" stroke-width="0.8" />
<line x1="145.3" y1="723.75" x2="147.5" y2="723.75" stroke="#B01E48" stroke-width="0.8" />
<rect x="145.2" y="721.05" width="2.4" height="2.4" fill="#B01E48"/>
<path d="M60 675.5 L61.08 675.6 L62.16 675.69 L63.24 675.78 L64.32 675.87 L65.4 675.96 L66.48 676.06 L67.56 676.17 L68.64 676.29 L69.72 676.42 L70.8 676.57 L71.88 676.74 L72.96 676.93 L74.04 677.13 L75.12 677.37 L76.2 677.63 L77.28 677.93 L78.36 678.26 L79.44 678.63 L80.52 679.04 L81.6 679.5 L82.68 680.17 L83.76 681.17 L84.84 682.44 L85.92 683.91 L87 685.53 L88.08 687.24 L89.16 688.96 L90.24 690.64 L91.32 692.21 L92.4 693.65 L93.48 695.11 L94.56 696.62 L95.64 698.15 L96.72 699.67 L97.8 701.17 L98.88 702.63 L99.96 704.01 L101.04 705.3 L102.12 706.47 L103.2 707.5 L104.28 708.44 L105.36 709.36 L106.44 710.24 L107.52 711.07 L108.6 711.85 L109.68 712.57 L110.76 713.22 L111.84 713.79 L112.92 714.27 L114 714.67 L115.08 715.02 L116.16 715.33 L117.24 715.61 L118.32 715.86 L119.4 716.09 L120.48 716.32 L121.56 716.54 L122.64 716.76 L123.72 717 L124.8 717.25" fill="none" stroke="#2C5AA6" stroke-width="1.3"/>
<line x1="60" y1="668.5" x2="60" y2="674.5" stroke="#2C5AA6" stroke-width="0.8" />
<line x1="58.9" y1="668.5" x2="61.1" y2="668.5" stroke="#2C5AA6" stroke-width="0.8" />
<line x1="58.9" y1="674.5" x2="61.1" y2="674.5" stroke="#2C5AA6" stroke-width="0.8" />
<rect x="58.8" y="670.3" width="2.4" height="2.4" fill="#2C5AA6"/>
<line x1="70.31" y1="667.5" x2="70.31" y2="673.5" stroke="#2C5AA6" stroke-width="0.8" />
<line x1="69.21" y1="667.5" x2="71.41" y2="667.5" stroke="#2C5AA6" stroke-width="0.8" />
<line x1="69.21" y1="673.5" x2="71.41" y2="673.5" stroke="#2C5AA6" stroke-width="0.8" />
<rect x="69.11" y="669.3" width="2.4" height="2.4" fill="#2C5AA6"/>
<line x1="81.6" y1="676.5" x2="81.6" y2="680.5" stroke="#2C5AA6" stroke-width="0.8" />
<line x1="80.5" y1="676.5" x2="82.7" y2="676.5" stroke="#2C5AA6" stroke-width="0.8" />
<line x1="80.5" y1="680.5" x2="82.7" y2="680.5" stroke="#2C5AA6" stroke-width="0.8" />
<rect x="80.4" y="677.3" width="2.4" height="2.4" fill="#2C5AA6"/>
<line x1="91.91" y1="688" x2="91.91" y2="698" stroke="#2C5AA6" stroke-width="0.8" />
<line x1="90.81" y1="688" x2="93.01" y2="688" stroke="#2C5AA6" stroke-width="0.8" />
<line x1="90.81" y1="698" x2="93.01" y2="698" stroke="#2C5AA6" stroke-width="0.8" />
<rect x="90.71" y="691.8" width="2.4" height="2.4" fill="#2C5AA6"/>
<line x1="103.2" y1="702.5" x2="103.2" y2="708.5" stroke="#2C5AA6" stroke-width="0.8" />
<line x1="102.1" y1="702.5" x2="104.3" y2="702.5" stroke="#2C5AA6" stroke-width="0.8" />
<line x1="102.1" y1="708.5" x2="104.3" y2="708.5" stroke="#2C5AA6" stroke-width="0.8" />
<rect x="102" y="704.3" width="2.4" height="2.4" fill="#2C5AA6"/>
<line x1="113.51" y1="712" x2="113.51" y2="716" stroke="#2C5AA6" stroke-width="0.8" />
<line x1="112.41" y1="712" x2="114.61" y2="712" stroke="#2C5AA6" stroke-width="0.8" />
<line x1="112.41" y1="716" x2="114.61" y2="716" stroke="#2C5AA6" stroke-width="0.8" />
<rect x="112.31" y="712.8" width="2.4" height="2.4" fill="#2C5AA6"/>
<line x1="124.8" y1="715.75" x2="124.8" y2="718.75" stroke="#2C5AA6" stroke-width="0.8" />
<line x1="123.7" y1="715.75" x2="125.9" y2="715.75" stroke="#2C5AA6" stroke-width="0.8" />
<line x1="123.7" y1="718.75" x2="125.9" y2="718.75" stroke="#2C5AA6" stroke-width="0.8" />
<rect x="123.6" y="716.05" width="2.4" height="2.4" fill="#2C5AA6"/>
<line x1="60.2" y1="665" x2="60.2" y2="728.5" stroke="#000" stroke-width="1.35" />
<line x1="56.7" y1="712.5" x2="60" y2="712.5" stroke="#000" stroke-width="0.9" />
<text x="53" y="714.5" font-size="7" text-anchor="end" font-weight="normal" fill="#111" stroke="#111" stroke-width="0.13">25</text>
<line x1="56.7" y1="700" x2="60" y2="700" stroke="#000" stroke-width="0.9" />
<text x="53" y="702" font-size="7" text-anchor="end" font-weight="normal" fill="#111" stroke="#111" stroke-width="0.13">50</text>
<line x1="56.7" y1="687.5" x2="60" y2="687.5" stroke="#000" stroke-width="0.9" />
<text x="53" y="689.5" font-size="7" text-anchor="end" font-weight="normal" fill="#111" stroke="#111" stroke-width="0.13">75</text>
<line x1="56.7" y1="675" x2="60" y2="675" stroke="#000" stroke-width="0.9" />
<text x="53" y="677" font-size="7" text-anchor="end" font-weight="normal" fill="#111" stroke="#111" stroke-width="0.13">100</text>
<line x1="58" y1="718.75" x2="60" y2="718.75" stroke="#000" stroke-width="0.8" />
<line x1="58" y1="706.25" x2="60" y2="706.25" stroke="#000" stroke-width="0.8" />
<line x1="58" y1="693.75" x2="60" y2="693.75" stroke="#000" stroke-width="0.8" />
<line x1="58" y1="681.25" x2="60" y2="681.25" stroke="#000" stroke-width="0.8" />
<line x1="58" y1="668.75" x2="60" y2="668.75" stroke="#000" stroke-width="0.8" />
<line x1="60" y1="725" x2="149.6" y2="725" stroke="#000" stroke-width="1.1" />
<line x1="60" y1="725" x2="60" y2="728.3" stroke="#000" stroke-width="0.9" />
<text x="60" y="737.8" font-size="7" text-anchor="middle" font-weight="normal" fill="#111" stroke="#111" stroke-width="0.13">1</text>
<line x1="66.5" y1="725" x2="66.5" y2="726.6" stroke="#000" stroke-width="0.8" />
<line x1="70.31" y1="725" x2="70.31" y2="726.6" stroke="#000" stroke-width="0.8" />
<line x1="73" y1="725" x2="73" y2="726.6" stroke="#000" stroke-width="0.8" />
<line x1="75.1" y1="725" x2="75.1" y2="726.6" stroke="#000" stroke-width="0.8" />
<line x1="76.81" y1="725" x2="76.81" y2="726.6" stroke="#000" stroke-width="0.8" />
<line x1="78.25" y1="725" x2="78.25" y2="726.6" stroke="#000" stroke-width="0.8" />
<line x1="79.51" y1="725" x2="79.51" y2="726.6" stroke="#000" stroke-width="0.8" />
<line x1="80.61" y1="725" x2="80.61" y2="726.6" stroke="#000" stroke-width="0.8" />
<line x1="81.6" y1="725" x2="81.6" y2="728.3" stroke="#000" stroke-width="0.9" />
<text x="81.6" y="737.8" font-size="7" text-anchor="middle" font-weight="normal" fill="#111" stroke="#111" stroke-width="0.13">10</text>
<line x1="88.1" y1="725" x2="88.1" y2="726.6" stroke="#000" stroke-width="0.8" />
<line x1="91.91" y1="725" x2="91.91" y2="726.6" stroke="#000" stroke-width="0.8" />
<line x1="94.6" y1="725" x2="94.6" y2="726.6" stroke="#000" stroke-width="0.8" />
<line x1="96.7" y1="725" x2="96.7" y2="726.6" stroke="#000" stroke-width="0.8" />
<line x1="98.41" y1="725" x2="98.41" y2="726.6" stroke="#000" stroke-width="0.8" />
<line x1="99.85" y1="725" x2="99.85" y2="726.6" stroke="#000" stroke-width="0.8" />
<line x1="101.11" y1="725" x2="101.11" y2="726.6" stroke="#000" stroke-width="0.8" />
<line x1="102.21" y1="725" x2="102.21" y2="726.6" stroke="#000" stroke-width="0.8" />
<line x1="103.2" y1="725" x2="103.2" y2="728.3" stroke="#000" stroke-width="0.9" />
<text x="103.2" y="737.8" font-size="7" text-anchor="middle" font-weight="normal" fill="#111" stroke="#111" stroke-width="0.13">100</text>
<line x1="109.7" y1="725" x2="109.7" y2="726.6" stroke="#000" stroke-width="0.8" />
<line x1="113.51" y1="725" x2="113.51" y2="726.6" stroke="#000" stroke-width="0.8" />
<line x1="116.2" y1="725" x2="116.2" y2="726.6" stroke="#000" stroke-width="0.8" />
<line x1="118.3" y1="725" x2="118.3" y2="726.6" stroke="#000" stroke-width="0.8" />
<line x1="120.01" y1="725" x2="120.01" y2="726.6" stroke="#000" stroke-width="0.8" />
<line x1="121.45" y1="725" x2="121.45" y2="726.6" stroke="#000" stroke-width="0.8" />
<line x1="122.71" y1="725" x2="122.71" y2="726.6" stroke="#000" stroke-width="0.8" />
<line x1="123.81" y1="725" x2="123.81" y2="726.6" stroke="#000" stroke-width="0.8" />
<line x1="124.8" y1="725" x2="124.8" y2="728.3" stroke="#000" stroke-width="0.9" />
<text x="124.8" y="737.8" font-size="7" text-anchor="middle" font-weight="normal" fill="#111" stroke="#111" stroke-width="0.13">1000</text>
<line x1="131.3" y1="725" x2="131.3" y2="726.6" stroke="#000" stroke-width="0.8" />
<line x1="135.11" y1="725" x2="135.11" y2="726.6" stroke="#000" stroke-width="0.8" />
<line x1="137.8" y1="725" x2="137.8" y2="726.6" stroke="#000" stroke-width="0.8" />
<line x1="139.9" y1="725" x2="139.9" y2="726.6" stroke="#000" stroke-width="0.8" />
<line x1="141.61" y1="725" x2="141.61" y2="726.6" stroke="#000" stroke-width="0.8" />
<line x1="143.05" y1="725" x2="143.05" y2="726.6" stroke="#000" stroke-width="0.8" />
<line x1="144.31" y1="725" x2="144.31" y2="726.6" stroke="#000" stroke-width="0.8" />
<line x1="145.41" y1="725" x2="145.41" y2="726.6" stroke="#000" stroke-width="0.8" />
<line x1="146.4" y1="725" x2="146.4" y2="728.3" stroke="#000" stroke-width="0.9" />
<text x="146.4" y="737.8" font-size="7" text-anchor="middle" font-weight="normal" fill="#111" stroke="#111" stroke-width="0.13">10000</text>
<text x="104.8" y="750.8" font-size="9.6" text-anchor="middle" font-weight="normal" fill="#222" textLength="29.6" lengthAdjust="spacingAndGlyphs" stroke="#222" stroke-width="0.22">Drug [nM]</text>
<text x="35.8" y="695.3" font-size="9.6" text-anchor="middle" font-weight="normal" fill="#222" textLength="33" lengthAdjust="spacingAndGlyphs" transform="rotate(-90 35.8 695.3)" stroke="#222" stroke-width="0.22">% to DMSO</text>
<text x="70.5" y="659.7" font-size="9.3" text-anchor="start" font-weight="normal" fill="#111" textLength="68.5" lengthAdjust="spacingAndGlyphs" >CD56+ NK-cells</text>
<path d="M203.8 675.5 L205.23 675.6 L206.65 675.69 L208.08 675.79 L209.51 675.88 L210.93 675.97 L212.36 676.06 L213.79 676.15 L215.21 676.24 L216.64 676.34 L218.07 676.43 L219.49 676.54 L220.92 676.64 L222.35 676.76 L223.77 676.87 L225.2 677 L226.63 677.13 L228.05 677.27 L229.48 677.42 L230.91 677.58 L232.33 677.74 L233.76 677.91 L235.19 678.09 L236.61 678.28 L238.04 678.47 L239.47 678.66 L240.89 678.87 L242.32 679.08 L243.75 679.3 L245.17 679.52 L246.6 679.75 L248.03 679.99 L249.45 680.26 L250.88 680.55 L252.31 680.85 L253.73 681.17 L255.16 681.5 L256.59 681.84 L258.01 682.18 L259.44 682.53 L260.87 682.87 L262.29 683.21 L263.72 683.55 L265.15 683.88 L266.57 684.2 L268 684.5 L269.43 684.78 L270.85 685.04 L272.28 685.3 L273.71 685.55 L275.13 685.82 L276.56 686.11 L277.99 686.44 L279.41 686.83 L280.84 687.28 L282.27 687.78 L283.69 688.31 L285.12 688.86 L286.55 689.42 L287.97 689.97 L289.4 690.5" fill="none" stroke="#E59A2C" stroke-width="1.3"/>
<rect x="202.6" y="674.3" width="2.4" height="2.4" fill="#E59A2C"/>
<rect x="212.81" y="674.96" width="2.4" height="2.4" fill="#E59A2C"/>
<line x1="225.2" y1="674.5" x2="225.2" y2="679.5" stroke="#E59A2C" stroke-width="0.8" />
<line x1="224.1" y1="674.5" x2="226.3" y2="674.5" stroke="#E59A2C" stroke-width="0.8" />
<line x1="224.1" y1="679.5" x2="226.3" y2="679.5" stroke="#E59A2C" stroke-width="0.8" />
<rect x="224" y="675.8" width="2.4" height="2.4" fill="#E59A2C"/>
<line x1="235.41" y1="675.12" x2="235.41" y2="681.12" stroke="#E59A2C" stroke-width="0.8" />
<line x1="234.31" y1="675.12" x2="236.51" y2="675.12" stroke="#E59A2C" stroke-width="0.8" />
<line x1="234.31" y1="681.12" x2="236.51" y2="681.12" stroke="#E59A2C" stroke-width="0.8" />
<rect x="234.21" y="676.92" width="2.4" height="2.4" fill="#E59A2C"/>
<line x1="246.6" y1="676.75" x2="246.6" y2="682.75" stroke="#E59A2C" stroke-width="0.8" />
<line x1="245.5" y1="676.75" x2="247.7" y2="676.75" stroke="#E59A2C" stroke-width="0.8" />
<line x1="245.5" y1="682.75" x2="247.7" y2="682.75" stroke="#E59A2C" stroke-width="0.8" />
<rect x="245.4" y="678.55" width="2.4" height="2.4" fill="#E59A2C"/>
<line x1="256.81" y1="677.89" x2="256.81" y2="685.89" stroke="#E59A2C" stroke-width="0.8" />
<line x1="255.71" y1="677.89" x2="257.91" y2="677.89" stroke="#E59A2C" stroke-width="0.8" />
<line x1="255.71" y1="685.89" x2="257.91" y2="685.89" stroke="#E59A2C" stroke-width="0.8" />
<rect x="255.61" y="680.69" width="2.4" height="2.4" fill="#E59A2C"/>
<line x1="268" y1="679.5" x2="268" y2="689.5" stroke="#E59A2C" stroke-width="0.8" />
<line x1="266.9" y1="679.5" x2="269.1" y2="679.5" stroke="#E59A2C" stroke-width="0.8" />
<line x1="266.9" y1="689.5" x2="269.1" y2="689.5" stroke="#E59A2C" stroke-width="0.8" />
<rect x="266.8" y="683.3" width="2.4" height="2.4" fill="#E59A2C"/>
<line x1="278.21" y1="680" x2="278.21" y2="693" stroke="#E59A2C" stroke-width="0.8" />
<line x1="277.11" y1="680" x2="279.31" y2="680" stroke="#E59A2C" stroke-width="0.8" />
<line x1="277.11" y1="693" x2="279.31" y2="693" stroke="#E59A2C" stroke-width="0.8" />
<rect x="277.01" y="685.3" width="2.4" height="2.4" fill="#E59A2C"/>
<line x1="289.4" y1="683.5" x2="289.4" y2="697.5" stroke="#E59A2C" stroke-width="0.8" />
<line x1="288.3" y1="683.5" x2="290.5" y2="683.5" stroke="#E59A2C" stroke-width="0.8" />
<line x1="288.3" y1="697.5" x2="290.5" y2="697.5" stroke="#E59A2C" stroke-width="0.8" />
<rect x="288.2" y="689.3" width="2.4" height="2.4" fill="#E59A2C"/>
<path d="M203.8 681.25 L205.23 681.39 L206.65 681.53 L208.08 681.66 L209.51 681.78 L210.93 681.91 L212.36 682.03 L213.79 682.15 L215.21 682.28 L216.64 682.42 L218.07 682.56 L219.49 682.72 L220.92 682.89 L222.35 683.07 L223.77 683.28 L225.2 683.5 L226.63 683.78 L228.05 684.13 L229.48 684.54 L230.91 684.99 L232.33 685.47 L233.76 685.95 L235.19 686.43 L236.61 686.89 L238.04 687.37 L239.47 687.86 L240.89 688.36 L242.32 688.87 L243.75 689.4 L245.17 689.94 L246.6 690.5 L248.03 691.08 L249.45 691.7 L250.88 692.34 L252.31 692.99 L253.73 693.64 L255.16 694.29 L256.59 694.91 L258.01 695.51 L259.44 696.13 L260.87 696.75 L262.29 697.37 L263.72 697.96 L265.15 698.52 L266.57 699.04 L268 699.5 L269.43 699.91 L270.85 700.29 L272.28 700.64 L273.71 700.98 L275.13 701.3 L276.56 701.62 L277.99 701.95 L279.41 702.28 L280.84 702.6 L282.27 702.92 L283.69 703.24 L285.12 703.55 L286.55 703.87 L287.97 704.18 L289.4 704.5" fill="none" stroke="#D62B84" stroke-width="1.3"/>
<line x1="203.8" y1="677.25" x2="203.8" y2="685.25" stroke="#D62B84" stroke-width="0.8" />
<line x1="202.7" y1="677.25" x2="204.9" y2="677.25" stroke="#D62B84" stroke-width="0.8" />
<line x1="202.7" y1="685.25" x2="204.9" y2="685.25" stroke="#D62B84" stroke-width="0.8" />
<rect x="202.6" y="680.05" width="2.4" height="2.4" fill="#D62B84"/>
<rect x="212.81" y="680.97" width="2.4" height="2.4" fill="#D62B84"/>
<line x1="225.2" y1="680.5" x2="225.2" y2="686.5" stroke="#D62B84" stroke-width="0.8" />
<line x1="224.1" y1="680.5" x2="226.3" y2="680.5" stroke="#D62B84" stroke-width="0.8" />
<line x1="224.1" y1="686.5" x2="226.3" y2="686.5" stroke="#D62B84" stroke-width="0.8" />
<rect x="224" y="682.3" width="2.4" height="2.4" fill="#D62B84"/>
<line x1="235.41" y1="682.5" x2="235.41" y2="690.5" stroke="#D62B84" stroke-width="0.8" />
<line x1="234.31" y1="682.5" x2="236.51" y2="682.5" stroke="#D62B84" stroke-width="0.8" />
<line x1="234.31" y1="690.5" x2="236.51" y2="690.5" stroke="#D62B84" stroke-width="0.8" />
<rect x="234.21" y="685.3" width="2.4" height="2.4" fill="#D62B84"/>
<line x1="246.6" y1="685" x2="246.6" y2="696" stroke="#D62B84" stroke-width="0.8" />
<line x1="245.5" y1="685" x2="247.7" y2="685" stroke="#D62B84" stroke-width="0.8" />
<line x1="245.5" y1="696" x2="247.7" y2="696" stroke="#D62B84" stroke-width="0.8" />
<rect x="245.4" y="689.3" width="2.4" height="2.4" fill="#D62B84"/>
<line x1="256.81" y1="688" x2="256.81" y2="702" stroke="#D62B84" stroke-width="0.8" />
<line x1="255.71" y1="688" x2="257.91" y2="688" stroke="#D62B84" stroke-width="0.8" />
<line x1="255.71" y1="702" x2="257.91" y2="702" stroke="#D62B84" stroke-width="0.8" />
<rect x="255.61" y="693.8" width="2.4" height="2.4" fill="#D62B84"/>
<line x1="268" y1="691" x2="268" y2="708" stroke="#D62B84" stroke-width="0.8" />
<line x1="266.9" y1="691" x2="269.1" y2="691" stroke="#D62B84" stroke-width="0.8" />
<line x1="266.9" y1="708" x2="269.1" y2="708" stroke="#D62B84" stroke-width="0.8" />
<rect x="266.8" y="698.3" width="2.4" height="2.4" fill="#D62B84"/>
<line x1="278.21" y1="693.5" x2="278.21" y2="710.5" stroke="#D62B84" stroke-width="0.8" />
<line x1="277.11" y1="693.5" x2="279.31" y2="693.5" stroke="#D62B84" stroke-width="0.8" />
<line x1="277.11" y1="710.5" x2="279.31" y2="710.5" stroke="#D62B84" stroke-width="0.8" />
<rect x="277.01" y="700.8" width="2.4" height="2.4" fill="#D62B84"/>
<line x1="289.4" y1="694.5" x2="289.4" y2="714.5" stroke="#D62B84" stroke-width="0.8" />
<line x1="288.3" y1="694.5" x2="290.5" y2="694.5" stroke="#D62B84" stroke-width="0.8" />
<line x1="288.3" y1="714.5" x2="290.5" y2="714.5" stroke="#D62B84" stroke-width="0.8" />
<rect x="288.2" y="703.3" width="2.4" height="2.4" fill="#D62B84"/>
<path d="M203.8 681.25 L205.23 681.39 L206.65 681.53 L208.08 681.66 L209.51 681.78 L210.93 681.91 L212.36 682.03 L213.79 682.15 L215.21 682.28 L216.64 682.42 L218.07 682.56 L219.49 682.72 L220.92 682.89 L222.35 683.07 L223.77 683.28 L225.2 683.5 L226.63 683.78 L228.05 684.14 L229.48 684.55 L230.91 685.01 L232.33 685.48 L233.76 685.96 L235.19 686.43 L236.61 686.88 L238.04 687.32 L239.47 687.78 L240.89 688.24 L242.32 688.72 L243.75 689.21 L245.17 689.72 L246.6 690.25 L248.03 690.83 L249.45 691.47 L250.88 692.14 L252.31 692.83 L253.73 693.49 L255.16 694.11 L256.59 694.67 L258.01 695.16 L259.44 695.63 L260.87 696.08 L262.29 696.51 L263.72 696.91 L265.15 697.29 L266.57 697.66 L268 698 L269.43 698.34 L270.85 698.68 L272.28 699.02 L273.71 699.33 L275.13 699.61 L276.56 699.83 L277.99 699.98 L279.41 700.08 L280.84 700.16 L282.27 700.23 L283.69 700.29 L285.12 700.34 L286.55 700.39 L287.97 700.44 L289.4 700.5" fill="none" stroke="#B01E48" stroke-width="1.3"/>
<line x1="203.8" y1="678.25" x2="203.8" y2="684.25" stroke="#B01E48" stroke-width="0.8" />
<line x1="202.7" y1="678.25" x2="204.9" y2="678.25" stroke="#B01E48" stroke-width="0.8" />
<line x1="202.7" y1="684.25" x2="204.9" y2="684.25" stroke="#B01E48" stroke-width="0.8" />
<rect x="202.6" y="680.05" width="2.4" height="2.4" fill="#B01E48"/>
<rect x="212.81" y="680.97" width="2.4" height="2.4" fill="#B01E48"/>
<line x1="225.2" y1="680" x2="225.2" y2="687" stroke="#B01E48" stroke-width="0.8" />
<line x1="224.1" y1="680" x2="226.3" y2="680" stroke="#B01E48" stroke-width="0.8" />
<line x1="224.1" y1="687" x2="226.3" y2="687" stroke="#B01E48" stroke-width="0.8" />
<rect x="224" y="682.3" width="2.4" height="2.4" fill="#B01E48"/>
<line x1="235.41" y1="682" x2="235.41" y2="691" stroke="#B01E48" stroke-width="0.8" />
<line x1="234.31" y1="682" x2="236.51" y2="682" stroke="#B01E48" stroke-width="0.8" />
<line x1="234.31" y1="691" x2="236.51" y2="691" stroke="#B01E48" stroke-width="0.8" />
<rect x="234.21" y="685.3" width="2.4" height="2.4" fill="#B01E48"/>
<line x1="246.6" y1="684.75" x2="246.6" y2="695.75" stroke="#B01E48" stroke-width="0.8" />
<line x1="245.5" y1="684.75" x2="247.7" y2="684.75" stroke="#B01E48" stroke-width="0.8" />
<line x1="245.5" y1="695.75" x2="247.7" y2="695.75" stroke="#B01E48" stroke-width="0.8" />
<rect x="245.4" y="689.05" width="2.4" height="2.4" fill="#B01E48"/>
<line x1="256.81" y1="688.25" x2="256.81" y2="701.25" stroke="#B01E48" stroke-width="0.8" />
<line x1="255.71" y1="688.25" x2="257.91" y2="688.25" stroke="#B01E48" stroke-width="0.8" />
<line x1="255.71" y1="701.25" x2="257.91" y2="701.25" stroke="#B01E48" stroke-width="0.8" />
<rect x="255.61" y="693.55" width="2.4" height="2.4" fill="#B01E48"/>
<line x1="268" y1="691.5" x2="268" y2="704.5" stroke="#B01E48" stroke-width="0.8" />
<line x1="266.9" y1="691.5" x2="269.1" y2="691.5" stroke="#B01E48" stroke-width="0.8" />
<line x1="266.9" y1="704.5" x2="269.1" y2="704.5" stroke="#B01E48" stroke-width="0.8" />
<rect x="266.8" y="696.8" width="2.4" height="2.4" fill="#B01E48"/>
<line x1="278.21" y1="694.5" x2="278.21" y2="705.5" stroke="#B01E48" stroke-width="0.8" />
<line x1="277.11" y1="694.5" x2="279.31" y2="694.5" stroke="#B01E48" stroke-width="0.8" />
<line x1="277.11" y1="705.5" x2="279.31" y2="705.5" stroke="#B01E48" stroke-width="0.8" />
<rect x="277.01" y="698.8" width="2.4" height="2.4" fill="#B01E48"/>
<line x1="289.4" y1="696" x2="289.4" y2="705" stroke="#B01E48" stroke-width="0.8" />
<line x1="288.3" y1="696" x2="290.5" y2="696" stroke="#B01E48" stroke-width="0.8" />
<line x1="288.3" y1="705" x2="290.5" y2="705" stroke="#B01E48" stroke-width="0.8" />
<rect x="288.2" y="699.3" width="2.4" height="2.4" fill="#B01E48"/>
<path d="M203.8 675.25 L204.87 675.26 L205.94 675.27 L207.01 675.28 L208.08 675.29 L209.15 675.3 L210.22 675.31 L211.29 675.32 L212.36 675.33 L213.43 675.34 L214.5 675.35 L215.57 675.36 L216.64 675.37 L217.71 675.39 L218.78 675.4 L219.85 675.41 L220.92 675.43 L221.99 675.44 L223.06 675.46 L224.13 675.48 L225.2 675.5 L226.27 675.53 L227.34 675.56 L228.41 675.6 L229.48 675.65 L230.55 675.71 L231.62 675.77 L232.69 675.84 L233.76 675.91 L234.83 675.99 L235.9 676.07 L236.97 676.15 L238.04 676.24 L239.11 676.33 L240.18 676.43 L241.25 676.52 L242.32 676.62 L243.39 676.71 L244.46 676.81 L245.53 676.91 L246.6 677 L247.67 677.1 L248.74 677.2 L249.81 677.31 L250.88 677.42 L251.95 677.54 L253.02 677.66 L254.09 677.78 L255.16 677.91 L256.23 678.04 L257.3 678.17 L258.37 678.31 L259.44 678.44 L260.51 678.58 L261.58 678.71 L262.65 678.85 L263.72 678.98 L264.79 679.11 L265.86 679.24 L266.93 679.37 L268 679.5" fill="none" stroke="#2C5AA6" stroke-width="1.3"/>
<line x1="203.8" y1="672.25" x2="203.8" y2="678.25" stroke="#2C5AA6" stroke-width="0.8" />
<line x1="202.7" y1="672.25" x2="204.9" y2="672.25" stroke="#2C5AA6" stroke-width="0.8" />
<line x1="202.7" y1="678.25" x2="204.9" y2="678.25" stroke="#2C5AA6" stroke-width="0.8" />
<rect x="202.6" y="674.05" width="2.4" height="2.4" fill="#2C5AA6"/>
<line x1="214.01" y1="672.85" x2="214.01" y2="677.85" stroke="#2C5AA6" stroke-width="0.8" />
<line x1="212.91" y1="672.85" x2="215.11" y2="672.85" stroke="#2C5AA6" stroke-width="0.8" />
<line x1="212.91" y1="677.85" x2="215.11" y2="677.85" stroke="#2C5AA6" stroke-width="0.8" />
<rect x="212.81" y="674.15" width="2.4" height="2.4" fill="#2C5AA6"/>
<line x1="225.2" y1="672.5" x2="225.2" y2="678.5" stroke="#2C5AA6" stroke-width="0.8" />
<line x1="224.1" y1="672.5" x2="226.3" y2="672.5" stroke="#2C5AA6" stroke-width="0.8" />
<line x1="224.1" y1="678.5" x2="226.3" y2="678.5" stroke="#2C5AA6" stroke-width="0.8" />
<rect x="224" y="674.3" width="2.4" height="2.4" fill="#2C5AA6"/>
<line x1="235.41" y1="672.03" x2="235.41" y2="680.03" stroke="#2C5AA6" stroke-width="0.8" />
<line x1="234.31" y1="672.03" x2="236.51" y2="672.03" stroke="#2C5AA6" stroke-width="0.8" />
<line x1="234.31" y1="680.03" x2="236.51" y2="680.03" stroke="#2C5AA6" stroke-width="0.8" />
<rect x="234.21" y="674.83" width="2.4" height="2.4" fill="#2C5AA6"/>
<line x1="246.6" y1="674" x2="246.6" y2="680" stroke="#2C5AA6" stroke-width="0.8" />
<line x1="245.5" y1="674" x2="247.7" y2="674" stroke="#2C5AA6" stroke-width="0.8" />
<line x1="245.5" y1="680" x2="247.7" y2="680" stroke="#2C5AA6" stroke-width="0.8" />
<rect x="245.4" y="675.8" width="2.4" height="2.4" fill="#2C5AA6"/>
<line x1="256.81" y1="675.11" x2="256.81" y2="681.11" stroke="#2C5AA6" stroke-width="0.8" />
<line x1="255.71" y1="675.11" x2="257.91" y2="675.11" stroke="#2C5AA6" stroke-width="0.8" />
<line x1="255.71" y1="681.11" x2="257.91" y2="681.11" stroke="#2C5AA6" stroke-width="0.8" />
<rect x="255.61" y="676.91" width="2.4" height="2.4" fill="#2C5AA6"/>
<line x1="268" y1="677.5" x2="268" y2="681.5" stroke="#2C5AA6" stroke-width="0.8" />
<line x1="266.9" y1="677.5" x2="269.1" y2="677.5" stroke="#2C5AA6" stroke-width="0.8" />
<line x1="266.9" y1="681.5" x2="269.1" y2="681.5" stroke="#2C5AA6" stroke-width="0.8" />
<rect x="266.8" y="678.3" width="2.4" height="2.4" fill="#2C5AA6"/>
<line x1="204" y1="665" x2="204" y2="728.5" stroke="#000" stroke-width="1.35" />
<line x1="200.5" y1="712.5" x2="203.8" y2="712.5" stroke="#000" stroke-width="0.9" />
<text x="196.8" y="714.5" font-size="7" text-anchor="end" font-weight="normal" fill="#111" stroke="#111" stroke-width="0.13">25</text>
<line x1="200.5" y1="700" x2="203.8" y2="700" stroke="#000" stroke-width="0.9" />
<text x="196.8" y="702" font-size="7" text-anchor="end" font-weight="normal" fill="#111" stroke="#111" stroke-width="0.13">50</text>
<line x1="200.5" y1="687.5" x2="203.8" y2="687.5" stroke="#000" stroke-width="0.9" />
<text x="196.8" y="689.5" font-size="7" text-anchor="end" font-weight="normal" fill="#111" stroke="#111" stroke-width="0.13">75</text>
<line x1="200.5" y1="675" x2="203.8" y2="675" stroke="#000" stroke-width="0.9" />
<text x="196.8" y="677" font-size="7" text-anchor="end" font-weight="normal" fill="#111" stroke="#111" stroke-width="0.13">100</text>
<line x1="201.8" y1="718.75" x2="203.8" y2="718.75" stroke="#000" stroke-width="0.8" />
<line x1="201.8" y1="706.25" x2="203.8" y2="706.25" stroke="#000" stroke-width="0.8" />
<line x1="201.8" y1="693.75" x2="203.8" y2="693.75" stroke="#000" stroke-width="0.8" />
<line x1="201.8" y1="681.25" x2="203.8" y2="681.25" stroke="#000" stroke-width="0.8" />
<line x1="201.8" y1="668.75" x2="203.8" y2="668.75" stroke="#000" stroke-width="0.8" />
<line x1="203.8" y1="725" x2="293.3" y2="725" stroke="#000" stroke-width="1.1" />
<line x1="203.8" y1="725" x2="203.8" y2="728.3" stroke="#000" stroke-width="0.9" />
<text x="203.8" y="737.8" font-size="7" text-anchor="middle" font-weight="normal" fill="#111" stroke="#111" stroke-width="0.13">1</text>
<line x1="210.24" y1="725" x2="210.24" y2="726.6" stroke="#000" stroke-width="0.8" />
<line x1="214.01" y1="725" x2="214.01" y2="726.6" stroke="#000" stroke-width="0.8" />
<line x1="216.68" y1="725" x2="216.68" y2="726.6" stroke="#000" stroke-width="0.8" />
<line x1="218.76" y1="725" x2="218.76" y2="726.6" stroke="#000" stroke-width="0.8" />
<line x1="220.45" y1="725" x2="220.45" y2="726.6" stroke="#000" stroke-width="0.8" />
<line x1="221.89" y1="725" x2="221.89" y2="726.6" stroke="#000" stroke-width="0.8" />
<line x1="223.13" y1="725" x2="223.13" y2="726.6" stroke="#000" stroke-width="0.8" />
<line x1="224.22" y1="725" x2="224.22" y2="726.6" stroke="#000" stroke-width="0.8" />
<line x1="225.2" y1="725" x2="225.2" y2="728.3" stroke="#000" stroke-width="0.9" />
<text x="225.2" y="737.8" font-size="7" text-anchor="middle" font-weight="normal" fill="#111" stroke="#111" stroke-width="0.13">10</text>
<line x1="231.64" y1="725" x2="231.64" y2="726.6" stroke="#000" stroke-width="0.8" />
<line x1="235.41" y1="725" x2="235.41" y2="726.6" stroke="#000" stroke-width="0.8" />
<line x1="238.08" y1="725" x2="238.08" y2="726.6" stroke="#000" stroke-width="0.8" />
<line x1="240.16" y1="725" x2="240.16" y2="726.6" stroke="#000" stroke-width="0.8" />
<line x1="241.85" y1="725" x2="241.85" y2="726.6" stroke="#000" stroke-width="0.8" />
<line x1="243.29" y1="725" x2="243.29" y2="726.6" stroke="#000" stroke-width="0.8" />
<line x1="244.53" y1="725" x2="244.53" y2="726.6" stroke="#000" stroke-width="0.8" />
<line x1="245.62" y1="725" x2="245.62" y2="726.6" stroke="#000" stroke-width="0.8" />
<line x1="246.6" y1="725" x2="246.6" y2="728.3" stroke="#000" stroke-width="0.9" />
<text x="246.6" y="737.8" font-size="7" text-anchor="middle" font-weight="normal" fill="#111" stroke="#111" stroke-width="0.13">100</text>
<line x1="253.04" y1="725" x2="253.04" y2="726.6" stroke="#000" stroke-width="0.8" />
<line x1="256.81" y1="725" x2="256.81" y2="726.6" stroke="#000" stroke-width="0.8" />
<line x1="259.48" y1="725" x2="259.48" y2="726.6" stroke="#000" stroke-width="0.8" />
<line x1="261.56" y1="725" x2="261.56" y2="726.6" stroke="#000" stroke-width="0.8" />
<line x1="263.25" y1="725" x2="263.25" y2="726.6" stroke="#000" stroke-width="0.8" />
<line x1="264.69" y1="725" x2="264.69" y2="726.6" stroke="#000" stroke-width="0.8" />
<line x1="265.93" y1="725" x2="265.93" y2="726.6" stroke="#000" stroke-width="0.8" />
<line x1="267.02" y1="725" x2="267.02" y2="726.6" stroke="#000" stroke-width="0.8" />
<line x1="268" y1="725" x2="268" y2="728.3" stroke="#000" stroke-width="0.9" />
<text x="268" y="737.8" font-size="7" text-anchor="middle" font-weight="normal" fill="#111" stroke="#111" stroke-width="0.13">1000</text>
<line x1="274.44" y1="725" x2="274.44" y2="726.6" stroke="#000" stroke-width="0.8" />
<line x1="278.21" y1="725" x2="278.21" y2="726.6" stroke="#000" stroke-width="0.8" />
<line x1="280.88" y1="725" x2="280.88" y2="726.6" stroke="#000" stroke-width="0.8" />
<line x1="282.96" y1="725" x2="282.96" y2="726.6" stroke="#000" stroke-width="0.8" />
<line x1="284.65" y1="725" x2="284.65" y2="726.6" stroke="#000" stroke-width="0.8" />
<line x1="286.09" y1="725" x2="286.09" y2="726.6" stroke="#000" stroke-width="0.8" />
<line x1="287.33" y1="725" x2="287.33" y2="726.6" stroke="#000" stroke-width="0.8" />
<line x1="288.42" y1="725" x2="288.42" y2="726.6" stroke="#000" stroke-width="0.8" />
<line x1="289.4" y1="725" x2="289.4" y2="728.3" stroke="#000" stroke-width="0.9" />
<text x="289.4" y="737.8" font-size="7" text-anchor="middle" font-weight="normal" fill="#111" stroke="#111" stroke-width="0.13">10000</text>
<text x="248.6" y="750.8" font-size="9.6" text-anchor="middle" font-weight="normal" fill="#222" textLength="29.6" lengthAdjust="spacingAndGlyphs" stroke="#222" stroke-width="0.22">Drug [nM]</text>
<text x="179.3" y="695.3" font-size="9.6" text-anchor="middle" font-weight="normal" fill="#222" textLength="33" lengthAdjust="spacingAndGlyphs" transform="rotate(-90 179.3 695.3)" stroke="#222" stroke-width="0.22">% to DMSO</text>
<text x="209.5" y="659.7" font-size="9.3" text-anchor="start" font-weight="normal" fill="#111" textLength="77.5" lengthAdjust="spacingAndGlyphs" >CD45+ leukocytes</text>
<path d="M347.3 677 L348.74 677.07 L350.18 677.13 L351.62 677.19 L353.06 677.25 L354.5 677.31 L355.94 677.37 L357.38 677.43 L358.82 677.49 L360.26 677.55 L361.7 677.62 L363.14 677.69 L364.58 677.76 L366.02 677.83 L367.46 677.91 L368.9 678 L370.34 678.09 L371.78 678.18 L373.22 678.28 L374.66 678.38 L376.1 678.49 L377.54 678.6 L378.98 678.72 L380.42 678.84 L381.86 678.98 L383.3 679.12 L384.74 679.27 L386.18 679.44 L387.62 679.61 L389.06 679.8 L390.5 680 L391.94 680.24 L393.38 680.55 L394.82 680.92 L396.26 681.33 L397.7 681.79 L399.14 682.28 L400.58 682.8 L402.02 683.34 L403.46 683.89 L404.9 684.44 L406.34 684.99 L407.78 685.53 L409.22 686.05 L410.66 686.54 L412.1 687 L413.54 687.43 L414.98 687.83 L416.42 688.23 L417.86 688.63 L419.3 689.04 L420.74 689.47 L422.18 689.92 L423.62 690.42 L425.06 690.96 L426.5 691.53 L427.94 692.11 L429.38 692.71 L430.82 693.32 L432.26 693.92 L433.7 694.5" fill="none" stroke="#E59A2C" stroke-width="1.3"/>
<rect x="346.1" y="675.8" width="2.4" height="2.4" fill="#E59A2C"/>
<rect x="356.41" y="676.24" width="2.4" height="2.4" fill="#E59A2C"/>
<rect x="367.7" y="676.8" width="2.4" height="2.4" fill="#E59A2C"/>
<rect x="378.01" y="677.54" width="2.4" height="2.4" fill="#E59A2C"/>
<rect x="389.3" y="678.8" width="2.4" height="2.4" fill="#E59A2C"/>
<line x1="400.81" y1="680.38" x2="400.81" y2="685.38" stroke="#E59A2C" stroke-width="0.8" />
<line x1="399.71" y1="680.38" x2="401.91" y2="680.38" stroke="#E59A2C" stroke-width="0.8" />
<line x1="399.71" y1="685.38" x2="401.91" y2="685.38" stroke="#E59A2C" stroke-width="0.8" />
<rect x="399.61" y="681.68" width="2.4" height="2.4" fill="#E59A2C"/>
<line x1="412.1" y1="684.5" x2="412.1" y2="689.5" stroke="#E59A2C" stroke-width="0.8" />
<line x1="411" y1="684.5" x2="413.2" y2="684.5" stroke="#E59A2C" stroke-width="0.8" />
<line x1="411" y1="689.5" x2="413.2" y2="689.5" stroke="#E59A2C" stroke-width="0.8" />
<rect x="410.9" y="685.8" width="2.4" height="2.4" fill="#E59A2C"/>
<line x1="422.41" y1="684.5" x2="422.41" y2="695.5" stroke="#E59A2C" stroke-width="0.8" />
<line x1="421.31" y1="684.5" x2="423.51" y2="684.5" stroke="#E59A2C" stroke-width="0.8" />
<line x1="421.31" y1="695.5" x2="423.51" y2="695.5" stroke="#E59A2C" stroke-width="0.8" />
<rect x="421.21" y="688.8" width="2.4" height="2.4" fill="#E59A2C"/>
<line x1="433.7" y1="692" x2="433.7" y2="697" stroke="#E59A2C" stroke-width="0.8" />
<line x1="432.6" y1="692" x2="434.8" y2="692" stroke="#E59A2C" stroke-width="0.8" />
<line x1="432.6" y1="697" x2="434.8" y2="697" stroke="#E59A2C" stroke-width="0.8" />
<rect x="432.5" y="693.3" width="2.4" height="2.4" fill="#E59A2C"/>
<path d="M347.3 681 L348.74 681.23 L350.18 681.44 L351.62 681.65 L353.06 681.86 L354.5 682.06 L355.94 682.26 L357.38 682.46 L358.82 682.67 L360.26 682.89 L361.7 683.12 L363.14 683.36 L364.58 683.61 L366.02 683.89 L367.46 684.18 L368.9 684.5 L370.34 684.85 L371.78 685.25 L373.22 685.69 L374.66 686.16 L376.1 686.67 L377.54 687.21 L378.98 687.78 L380.42 688.37 L381.86 688.99 L383.3 689.63 L384.74 690.28 L386.18 690.95 L387.62 691.62 L389.06 692.31 L390.5 693 L391.94 693.74 L393.38 694.55 L394.82 695.42 L396.26 696.31 L397.7 697.2 L399.14 698.07 L400.58 698.88 L402.02 699.64 L403.46 700.39 L404.9 701.12 L406.34 701.84 L407.78 702.53 L409.22 703.21 L410.66 703.87 L412.1 704.5 L413.54 705.12 L414.98 705.72 L416.42 706.32 L417.86 706.89 L419.3 707.43 L420.74 707.95 L422.18 708.43 L423.62 708.87 L425.06 709.28 L426.5 709.67 L427.94 710.04 L429.38 710.4 L430.82 710.76 L432.26 711.13 L433.7 711.5" fill="none" stroke="#D62B84" stroke-width="1.3"/>
<line x1="347.3" y1="678" x2="347.3" y2="684" stroke="#D62B84" stroke-width="0.8" />
<line x1="346.2" y1="678" x2="348.4" y2="678" stroke="#D62B84" stroke-width="0.8" />
<line x1="346.2" y1="684" x2="348.4" y2="684" stroke="#D62B84" stroke-width="0.8" />
<rect x="346.1" y="679.8" width="2.4" height="2.4" fill="#D62B84"/>
<rect x="356.41" y="681.3" width="2.4" height="2.4" fill="#D62B84"/>
<line x1="368.9" y1="682" x2="368.9" y2="687" stroke="#D62B84" stroke-width="0.8" />
<line x1="367.8" y1="682" x2="370" y2="682" stroke="#D62B84" stroke-width="0.8" />
<line x1="367.8" y1="687" x2="370" y2="687" stroke="#D62B84" stroke-width="0.8" />
<rect x="367.7" y="683.3" width="2.4" height="2.4" fill="#D62B84"/>
<line x1="379.21" y1="685.37" x2="379.21" y2="690.37" stroke="#D62B84" stroke-width="0.8" />
<line x1="378.11" y1="685.37" x2="380.31" y2="685.37" stroke="#D62B84" stroke-width="0.8" />
<line x1="378.11" y1="690.37" x2="380.31" y2="690.37" stroke="#D62B84" stroke-width="0.8" />
<rect x="378.01" y="686.67" width="2.4" height="2.4" fill="#D62B84"/>
<line x1="390.5" y1="690.5" x2="390.5" y2="695.5" stroke="#D62B84" stroke-width="0.8" />
<line x1="389.4" y1="690.5" x2="391.6" y2="690.5" stroke="#D62B84" stroke-width="0.8" />
<line x1="389.4" y1="695.5" x2="391.6" y2="695.5" stroke="#D62B84" stroke-width="0.8" />
<rect x="389.3" y="691.8" width="2.4" height="2.4" fill="#D62B84"/>
<line x1="400.81" y1="697" x2="400.81" y2="701" stroke="#D62B84" stroke-width="0.8" />
<line x1="399.71" y1="697" x2="401.91" y2="697" stroke="#D62B84" stroke-width="0.8" />
<line x1="399.71" y1="701" x2="401.91" y2="701" stroke="#D62B84" stroke-width="0.8" />
<rect x="399.61" y="697.8" width="2.4" height="2.4" fill="#D62B84"/>
<line x1="412.1" y1="702.5" x2="412.1" y2="706.5" stroke="#D62B84" stroke-width="0.8" />
<line x1="411" y1="702.5" x2="413.2" y2="702.5" stroke="#D62B84" stroke-width="0.8" />
<line x1="411" y1="706.5" x2="413.2" y2="706.5" stroke="#D62B84" stroke-width="0.8" />
<rect x="410.9" y="703.3" width="2.4" height="2.4" fill="#D62B84"/>
<line x1="422.41" y1="706.5" x2="422.41" y2="710.5" stroke="#D62B84" stroke-width="0.8" />
<line x1="421.31" y1="706.5" x2="423.51" y2="706.5" stroke="#D62B84" stroke-width="0.8" />
<line x1="421.31" y1="710.5" x2="423.51" y2="710.5" stroke="#D62B84" stroke-width="0.8" />
<rect x="421.21" y="707.3" width="2.4" height="2.4" fill="#D62B84"/>
<rect x="432.5" y="710.3" width="2.4" height="2.4" fill="#D62B84"/>
<path d="M347.3 679.5 L348.74 679.76 L350.18 680.02 L351.62 680.27 L353.06 680.51 L354.5 680.76 L355.94 681 L357.38 681.25 L358.82 681.5 L360.26 681.75 L361.7 682.02 L363.14 682.29 L364.58 682.57 L366.02 682.86 L367.46 683.17 L368.9 683.5 L370.34 683.85 L371.78 684.22 L373.22 684.63 L374.66 685.05 L376.1 685.49 L377.54 685.95 L378.98 686.42 L380.42 686.91 L381.86 687.42 L383.3 687.95 L384.74 688.51 L386.18 689.09 L387.62 689.7 L389.06 690.33 L390.5 691 L391.94 691.74 L393.38 692.58 L394.82 693.47 L396.26 694.39 L397.7 695.28 L399.14 696.13 L400.58 696.89 L402.02 697.57 L403.46 698.22 L404.9 698.85 L406.34 699.45 L407.78 700.02 L409.22 700.55 L410.66 701.05 L412.1 701.5 L413.54 701.92 L414.98 702.31 L416.42 702.67 L417.86 703.02 L419.3 703.34 L420.74 703.65 L422.18 703.95 L423.62 704.24 L425.06 704.51 L426.5 704.77 L427.94 705.02 L429.38 705.26 L430.82 705.51 L432.26 705.75 L433.7 706" fill="none" stroke="#B01E48" stroke-width="1.3"/>
<line x1="347.3" y1="676.5" x2="347.3" y2="682.5" stroke="#B01E48" stroke-width="0.8" />
<line x1="346.2" y1="676.5" x2="348.4" y2="676.5" stroke="#B01E48" stroke-width="0.8" />
<line x1="346.2" y1="682.5" x2="348.4" y2="682.5" stroke="#B01E48" stroke-width="0.8" />
<rect x="346.1" y="678.3" width="2.4" height="2.4" fill="#B01E48"/>
<rect x="356.41" y="680.09" width="2.4" height="2.4" fill="#B01E48"/>
<line x1="368.9" y1="680.5" x2="368.9" y2="686.5" stroke="#B01E48" stroke-width="0.8" />
<line x1="367.8" y1="680.5" x2="370" y2="680.5" stroke="#B01E48" stroke-width="0.8" />
<line x1="367.8" y1="686.5" x2="370" y2="686.5" stroke="#B01E48" stroke-width="0.8" />
<rect x="367.7" y="682.3" width="2.4" height="2.4" fill="#B01E48"/>
<line x1="379.21" y1="684" x2="379.21" y2="689" stroke="#B01E48" stroke-width="0.8" />
<line x1="378.11" y1="684" x2="380.31" y2="684" stroke="#B01E48" stroke-width="0.8" />
<line x1="378.11" y1="689" x2="380.31" y2="689" stroke="#B01E48" stroke-width="0.8" />
<rect x="378.01" y="685.3" width="2.4" height="2.4" fill="#B01E48"/>
<line x1="390.5" y1="688" x2="390.5" y2="694" stroke="#B01E48" stroke-width="0.8" />
<line x1="389.4" y1="688" x2="391.6" y2="688" stroke="#B01E48" stroke-width="0.8" />
<line x1="389.4" y1="694" x2="391.6" y2="694" stroke="#B01E48" stroke-width="0.8" />
<rect x="389.3" y="689.8" width="2.4" height="2.4" fill="#B01E48"/>
<line x1="400.81" y1="694" x2="400.81" y2="700" stroke="#B01E48" stroke-width="0.8" />
<line x1="399.71" y1="694" x2="401.91" y2="694" stroke="#B01E48" stroke-width="0.8" />
<line x1="399.71" y1="700" x2="401.91" y2="700" stroke="#B01E48" stroke-width="0.8" />
<rect x="399.61" y="695.8" width="2.4" height="2.4" fill="#B01E48"/>
<line x1="412.1" y1="698.5" x2="412.1" y2="704.5" stroke="#B01E48" stroke-width="0.8" />
<line x1="411" y1="698.5" x2="413.2" y2="698.5" stroke="#B01E48" stroke-width="0.8" />
<line x1="411" y1="704.5" x2="413.2" y2="704.5" stroke="#B01E48" stroke-width="0.8" />
<rect x="410.9" y="700.3" width="2.4" height="2.4" fill="#B01E48"/>
<line x1="422.41" y1="701.5" x2="422.41" y2="706.5" stroke="#B01E48" stroke-width="0.8" />
<line x1="421.31" y1="701.5" x2="423.51" y2="701.5" stroke="#B01E48" stroke-width="0.8" />
<line x1="421.31" y1="706.5" x2="423.51" y2="706.5" stroke="#B01E48" stroke-width="0.8" />
<rect x="421.21" y="702.8" width="2.4" height="2.4" fill="#B01E48"/>
<rect x="432.5" y="704.8" width="2.4" height="2.4" fill="#B01E48"/>
<path d="M347.3 675.25 L348.38 675.27 L349.46 675.29 L350.54 675.31 L351.62 675.33 L352.7 675.35 L353.78 675.38 L354.86 675.4 L355.94 675.42 L357.02 675.44 L358.1 675.46 L359.18 675.48 L360.26 675.5 L361.34 675.52 L362.42 675.54 L363.5 675.56 L364.58 675.58 L365.66 675.6 L366.74 675.62 L367.82 675.65 L368.9 675.67 L369.98 675.69 L371.06 675.71 L372.14 675.73 L373.22 675.75 L374.3 675.77 L375.38 675.79 L376.46 675.81 L377.54 675.83 L378.62 675.85 L379.7 675.88 L380.78 675.9 L381.86 675.92 L382.94 675.94 L384.02 675.96 L385.1 675.98 L386.18 676 L387.26 676.02 L388.34 676.04 L389.42 676.06 L390.5 676.08 L391.58 676.1 L392.66 676.12 L393.74 676.15 L394.82 676.17 L395.9 676.19 L396.98 676.21 L398.06 676.23 L399.14 676.25 L400.22 676.27 L401.3 676.29 L402.38 676.31 L403.46 676.33 L404.54 676.35 L405.62 676.38 L406.7 676.4 L407.78 676.42 L408.86 676.44 L409.94 676.46 L411.02 676.48 L412.1 676.5" fill="none" stroke="#2C5AA6" stroke-width="1.3"/>
<line x1="347.3" y1="671.25" x2="347.3" y2="679.25" stroke="#2C5AA6" stroke-width="0.8" />
<line x1="346.2" y1="671.25" x2="348.4" y2="671.25" stroke="#2C5AA6" stroke-width="0.8" />
<line x1="346.2" y1="679.25" x2="348.4" y2="679.25" stroke="#2C5AA6" stroke-width="0.8" />
<rect x="346.1" y="674.05" width="2.4" height="2.4" fill="#2C5AA6"/>
<line x1="357.61" y1="672.45" x2="357.61" y2="678.45" stroke="#2C5AA6" stroke-width="0.8" />
<line x1="356.51" y1="672.45" x2="358.71" y2="672.45" stroke="#2C5AA6" stroke-width="0.8" />
<line x1="356.51" y1="678.45" x2="358.71" y2="678.45" stroke="#2C5AA6" stroke-width="0.8" />
<rect x="356.41" y="674.25" width="2.4" height="2.4" fill="#2C5AA6"/>
<line x1="368.9" y1="672.17" x2="368.9" y2="679.17" stroke="#2C5AA6" stroke-width="0.8" />
<line x1="367.8" y1="672.17" x2="370" y2="672.17" stroke="#2C5AA6" stroke-width="0.8" />
<line x1="367.8" y1="679.17" x2="370" y2="679.17" stroke="#2C5AA6" stroke-width="0.8" />
<rect x="367.7" y="674.47" width="2.4" height="2.4" fill="#2C5AA6"/>
<line x1="379.21" y1="672.37" x2="379.21" y2="679.37" stroke="#2C5AA6" stroke-width="0.8" />
<line x1="378.11" y1="672.37" x2="380.31" y2="672.37" stroke="#2C5AA6" stroke-width="0.8" />
<line x1="378.11" y1="679.37" x2="380.31" y2="679.37" stroke="#2C5AA6" stroke-width="0.8" />
<rect x="378.01" y="674.67" width="2.4" height="2.4" fill="#2C5AA6"/>
<line x1="390.5" y1="672.58" x2="390.5" y2="679.58" stroke="#2C5AA6" stroke-width="0.8" />
<line x1="389.4" y1="672.58" x2="391.6" y2="672.58" stroke="#2C5AA6" stroke-width="0.8" />
<line x1="389.4" y1="679.58" x2="391.6" y2="679.58" stroke="#2C5AA6" stroke-width="0.8" />
<rect x="389.3" y="674.88" width="2.4" height="2.4" fill="#2C5AA6"/>
<line x1="400.81" y1="672.78" x2="400.81" y2="679.78" stroke="#2C5AA6" stroke-width="0.8" />
<line x1="399.71" y1="672.78" x2="401.91" y2="672.78" stroke="#2C5AA6" stroke-width="0.8" />
<line x1="399.71" y1="679.78" x2="401.91" y2="679.78" stroke="#2C5AA6" stroke-width="0.8" />
<rect x="399.61" y="675.08" width="2.4" height="2.4" fill="#2C5AA6"/>
<line x1="412.1" y1="673.5" x2="412.1" y2="679.5" stroke="#2C5AA6" stroke-width="0.8" />
<line x1="411" y1="673.5" x2="413.2" y2="673.5" stroke="#2C5AA6" stroke-width="0.8" />
<line x1="411" y1="679.5" x2="413.2" y2="679.5" stroke="#2C5AA6" stroke-width="0.8" />
<rect x="410.9" y="675.3" width="2.4" height="2.4" fill="#2C5AA6"/>
<line x1="347.5" y1="665" x2="347.5" y2="728.5" stroke="#000" stroke-width="1.35" />
<line x1="344" y1="712.5" x2="347.3" y2="712.5" stroke="#000" stroke-width="0.9" />
<text x="340.3" y="714.5" font-size="7" text-anchor="end" font-weight="normal" fill="#111" stroke="#111" stroke-width="0.13">25</text>
<line x1="344" y1="700" x2="347.3" y2="700" stroke="#000" stroke-width="0.9" />
<text x="340.3" y="702" font-size="7" text-anchor="end" font-weight="normal" fill="#111" stroke="#111" stroke-width="0.13">50</text>
<line x1="344" y1="687.5" x2="347.3" y2="687.5" stroke="#000" stroke-width="0.9" />
<text x="340.3" y="689.5" font-size="7" text-anchor="end" font-weight="normal" fill="#111" stroke="#111" stroke-width="0.13">75</text>
<line x1="344" y1="675" x2="347.3" y2="675" stroke="#000" stroke-width="0.9" />
<text x="340.3" y="677" font-size="7" text-anchor="end" font-weight="normal" fill="#111" stroke="#111" stroke-width="0.13">100</text>
<line x1="345.3" y1="718.75" x2="347.3" y2="718.75" stroke="#000" stroke-width="0.8" />
<line x1="345.3" y1="706.25" x2="347.3" y2="706.25" stroke="#000" stroke-width="0.8" />
<line x1="345.3" y1="693.75" x2="347.3" y2="693.75" stroke="#000" stroke-width="0.8" />
<line x1="345.3" y1="681.25" x2="347.3" y2="681.25" stroke="#000" stroke-width="0.8" />
<line x1="345.3" y1="668.75" x2="347.3" y2="668.75" stroke="#000" stroke-width="0.8" />
<line x1="347.3" y1="725" x2="436.2" y2="725" stroke="#000" stroke-width="1.1" />
<line x1="347.3" y1="725" x2="347.3" y2="728.3" stroke="#000" stroke-width="0.9" />
<text x="347.3" y="737.8" font-size="7" text-anchor="middle" font-weight="normal" fill="#111" stroke="#111" stroke-width="0.13">1</text>
<line x1="353.8" y1="725" x2="353.8" y2="726.6" stroke="#000" stroke-width="0.8" />
<line x1="357.61" y1="725" x2="357.61" y2="726.6" stroke="#000" stroke-width="0.8" />
<line x1="360.3" y1="725" x2="360.3" y2="726.6" stroke="#000" stroke-width="0.8" />
<line x1="362.4" y1="725" x2="362.4" y2="726.6" stroke="#000" stroke-width="0.8" />
<line x1="364.11" y1="725" x2="364.11" y2="726.6" stroke="#000" stroke-width="0.8" />
<line x1="365.55" y1="725" x2="365.55" y2="726.6" stroke="#000" stroke-width="0.8" />
<line x1="366.81" y1="725" x2="366.81" y2="726.6" stroke="#000" stroke-width="0.8" />
<line x1="367.91" y1="725" x2="367.91" y2="726.6" stroke="#000" stroke-width="0.8" />
<line x1="368.9" y1="725" x2="368.9" y2="728.3" stroke="#000" stroke-width="0.9" />
<text x="368.9" y="737.8" font-size="7" text-anchor="middle" font-weight="normal" fill="#111" stroke="#111" stroke-width="0.13">10</text>
<line x1="375.4" y1="725" x2="375.4" y2="726.6" stroke="#000" stroke-width="0.8" />
<line x1="379.21" y1="725" x2="379.21" y2="726.6" stroke="#000" stroke-width="0.8" />
<line x1="381.9" y1="725" x2="381.9" y2="726.6" stroke="#000" stroke-width="0.8" />
<line x1="384" y1="725" x2="384" y2="726.6" stroke="#000" stroke-width="0.8" />
<line x1="385.71" y1="725" x2="385.71" y2="726.6" stroke="#000" stroke-width="0.8" />
<line x1="387.15" y1="725" x2="387.15" y2="726.6" stroke="#000" stroke-width="0.8" />
<line x1="388.41" y1="725" x2="388.41" y2="726.6" stroke="#000" stroke-width="0.8" />
<line x1="389.51" y1="725" x2="389.51" y2="726.6" stroke="#000" stroke-width="0.8" />
<line x1="390.5" y1="725" x2="390.5" y2="728.3" stroke="#000" stroke-width="0.9" />
<text x="390.5" y="737.8" font-size="7" text-anchor="middle" font-weight="normal" fill="#111" stroke="#111" stroke-width="0.13">100</text>
<line x1="397" y1="725" x2="397" y2="726.6" stroke="#000" stroke-width="0.8" />
<line x1="400.81" y1="725" x2="400.81" y2="726.6" stroke="#000" stroke-width="0.8" />
<line x1="403.5" y1="725" x2="403.5" y2="726.6" stroke="#000" stroke-width="0.8" />
<line x1="405.6" y1="725" x2="405.6" y2="726.6" stroke="#000" stroke-width="0.8" />
<line x1="407.31" y1="725" x2="407.31" y2="726.6" stroke="#000" stroke-width="0.8" />
<line x1="408.75" y1="725" x2="408.75" y2="726.6" stroke="#000" stroke-width="0.8" />
<line x1="410.01" y1="725" x2="410.01" y2="726.6" stroke="#000" stroke-width="0.8" />
<line x1="411.11" y1="725" x2="411.11" y2="726.6" stroke="#000" stroke-width="0.8" />
<line x1="412.1" y1="725" x2="412.1" y2="728.3" stroke="#000" stroke-width="0.9" />
<text x="412.1" y="737.8" font-size="7" text-anchor="middle" font-weight="normal" fill="#111" stroke="#111" stroke-width="0.13">1000</text>
<line x1="418.6" y1="725" x2="418.6" y2="726.6" stroke="#000" stroke-width="0.8" />
<line x1="422.41" y1="725" x2="422.41" y2="726.6" stroke="#000" stroke-width="0.8" />
<line x1="425.1" y1="725" x2="425.1" y2="726.6" stroke="#000" stroke-width="0.8" />
<line x1="427.2" y1="725" x2="427.2" y2="726.6" stroke="#000" stroke-width="0.8" />
<line x1="428.91" y1="725" x2="428.91" y2="726.6" stroke="#000" stroke-width="0.8" />
<line x1="430.35" y1="725" x2="430.35" y2="726.6" stroke="#000" stroke-width="0.8" />
<line x1="431.61" y1="725" x2="431.61" y2="726.6" stroke="#000" stroke-width="0.8" />
<line x1="432.71" y1="725" x2="432.71" y2="726.6" stroke="#000" stroke-width="0.8" />
<line x1="433.7" y1="725" x2="433.7" y2="728.3" stroke="#000" stroke-width="0.9" />
<text x="433.7" y="737.8" font-size="7" text-anchor="middle" font-weight="normal" fill="#111" stroke="#111" stroke-width="0.13">10000</text>
<text x="392.1" y="750.8" font-size="9.6" text-anchor="middle" font-weight="normal" fill="#222" textLength="29.6" lengthAdjust="spacingAndGlyphs" stroke="#222" stroke-width="0.22">Drug [nM]</text>
<text x="323.1" y="695.3" font-size="9.6" text-anchor="middle" font-weight="normal" fill="#222" textLength="33" lengthAdjust="spacingAndGlyphs" transform="rotate(-90 323.1 695.3)" stroke="#222" stroke-width="0.22">% to DMSO</text>
<text x="365" y="659.7" font-size="9.3" text-anchor="start" font-weight="normal" fill="#111" textLength="54.5" lengthAdjust="spacingAndGlyphs" >CD3+ T-cells</text>
<line x1="440.7" y1="668" x2="447" y2="668" stroke="#2C5AA6" stroke-width="1" />
<rect x="442.6" y="666.8" width="2.4" height="2.4" fill="#2C5AA6"/>
<text x="450.3" y="670.1" font-size="6" text-anchor="start" font-weight="normal" fill="#222" textLength="25.4" lengthAdjust="spacingAndGlyphs" stroke="#222" stroke-width="0.13">Ruxolitinib</text>
<line x1="440.7" y1="677.8" x2="447" y2="677.8" stroke="#E59A2C" stroke-width="1" />
<rect x="442.6" y="676.6" width="2.4" height="2.4" fill="#E59A2C"/>
<text x="450.3" y="679.9" font-size="6" text-anchor="start" font-weight="normal" fill="#222" textLength="27.2" lengthAdjust="spacingAndGlyphs" stroke="#222" stroke-width="0.13">Idasanutlin</text>
<line x1="440.7" y1="687.9" x2="447" y2="687.9" stroke="#B01E48" stroke-width="1" />
<rect x="442.6" y="686.7" width="2.4" height="2.4" fill="#B01E48"/>
<text x="450.3" y="690" font-size="6" text-anchor="start" font-weight="normal" fill="#222" textLength="54.3" lengthAdjust="spacingAndGlyphs" stroke="#222" stroke-width="0.13">Idas. + 100 nM Ruxo.</text>
<line x1="440.7" y1="697.4" x2="447" y2="697.4" stroke="#D62B84" stroke-width="1" />
<rect x="442.6" y="696.2" width="2.4" height="2.4" fill="#D62B84"/>
<text x="450.3" y="699.5" font-size="6" text-anchor="start" font-weight="normal" fill="#222" textLength="54.3" lengthAdjust="spacingAndGlyphs" stroke="#222" stroke-width="0.13">Idas. + 300 nM Ruxo.</text>
<rect x="8" y="529.5" width="13.9" height="78.2" fill="#C8C7CC"/>
<rect x="8" y="655.9" width="13.9" height="78" fill="#C8C7CC"/>
<text x="17.4" y="568.4" font-size="7.4" text-anchor="middle" font-weight="normal" fill="#222" textLength="27.8" lengthAdjust="spacingAndGlyphs" transform="rotate(-90 17.4 568.4)" stroke="#222" stroke-width="0.15">Tipifarnib</text>
<text x="17.4" y="695" font-size="7.4" text-anchor="middle" font-weight="normal" fill="#222" textLength="33.1" lengthAdjust="spacingAndGlyphs" transform="rotate(-90 17.4 695)" stroke="#222" stroke-width="0.15">Idasanutlin</text>
</svg></body></html>
